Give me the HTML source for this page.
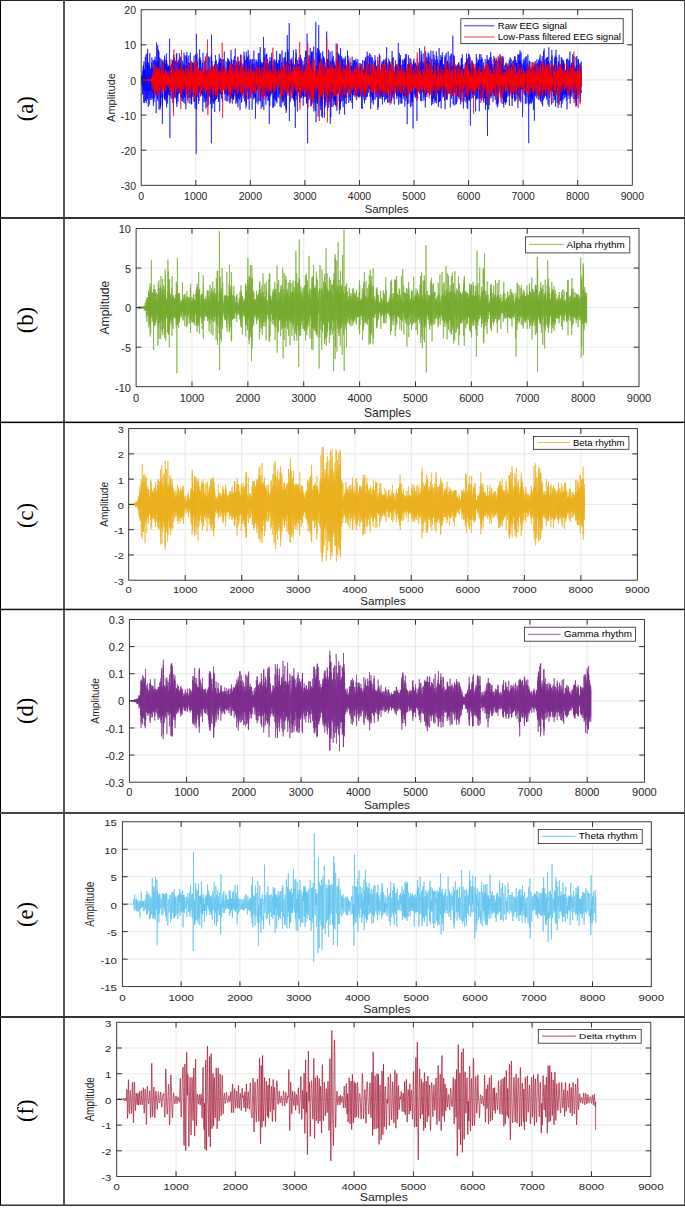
<!DOCTYPE html>
<html><head><meta charset="utf-8"><title>EEG rhythms</title><style>
html,body{margin:0;padding:0;background:#fff;}
body{width:685px;height:1211px;overflow:hidden;font-family:"Liberation Sans",sans-serif;}
svg{display:block;}
</style></head><body>
<svg width="685" height="1211" viewBox="0 0 685 1211" font-family='"Liberation Sans", sans-serif'>
<rect width="685" height="1211" fill="#fff"/>
<path d="M195.77 9.7V185.3M250.33 9.7V185.3M304.9 9.7V185.3M359.47 9.7V185.3M414.03 9.7V185.3M468.6 9.7V185.3M523.17 9.7V185.3M577.73 9.7V185.3M141.2 150.18H632.3M141.2 115.06H632.3M141.2 79.94H632.3M141.2 44.82H632.3" stroke="#e3e3e3" stroke-width="0.8" fill="none"/>
<clipPath id="clipa"><rect x="141.2" y="9.7" width="491.1" height="175.6"/></clipPath>
<g clip-path="url(#clipa)"><path transform="scale(.1)" d="M1413 791l1 14 2-26 1 74 0-105 3 70 1-64 0 57 3-42 1 178 2-9 1-142 0-89 1 175 3-214 1 241 2-259 0 323 2 53 1-300 1-112 2 129 2-29 1 316 1-339 1 170 1 59 1-204 3 108 1-195 1-62 0 440 4-37 1-346 0 386 3-412 0-56 1 489 2-291 0 163 3-2 0-156 3-109 1 356 2-459 1 331 1 128 1-503 1 227 1 198 2-264 2 208 1 211 1-380 2-67 2 193 1 53 1 85 2-189 1 283 1-396 2 249 2-369 1 381 1-191 1 50 1 4 1 224 2-134 1-179 3 183 1-124 1 233 1-301 1 224 2-142 2-134 1 330 1 44 0-424 3 407 1-310 1 8 2 136 2-115 1 232 1-333 1 264 3 194 0-283 1 111 1 95 2-378 2 230 0 188 1-278 2-15 1 248 3-379 0 255 3-181 0 177 1-281 1 310 3-262 1 336 1-6 1-294 1 73 3 409 0-413 2 106 2-402 1 505 1-41 0-271 3 147 1 223 1-349 1 349 3-535 1 503 0-198 2 254 2-405 1 281 1-392 1 416 3-17 1-379 0 130 1 450 2-274 1-245 3 66 1 202 1-199 1 253 2 197 0-421 2-3 2 400 2-486 1 356 0 106 2-366 2 298 0-236 2 71 2-109 2 168 0-278 1 82 2 216 2-171 1 516 1-629 0 452 3-200 1-248 2 118 1 169 2-194 1 160 1-241 2 188 2-131 1 295 1-7 0-192 3 218 1-441 1 422 0-390 2 386 1-331 3 42 1 317 2-365 1 256 1-47 2-245 1 128 1 290 1-88 1-395 2 539 1-468 2 378 1-348 2 347 1-313 1 7 2 360 2-94 0-273 2 204 1-220 2 298 0-294 2 268 2-171 1 137 1-190 1-30 1 164 3 116 0-324 2-240 0 336 3 655 2-717 1 76 1 179 1-8 2-242 1 296 1-182 2-117 2 162 1 20 1-207 1 237 1-152 2 6 0 259 2-27 2-140 2-222 0 218 3-114 1 236 2 91 1-417 1 64 0 332 3 73 1-539 1 330 0-178 2-91 3 366 1-396 0 342 2-97 2-202 1 25 1 343 2-205 1 174 1-349 1 319 2 45 1-237 1 125 2-117 1 140 2-335 2 78 0 412 2-505 2 296 0 243 2-396 2 309 1-358 3 67 0 253 1-246 1 211 1 109 2-304 1-117 1 341 2-29 1-113 2-183 2 193 1 39 1-313 2 32 1 369 1-219 0 196 2-16 2-238 1 214 1-305 2 404 2-290 2 249 1-301 1 242 1-289 1 428 1-220 2 185 0-282 3 15 2 209 0-58 1-178 3 334 1-406 1 30 2 235 0 112 3-350 0 302 2-224 1 179 1 124 3 12 1-501 1 425 0-303 2 327 1-315 2-8 1 314 2-413 1 262 1 223 1-274 3-53 1 204 2-261 1 438 0-234 1-303 2 180 1 128 2 72 2-256 2-161 0 248 1-193 1 219 4 153 0-284 2 156 0 184 3-335 0 308 2-351 1 164 2-129 0 221 3-324 0 324 1-117 3-86 0 301 2-209 1 148 1-287 2-1 1 407 2-77 1-432 2 4 1 326 1 106 1-225 2 190 1-290 1 349 1-236 2 294 2-326 1 320 1-215 2-146 1 236 2 55 0-281 2-61 2 81 1 243 1-277 2-49 2 196 1-3 1-184 1 10 2 336 2 39 1-464 0 262 1-155 2 300 2-227 1 279 1-308 1 42 2 339 2-333 1 189 3-398 0 287 1 90 2-194 1 21 1 788 2-1198 1 665 1-368 0 459 4-560 1 429 1-336 1 238 1 78 1-331 2 329 1-216 1 246 1-197 3-50 1 161 2 154 1-301 1-54 0 135 3 189 0-424 3 167 1-106 1-151 1 429 3-300 1 264 1-314 2 196 1 2 1 192 2-111 0-253 2 84 1 241 2-244 1 240 2-144 1 165 1-229 1 200 3 46 1-331 1 120 1 179 1-255 2 446 1-363 1-228 1 110 1 329 2-101 1-139 3 5 1 290 1-23 1-264 2-121 1 322 1 45 2-207 1-64 2 314 2-115 1-309 0 267 1-290 3 20 1 355 1 135 1-381 3 45 1 256 0-298 1 266 2-33 2-411 1 322 2 218 1-309 0 219 3-241 1 149 1-197 0 166 2 99 1-232 3 328 1-488 1 26 0 282 4-165 1 254 0-114 3-145 1 262 1-332 1-59 1 232 2-93 2 192 1-87 1 224 2-190 1-136 1-19 2 214 0 70 2-423 2 875 1-1086 3 321 0 305 1-363 2 302 0 173 1-426 3 20 1 158 1 175 1-346 2 6 2 366 1-102 1-222 2 295 1-303 1 110 2 50 0 167 1-328 3 288 0-338 3 466 1-478 1 17 2 352 0-127 1-272 3 386 0-448 2 49 1 350 2 0 1-269 1 38 1-114 2 386 1-340 2 338 1-186 1 75 3-238 1 85 0 205 2-152 1 149 2-254 1 274 2 30 1-302 2 345 1-174 1-222 1 221 2 152 2-458 1 62 1 328 2-334 1 520 1-203 0-209 3 214 1-286 2 235 0-286 3 362 1-188 1-118 1 296 2 15 1-291 2 329 1-320 1-73 1 349 2-226 1 63 2-179 1 416 1-56 2-288 2 112 1 85 2-163 1 91 1-202 0 212 3 96 1-103 1 55 0-202 3 225 1-361 1 161 2 266 1-244 1 154 3-41 1 194 1-75 1-159 2 155 1-189 1 124 2-248 2 137 1 195 0-228 2 84 2-34 0 247 2-299 1 150 2-8 1-233 2 104 1 234 1-382 1 424 2 9 1-380 2 317 2-359 1 259 1-129 1-91 1 310 2-335 0 246 2-182 1 106 3-159 0 418 2-146 1-214 2 149 2-152 1 53 1 270 1-258 2 191 1-428 1 478 3-109 1-274 1 364 0-247 2 63 2 212 1-300 2 351 1-399 1 344 3-165 0 69 1-6 2-278 2 79 1 252 0 65 2-348 1 338 2-390 1 368 1-317 3-86 1 259 0-172 2 273 1-4 1-221 2 152 2-363 0 465 1-181 3-114 1 381 1-112 1-183 1-83 1 306 3-260 1 280 1-366 2 393 2-252 1 271 0-40 1-343 3 308 1-376 2-14 1 505 1-342 1 256 1-266 2 167 2 93 1-366 1 280 1-282 3 181 1 134 0-270 2 339 2-139 1-183 1 427 2-272 2 121 1-405 2 426 0-242 1 33 0-144 4 196 0 144 2-234 1 302 1-390 1 383 3-54 1-211 0 205 2-286 2 10 1 244 1-230 2 188 1-247 2 170 1-136 2 200 2-128 0 201 1-61 2-367 1 294 1-172 3-81 0 456 1-398 2 220 1-175 2 189 2-216 1 307 0 54 1-396 2 47 2 438 1-363 1 312 2-516 2 538 1-390 0 322 2-171 2-152 1-99 1 356 1-343 2 252 1 39 2-244 1 34 1 332 2-491 1 279 1 64 1-141 3 289 0-439 2 101 2 242 0 202 2-436 2 73 0 90 2 83 0-309 3 275 1-261 2 66 0 281 3 7 1-375 1 392 1-340 2-2 2 194 2-129 0 185 2-4 1-231 2-59 0 501 1-11 2-375 2-123 1 343 1-191 0 115 3-213 1 290 1-153 3 87 0 125 1-287 2-199 1 460 2-332 1 336 2-282 0 193 3-119 1 170 1 52 0-391 4 377 0-240 1 456 1-510 2 235 1-261 3-33 0 410 2-36 1-257 1 168 2-306 2 35 0 251 3-264 1 158 2 79 0-169 2 92 1 84 1 182 2-294 0 262 1-481 3 303 1-202 1 265 1-273 2-93 2 301 1 32 2-121 1-58 1 66 2-94 0 358 2-544 0 532 2-406 2 367 1-263 1 139 3-221 1 469 0-444 1 225 3 60 1-240 1-56 1 250 3-259 0 294 2 149 2-319 2 197 0-235 1-56 0 228 3 91 1-353 1 237 1-486 2 388 1 340 2-196 2-327 0 79 2 304 1-210 2 125 1-395 2 295 1-226 1 292 2-120 1 228 2-26 1-293 1 34 0 384 3-397 1 324 2-18 0-414 2 318 1-323 2 404 1-309 2 327 1-249 1 245 1-366 2 152 2 269 2-48 0-294 1 332 1-364 3 25 1 331 1 7 1-259 3 498 1-412 1 94 1-307 1 75 1 374 2-493 2 367 1-7 2-177 1-77 0 290 2-356 2 293 1-23 2-153 0 216 2-364 2 301 0-352 3 172 1 205 1-257 1 271 1-217 2 293 2 84 1-369 2 224 1-326 1 340 2-171 0 296 2-391 1 163 2-189 1 44 1 294 1-163 1-238 3 224 1 246 1-355 2 271 2-112 0-250 2 43 0 346 2-106 2-137 1 12 1-175 2 337 2-243 0 321 1-503 3 359 0 163 3-193 1-209 2 226 1-217 2 91 0 119 2-215 1 336 2-115 0-158 1 26 3 253 1-52 0-326 3 294 0-200 2-83 1 217 2-289 1 403 1-231 2 356 1-349 1 93 1-270 2 324 2 47 1-170 1-36 2 370 2-420 1 196 0-172 1 174 2-230 1 256 2-375 1 527 2-237 2 220 1-352 1 242 2-203 1 293 1-415 2 362 0-264 2 97 1 242 1-282 2 168 0-226 3 107 1 275 2-150 1-338 2 297 1-248 2-30 0 382 3-449 0 273 2-147 1 228 1 204 2-390 2 438 1-469 0 442 2-485 1 198 1-146 2 291 2-387 2-222 1 520 1-293 1 332 2-419 1 450 2-92 1-331 2 340 1-238 1 264 1-254 2 224 1-188 1 257 1-692 2 980 1-525 1 241 1-280 2 255 2-204 2 319 0-425 2 282 0-162 3 124 1-186 1 150 2-196 1 294 2-295 1 40 1 293 3-89 0-269 1 293 1-223 2 31 2 218 1 85 1-351 1 114 1 155 3 85 1-483 1 278 2 215 0-289 1 301 2-326 2 255 2-220 1 352 0-422 3 346 0 22 2-202 2 7 1 463 2-702 0 373 1-63 2-269 2-129 1 469 1-430 1 263 2 52 1-161 2 314 1-361 3 24 0 135 2 318 1-514 0 60 1 190 3 52 1-146 1-62 1 226 2-2 0-279 4 23 0 262 2-350 0 244 2 143 2-372 2 123 0 122 1 193 1-442 2 191 2 213 2-66 0-375 1 54 1 190 4 184 0-374 1 241 2-118 1 254 1-394 3 114 0 227 2-280 1 301 1-243 0 258 3-290 1 177 1-110 2-131 3 84 0 364 1-354 1 265 1-261 1 275 3-336 1 196 1-6 2-175 1 238 2-238 1-88 1 357 1 42 1-257 2-77 1 305 1 23 3-455 0 117 2 328 2-104 1-346 2 254 1 206 0 70 1-204 3-12 1 208 1-691 1 661 2-309 2 744 1-497 1-242 2 318 1-380 2 195 1 122 1-175 2 184 1-43 1-321 1-19 2 422 2-265 1 241 2-269 1 135 1-282 1 388 1-72 1-393 2 300 2 182 1-349 1 265 2 187 1-377 1 371 2-482 1-59 1 392 1-253 1-130 2 515 2-354 1 180 1-352 2 139 1 215 2 145 0-258 3-58 0 201 2-224 1 271 1 4 1-485 3 649 0-294 2 211 1-217 3-31 1 205 0-279 2 234 1-117 1-95 2 52 2 327 0-254 1-265 2-371 2 1001 2-208 1-270 1 164 2-258 2 370 1-496 1 120 1 397 2-69 0-490 2 263 1 288 1-369 1 192 3-144 1 454 1-205 1-472 3 402 0-638 1 455 1-157 3 398 1-445 1 90 0 327 3 12 0-388 2 226 1 290 2-86 1-295 3 125 1 296 0-571 1 330 4-274 0 204 1-79 1 453 2-335 1-80 3-97 0 391 2-54 1-384 2 573 0-430 2-234 2 391 1-220 1 232 2 28 1-380 2 34 1 203 2-227 0 277 3 54 0-246 2 517 1-588 2 151 1 332 0 9 2-388 1 298 1-311 2 132 2 180 2 67 1-433 0 186 2 207 1-354 2 213 1-24 2-538 1 199 1 426 1-347 1 377 2 9 2-388 1 517 2-462 1 380 0-394 2-42 2 487 1-150 1-244 1-187 3 489 1-96 1-240 1 106 1 264 2-180 1 135 2-70 1-357 2-31 1 365 1 357 1-476 1 239 2-393 1 563 1-410 2 184 1-330 2 38 2 330 1 88 1-406 2 280 1-436 1 477 2-404 1 361 2-355 2 85 0 203 2 191 0-443 2-63 1 388 2 34 2-247 1 271 1-396 2 436 1-418 1 303 1-259 1 337 3-292 2-46 0 351 2-373 1 349 1-278 0 330 4-207 0 220 1-56 2-573 1 487 1-223 3 110 0 200 2 98 1-508 1 334 2-410 1 41 2 374 1-201 2-142 0 51 2 173 2-286 1 384 1-110 0 60 3-323 1 368 3-251 0 347 1-454 1 588 1-320 2 265 2-201 1-130 1 281 1-190 2 252 1-618 1 83 3 408 1-15 1-338 2-56 1 434 2 18 1-410 1-38 1 298 2 60 1-327 1 334 2-302 1-34 1 339 1 74 2-214 1 277 2-359 2 193 1-323 1 2 1 361 2-304 0 356 2-277 0 231 4 195 1-527 1-33 1 450 2-384 1 179 1-268 1 414 3-321 1 137 1-12 0-83 3-16 1 243 1 110 1-354 2-8 1 253 2-207 0 141 3 66 1-217 1-204 1 382 3-74 1-96 0-160 1 292 2-197 1 172 2-219 1 398 2 26 0-281 4 222 0-160 2-50 1 175 0-15 2-238 1 95 1 226 3-64 1-171 1 238 1-380 1-8 3 319 0-278 2 83 2-87 1 268 1-262 1 162 1-39 2 245 2-464 1 305 1 216 2-322 1 186 1-224 3-94 0 319 1-291 2 253 1 38 2-346 2 257 1-263 0 35 2 205 1 71 1-301 2-10 0 146 3 222 1-344 2 67 1 262 2-274 1 129 2 63 0-126 1-158 1 291 2-264 0 374 4 15 1-378 0 1 3 335 0-311 2 188 1-84 2 88 2 89 1-340 0 57 2 312 3-220 0 145 1-114 0 202 4-288 1 193 2-247 0 322 2-249 1 270 1-80 1-108 2 169 2-277 1-6 0 282 3-42 1-277 1 242 0-153 2-1 1 215 3-20 0-206 2-40 1 202 1 214 1-444 3 99 0 302 4 42 0-265 1 59 2-117 0-164 3 304 1 68 1-281 1 187 2-167 2 227 1-239 0 94 3 209 1-75 1-319 2 425 1-373 1 291 1-236 2-105 1 301 2 5 1-344 1 398 0-374 2 404 1-302 3 228 1-197 1 100 2 145 1-58 0-267 4-86 1 238 1-284 0 389 3-207 0 268 2-279 1 192 1-6 2-294 2-24 1 340 1 32 1-288 1 209 2-189 1 190 1-179 2 221 1-219 3-142 0 365 1-321 2 392 1-273 1 127 2-124 1 258 2 134 2-543 0 371 1-77 2 129 1-395 2 374 1-214 3-77 1 296 0 73 2-354 1-101 2 428 1-235 1 218 1-164 2-195 2-19 1 225 1 216 1-269 2-84 1 307 2-17 1-173 2-123 0 180 2-244 1 97 1 132 3-204 0-94 2 442 1-8 0-326 3-59 2 208 2 133 1-269 0 212 2-221 1 42 1 266 3-13 0-303 2 200 1-133 2-49 1 250 1-10 2-186 0 5 1 364 4-381 0 310 2 44 1-371 1 226 2-205 0-75 3 211 1 15 1-334 1 225 2 211 1 5 2-281 0-141 1 432 2-295 2 240 2 33 1-236 1 216 1-246 2 270 0-176 3-73 1-76 1 291 2-319 1 0 2 267 1 107 0-185 2 236 2-404 1 117 1 212 2-361 1 362 2-92 1-260 2 309 0-329 2 7 1 165 2-2 1 169 2-272 1 355 1-72 2-291 0 165 3-135 2 183 0-275 1 254 2 150 1-283 2 207 1 47 1-388 1 329 1-285 2 359 1-512 2 515 2-359 0 213 1-137 3 40 1 277 2-30 0-290 2-49 2 378 2-319 0 166 3-2 0-245 1-43 1 219 1-60 3 133 1-129 1 214 1-355 1 414 2-234 2 132 1 3 1-303 1 179 1 71 2-229 0 209 3-142 2 146 0 179 1-328 2 207 2-219 1 316 2-345 1 141 1-296 2 454 1-383 1 60 1 308 2-223 2 163 1-184 1 280 1-413 1 357 2-200 1 202 1 9 2-233 2 49 1 289 1-307 2 81 1 35 1-135 2 52 0 165 3-265 1 168 2-235 1 274 1-223 1 249 1-230 1 230 2-262 2 320 1-186 2 211 2-311 1 119 1 131 1-275 2 304 1-291 2 178 1-173 1 23 2 272 1-533 0 517 3 101 1-423 2 248 1-195 0 184 2-275 1 362 2-421 1 83 1 362 1-338 3 292 0 106 1-439 2 375 1-418 2 95 1 270 1-253 1 268 2 103 2-387 1 163 1 174 3-312 0 365 2-114 1-177 2 162 1-259 1-53 1 264 1 63 1-126 3 159 1-352 1 337 2-261 1 307 2-346 1 300 0-228 3 247 1-372 1 304 1-209 2 384 2-476 1 352 1-364 1 151 1 175 3-366 1 470 2-42 0-367 3-58 0 435 1-28 2-142 1 172 1-278 1 31 1 126 2 383 1-464 2-116 0 376 3-328 1 246 1-5 2-230 1 203 1-373 2 153 2 332 0-244 3-153 0 200 1-202 2 252 2-227 1 251 2-223 0-109 3 360 0-245 1 135 2 241 1-316 2 35 1-201 1 213 2 156 1-291 2 126 1 225 1-240 2 283 1-410 1-12 2 362 2-30 1-309 1 355 1-310 2 576 2-473 1 35 1-237 1 215 1-205 2 189 0-113 2-106 1 352 3-305 0 205 2-81 2 50 1-69 0 228 3-323 1 299 2-319 1 177 2-69 1 134 0 115 3-227 0 208 2-267 1-45 2 251 2-242 0 549 1-212 3-412 0 181 2 192 2 29 1-337 1 228 1-214 2 238 1-122 2-112 1 178 1 70 1-293 1 5 3 235 1-15 0-151 2-217 2 455 1-287 1 277 1-42 2-195 2-60 1 377 1-90 0-250 3-55 2 315 0-420 2 327 2 179 1-464 1 255 0 95 4-24 0-211 2 194 1-144 1 180 2-190 1-86 1 309 2-392 0 474 3-114 0-261 3 7 1 197 2 116 0-231 1 252 1-324 3 297 1-291 1 208 1-257 3 394 1-197 0-121 1 392 4-562 0 241 2 187 0-234 2 62 0-160 3 340 1-167 2-214 1 402 1-27 2-255 1 240 1-347 1 285 2-129 1 80 1-207 3 200 0-285 1 200 1 92 2 111 2-328 1-64 2 208 1 161 1-282 2 166 1 171 1-302 1 292 2-383 0 381 2-6 1-185 3 105 1-203 2 120 1-272 0 135 2 210 2 5 1-227 1 68 1 355 2-463 1 402 2-290 1 307 2 13 1-359 1 205 2-193 1 367 1-534 1 25 1 398 2-81 2-211 1 348 2-193 1-245 1 434 1-397 2 336 1-163 1 200 2 69 1-401 3 249 1-269 1-5 1 409 1 4 2-301 1 289 2-245 2-243 1 250 2 67 0-189 1 390 1-473 2 193 2 163 0-264 2 155 1 124 1-338 2 45 2 180 0-189 2 317 2-255 0 380 2-164 2-221 1 41 2 293 0-539 2 538 2-322 1 190 1-233 1 351 2-44 1-354 3 319 0-326 2 409 1-358 2-101 1 464 2 70 1-395 1 218 1-337 1 350 2-214 2-135 1 191 0 81 1-306 3-12 1 356 1-204 1 299 3-330 1 278 0-48 1-233 2 325 2-209 1 163 2-272 2 288 1-261 1 23 1 309 2-46 1-377 1-17 2 524 0-541 3 385 0-257 2 258 1-245 2 168 2 41 1-374 0 454 2-345 1 356 1-211 2 85 0 116 4-373 0 392 2-394 1 347 3-91 0-227 2 131 1 107 1-362 2 335 1 88 0-206 2 86 1-108 3 106 0-178 1 1 2 278 2-176 1 165 1 30 2-371 0 125 3 182 0 204 1-379 2-24 2 150 1-275 1 356 2-367 2 327 0-178 1 303 2-217 1 137 2 23 2-237 1-39 1 251 2-206 1 262 1-61 0-543 3 686 2-374 1 209 1-330 1 6 2 365 2 136 0-421 1-29 3 231 0-277 2 369 1-125 1-142 2 1 1 255 2-1 1-147 2-38 1 317 2-392 0 132 3-105 1 344 1 12 1-174 2-208 1 249 2 113 1-302 2 249 1-213 1 202 1-299 1-11 0 145 3 132 2-206 2-86 1 285 1-252 1 308 2-349 1 371 1-9 2-313 2 242 0-212 1 254 2-300 1 271 1-247 1 241 3-257 1 38 1 342 1-298 0 251 3-105 2-307 0 330 2-177 2-157 0 243 3 193 0-351 3 203 1-209 0-117 2 355 2-203 1-49 2 281 0-119 2 140 1-242 1 380 2-393 1 159 2-166 2 43 0 90 1 194 1-309 2 198 2-154 1-68 1 287 3-30 1-313 0 190 1 156 3-27 1-212 2 295 0-391 3 117 1 153 1-368 1 296 1 172 2-407 1 101 1 380 2-74 1-378 2-10 1 475 1-505 2 423 2-95 0-273 2 53 1 168 1-325 1 440 2 13 1-175 3-145 0 327 3-450 0 460 1-150 2-222 2 239 0-299 3 681 1-561 0-16 2 237 1-189 2 200 2 61 0-320 3 244 0-232 1-42 2 134 1-168 2 340 1-278 1 261 2-46 1-267 1 366 1-296 2 240 1-280 2 198 1 144 1-315 2 204 1-240 1 300 2 13 0-139 2-126 1 197 2-157 1 232 3-262 0 168 2 10 1-173 3 415 0-345 1 4 2 109 2 30 0-274 1 217 1-313 3 444 1-299 1 309 1-413 2 397 0-276 2-79 2 327 1-32 1-209 3-71 1 349 0-249 3-136 1 78 1 229 3-62 0-254 1 331 1-289 2 478 1-504 2-69 1 391 1-217 1 267 3-286 0 290 2-289 2 224 1-63 1-258 1 334 0-392 4 225 0 207 3-228 0 260 1-91 2-339 2 403 0-388 2 286 2-223 0 242 2-170 1-46 2 111 1-53 1 246 1 21 1-377 2-3 2 400 2-313 1 172 2-101 1 201 0-300 1 252 2-207 1 239 2 11 2-361 0-26 1 371 2 135 2-405 1 362 2-391 1 230 2-187 1 77 1 200 2-334 1 395 2-133 0-361 2 372 1-305 2 743 0-770 2 69 2 247 2-133 1-127 2 192 0-239 1 115 2 382 1-194 2-310 2 460 1-364 0-25 2 220 1-98 2-213 1 99 2 313 1-34 2-250 1 189 1-371 2 246 0 196 3-394 0 333 2-287 1 361 2-234 1 185 1-93 0-95 3-100 1 309 1-200 1-53 3 131 1-146 1 82 1 259 2-365 1 276 1-253 2 248 1 0 2-366 1 116 2 287 2-315 1 313 1-19 1-359 1 88 1 217 2-181 1 291 1-62 3-259 1 186 0-254 3 307 1-318 1 55 0 393 2-10 1-321 3-123 1 354 2-16 0-318 2 463 2-362 2-28 0 185 1 190 1-325 3-20 0 321 3-460 1 326 0-30 1-262 2 325 0-216 3 195 2-279 2-16 0 232 2-268 1 259 1-299 1 324 2 108 2-357 1 337 1-306 1 236 2-322 1 462 2-374 1 55 1 237 2-337 1 225 2-14 1 70 1 27 0-303 4-40 0 420 2-138 1-291 1 330 1-229 1-81 2 458 2-346 1 382 3-73 0-303 2 323 0-307 2-63 1 179 2 186 0-301 4-19 0 263 1 26 1-295 2 354 1-410 3 290 0-224 2 327 0-384 2 372 2-341 1 52 1 255 2-319 1 149 2-76 1 124 1-206 1 208 2-148 1 253 1-335 2 141 2 148 1-243 0 11 2 157 2 93 1-274 1 294 1-179 2-182 1 461 1-109 1-160 4 154 0-220 1 155 1-308 3 174 1 178 1-24 0-244 2 167 1-138 2-95 1 244 1 29 3-227 1 112 1 237 1-313 1 389 3-220 1-178 1 323 1-374 2 285 1-221 1-12 1 80 1 202 2-343 1 66 1 246 2-8 2-170 1-38 2 281 1-415 2 442 1-4 1-318 2 332 1-451 1 113 1 159 2 94 1-267 2 216 0-281 2 398 2-368 0 269 2-124 1-145 1 211 3-206 1 303 1-91 2 97 1-256 1 168 2-312 1 535 1-306 1 201 3-115 1-310 1 401 1-332 2 337 1-223 1-10 2 266 1-53 2-391 1 153 0 164 2 57 2-412 1 502 1-401 1 55 3 238 0-137 2 263 2-218 0-283 2 216 0 135 2-248 2 265 1-232 1 199 3-160 1 196 1-141 1 414 2-116 1-259 1-148 2 202 1-249 1 300 2-11 1-231 2-23 1 291 1-16 1-193 2-132 1 308 1-201 2 262 2-343 1 338 1-154 1 242 3-26 1-441 2 283 0-186 1 56 1 195 2 126 1-312 2 162 2-327 1 58 1 349 1-69 0-243 3-25 2 265 1-220 1 172 2-308 1 485 2-18 0-194 2-150 1 250 2 515 1-669 1 107 2-204 2-59 1 435 0-360 1 142 2-170 2 299 1-337 1 284 3 120 0-316 2 33 2 299 1-111 0-153 3 197 1-289 1 245 1-169 1 278 1-347 3 334 1-276 1 54 1 190 1-367 3 379 1-31 1-315 2 225 1-211 2 63 0 366 2-123 2-255 1 218 1-305 1 11 2 240 1 323 1-552 1 299 1-306 3 171 1-99 1-110 1 319 2-256 1 220 1 69 2-228 2-93 1 259 1 83 0-189 4 106 1-307 2 34 0 284 2 11 0-206 3 110 0-199 2 334 1-183 3-32 0 196 2-108 0-163 3-71 0 336 3-289 0 354 1-284 0 268 3 4 1-410 2 360 1-292 1 290 2-335 2-57 1 382 1-321 1 409 1-159 2-212 1 369 2-314 1 263 1-348 2 337 1-311 1 62 1 144 2 195 2-481 1 39 1 228 2-84 0 321 3-238 1-174 1 103 2 246 1-190 2 120 0-421 1 445 2 18 1-299 2-190 1 497 3-35 1-345 1 359 0-287 2 267 2-202 1 209 1-297 1 82 1 153 3-300 1 370 2-309 0 319 3-18 0-362 2 413 1-328 3 307 0-407 1 356 2-265 2 189 0-281 2 267 1-218 1 428 2-413 2 243 1-199 1-65 1 169 1-307 2 460 1 135 1-438 2 32 2 316 0-156 1 127 3-29 1-144 1-74 1 66 3 139 1-230 0 200 2-275 2 139 1 166 1-237 0 345 4 30 1-547 2 339 0-77 1 130 0-335 3 136 1 227 1-252 1 242 3-196 0 317 2-56 0-258 3 241 1-128 2-125 1 132 2-176 1 261 2-342 1 384 0-256 2 295 2-120 1-256 1 366 1-437 2 138 1 372 1-87 1-407 2 367 1-440 2 176 1 242 3-127 0 117 1-333 2 290 2 169 1-374 1 22 1 270 1-238 2 193 1-151 2 161 1 164 2-450 1-19 1 232 2-213 2 406 0-194 2-294 2 65 1 345 1-34 1-227 3-54 0 319 1 45 2-266 2 271 1-258 0 202 2-210 1 256 2-297 3-133 0 506 1-344 1 254 2-344 2 351 1-411 1 455 1-436 1 365 2 1 2-229 0 186 2-280 2 359 1-234 2 161 1-331 1 199 1-73 2-107 1 330 1-203 2 240 1-341 2 280 1-188 2 214 1-251 1 227 1-161 1 206 2-269 1 240 2-232 1 139 2 35 0-78 2-117 1 317 1-417 2 358 2-353 1 498 2-90 1-152 2-194 1 198 0 53 1-321 3 32 0 342 2-6 1-255 3-14 1 247 1-104 1-223 2 383 1-343 2 191 0-241 2 351 1-260 1 149 1-321 3 522 1-260 1 192 2-307 1 130 0 95 3-178 1 236 1-301 0 213 3 53 1-282 2 338 1-330 1-10 2 266 1-3 2-202 1-145 1 361 2 20 0-219 3 286 1-344 1 173 2-201 0 317 1-244 2-129 1 227 4 166 0-301 1 90 1 217 1 26 3-319 0 30 2 206 1 109 1-309 3-20 1 194 1 190 1-498 2 69 1 227 1-109 1 298 3-494 0 380 2 44 1-298 1-34 2 261 1-159 2 113 1 74 1-347 1 41 2 209 2 48 1-302 2 298 1-176 0 275 1-337 3 36 1 215 1-198 1 196 3-243 0 254 3 16 0-197 1-97 1 387 2-25 2-326 2 40 1 94 1 61 1-249 1 53 1 260 2-21" stroke="#0000ff" stroke-width="6.0" fill="none" stroke-linejoin="round"/></g>
<g clip-path="url(#clipa)"><path transform="scale(.1)" d="M1412 799l2-1 1 3 2-2 0 0 2 2 2-5 1 2 1 0 1 3 3-1 1 2 1-1 1 6 2-5 1-8 2 7 1-8 1 6 1 12 2-11 1-8 2 0 1-5 1 6 2 19 1-16 2 18 0-7 2-15 1 1 1 12 3-13 1 8 0 7 2-10 1 4 2-3 2-1 1 10 1 1 1-8 1 1 1-5 3-2 1 9 1-13 2 13 1-10 1 16 1-15 2 10 1 2 1-11 2 9 1-10 2 1 2 15 0-1 2-11 2-5 1 7 1 0 1-1 2 10 1-14 2 9 1-9 1-4 2 6 2 11 1-11 1 19 1-37 1 29 2-26 2-5 1 27 1-22 2 65 0 41 1-103 2-17 2 83 2-29 1-66 0-44 2 123 2-117 1 186 1-25 1-145 2 65 1-62 1 74 2 80 2-69 1 120 2-299 1 305 0-45 3-179 0-17 2 158 1 3 1-193 2 242 1-232 3 206 1-64 0-105 2 188 1-251 2 153 1 58 1-164 2 115 1 117 2-223 1 37 1 202 2-275 1 166 2-115 0 12 2 157 1-1 2-209 1 160 1-137 1 143 3-100 0-33 1 67 2 169 2-172 1 117 1-250 1 118 1 62 3-72 1 61 2-94 1 89 1-49 2 131 0-42 1-98 2 0 2-45 1-25 1 236 2 7 2-215 0 36 1 98 2 89 1-237 2 136 1-105 1 85 2-217 1 245 1 57 2-123 1 100 2-150 1 78 1-44 2 92 1 27 2-145 2 74 1-101 1 151 2-157 0 41 1 87 2 74 1-58 2 63 1-206 2 137 1-133 1 38 2 73 1 3 2-86 1 114 2-79 1-52 1 87 1 44 2-91 2 100 1-118 0-9 2 129 2-107 1 81 1-75 2 42 1 12 1-100 2 160 1-95 2-44 1 156 1-110 0-32 4 83 1-52 0 11 2 48 2 60 1-116 2 196 1-304 1-85 2 162 0-57 2 193 1-213 1 228 2-232 1 204 2-86 1 59 2 11 1-104 1-43 1 192 1-156 3 123 0 31 2-128 2 381 1-390 2 109 1-246 0-137 2 392 1-155 1 86 2 17 1-126 3 17 1 85 1-73 1 188 2 37 1-174 1 189 2-284 0 56 1 81 2 22 2-261 1 177 2 79 1 27 2-154 2 179 1-195 0-34 1 139 2 35 2 74 2-225 1 164 0 4 1-86 2 104 2-180 1 144 1-38 2-3 1-91 2 5 1 189 1 5 1-176 3-38 1 214 1-144 1 134 1-171 1 141 3-189 1 277 1 133 1-350 2 202 2-160 0 43 2-325 1 269 2 111 1-103 2 140 0-75 2-142 2 189 1-169 1 132 1-90 3 12 1 52 1-135 1 201 1-29 2-104 1 7 1 121 2-32 2-149 0 41 2 93 1-47 0-35 3 76 1-43 2-67 1 119 1 25 1-219 2 74 1 222 2-204 2 85 1 78 1-161 1 8 1 110 2-66 1-120 2 296 2-258 0-17 1 98 2-54 2 103 2-19 1 207 0-74 1-264 3 184 1-205 1-21 1 219 1-123 2 70 2 84 1-194 1 18 1 87 2 33 1-99 2 153 2-44 1-66 1 75 2 108 1-290 1-67 2 231 0 15 2-199 1 200 2-254 1 90 1-50 1 130 2 157 1-234 2 203 1 3 2-107 1-1 1 66 1-96 1 85 3-133 1 81 1-10 1-72 3 143 1-69 1 192 1-362 1 75 2 228 1-91 1-226 3 307 1-211 1 210 1-169 1 233 2-290 2 17 1 204 1-123 1 65 1-131 2 98 1-25 2-195 1 314 2-178 1 205 1-277 1 124 2 159 2-224 1 239 0-33 2-191 2 91 1-102 1-19 1 153 2-136 1 129 2-111 2 102 0 9 1-93 2 105 1-162 2 135 1-145 2 26 2 126 1 117 1-120 1-39 1-118 2 224 1-165 2 13 1 140 1-6 1-88 2-105 2 104 1-106 2 98 1 112 1-154 2-74 1 89 2 50 1 24 1-102 1 138 2-34 1-127 1 23 1 81 3 63 1-97 1-45 1-34 2 99 1-67 1 169 2-123 0 0 2 145 1-131 1-238 2 334 2-146 1 150 2-130 1-10 2 145 0-48 1-101 2 78 1 7 2-24 1-138 2 205 1-328 1-162 2 431 2 325 1-344 0-62 2 95 2-121 1 116 1 56 2-175 1-9 1 214 2 48 2-259 0-18 2 129 1 21 1 55 2-174 1 136 1-114 2 149 1-46 1-188 3 62 1 137 1-137 2 152 1-145 1 133 2-29 1-116 1 140 1-208 2 128 2 149 0 24 1-171 2 78 1-100 2 76 2-144 0 49 2 237 1 20 2-336 1 222 1-139 1 167 2-166 1 119 2-155 2 99 1-116 1 89 0 74 3-76 2 177 1-306 1 288 1-59 2-122 1 54 1 142 2-244 1 130 1-179 2 177 2 74 1-200 0-28 2 203 1-138 1 192 2-248 2 88 1 188 2-170 1 3 2-34 2-15 0 56 1 79 1-103 3-82 1 105 0-11 2-78 1-1 2 107 1 48 1-53 3 78 1-96 0-46 1 178 2-72 2-137 1 25 1 60 1-15 2-132 2 268 1-202 2 32 1 81 2 11 1-263 0-161 2 489 1-173 1 437 2-444 1 123 1-142 2 170 1-72 2-100 2 175 1-135 2-55 1 142 1 65 2-196 0 4 2 166 1 16 2-120 1 19 1-114 1 125 3 82 0-34 1-109 2 142 1-131 2 153 1-207 2 111 1-138 1 6 1 99 2 60 1-54 1 80 2-123 1 15 2 55 2 24 1-28 1 70 2-149 1 147 2-178 1 230 1-117 1 24 1-135 2 10 1 95 2 157 1-286 1-27 1 263 3-167 1 87 0 21 3-79 1 251 1-398 1 117 0 206 3-66 1-121 1 40 1-92 3 156 1-224 1 60 2 152 2-178 1 265 0-94 1-125 2-11 2 137 1-110 2 115 1-114 2 153 1-10 1-69 2 32 1-111 1 72 1-166 2 138 2 23 0-36 2 123 1-177 1 89 3 6 1-110 0-14 1 221 2-97 2 77 1 2 1-139 2-144 2 134 1 66 1-122 1 216 2-76 1-113 2 240 1-74 2-97 1 15 1-75 1 156 1-304 3 232 1 103 0 21 2-97 1 13 2-145 1 187 2-115 1 49 2-73 0 25 2 84 2-125 1 82 2 26 1-128 0-57 2 272 2-174 1 90 1 4 2-154 1 67 2 120 1 73 1-78 2-320 1 324 1 67 1-206 1 88 2-159 1 90 1 111 2-151 2 61 1 39 0 50 2-31 2-166 2 314 1-214 2 127 1-178 1-20 1 162 2 9 1-122 1-31 2 92 2 70 1-151 0 22 1 62 3-93 1 44 1-87 2 283 1-322 2 278 1-15 2-68 1 169 1-229 1 157 2-163 1 35 1-71 1-10 2 102 1-102 2 147 1-72 1-78 2 152 1-56 2-120 1 188 2-173 1 182 1 12 1-81 3 16 1-76 0-23 1 101 2-75 2 84 2-162 1 195 1-100 1 197 2-351 1 317 1-35 1-153 3-46 1 127 2-36 0-83 1-20 1 244 2-217 1 139 3-60 1-19 1 44 1-85 2 109 1-143 1 13 1 188 1-26 1-164 2 166 2-167 1 223 1-203 2 67 0-40 3 30 1-88 1-5 1 133 2 91 1-138 3 21 1 127 0-22 1-139 2 58 2-155 1 125 1-73 2 20 2 88 1-168 1 187 1-99 1 110 2-113 2 126 1-138 1 149 1-44 1-180 2 5 1 141 1-77 2 141 2 108 1-170 2 73 1-111 2 55 1-154 0-10 1 128 3 14 1-59 1-25 2 212 1-179 2 110 0-18 2-135 2 161 1-165 1 47 1 84 1-83 3 64 1 29 1-84 1 119 2-173 1-46 2 305 0-123 3-115 0-22 1 133 3-98 1 206 1 30 2-190 1 37 1-166 1 18 1 180 2-171 1 177 3-21 1-154 2-84 0 104 2 99 1 66 1-179 1 293 1-219 1 105 2-96 1 37 2 26 2 59 1-74 2-243 0 37 1 147 4-49 0 86 1 92 1-129 1 86 2-120 1 93 1 23 2-243 2 210 2 119 1-140 1 32 1-141 3-4 0 132 1 75 1-91 2-2 1-68 2 142 1-145 2 7 1 100 1-101 1 175 2-228 1 228 1-195 2 138 2-21 1-41 1 119 2-121 2-58 1 166 0-39 1-155 2 59 2 68 1-95 1 86 2 6 2-47 0 31 2-339 1 312 1 94 3-145 1 171 0 24 2-199 1-75 1 145 2-59 1 143 3-130 1 127 0 30 2-213 1-14 1 96 2 125 1-101 1 72 3-63 1-133 1 129 1-29 1 70 2 9 2-149 2-2 0 37 2 78 1-37 2 26 1 52 0-3 3-91 1 19 1-73 1-6 2 145 1-25 1 47 1-7 3-182 1 100 1-88 2 25 1 121 1-107 2 126 1-136 1 52 1-45 2 43 1 81 1 68 1-95 3-59 0-50 1 79 3-91 1 188 1 83 1-285 2 55 2 241 0-78 2-267 1 283 2-130 2-83 1 115 2 2 0-126 1-100 2 264 2-165 1 194 0 47 2-213 1 117 1-86 2-95 2 169 2-19 1-65 1-99 2 193 1 59 1-185 1 23 2 75 1 8 1-88 2 159 1-98 1 6 2-148 1 101 1 77 3 106 1-255 0-64 2 201 1 116 1-144 2 52 1-112 2 4 2 117 0 45 2-111 1-25 1-167 2 98 1 184 2-18 1-155 2 244 1-261 1 153 1-37 2-71 1 122 1-59 2-13 1 15 2 27 1 1 1-62 1 36 2-185 1 199 1-96 2 20 2 237 1-46 2-216 2-9 0 53 3 11 0 31 1 45 2-110 1 54 1-86 2 209 1-139 1 165 1-185 2 74 1-171 1 154 2 56 1-50 2-78 1 91 2-74 1 71 1-144 1 103 1-113 2 89 2 108 1-32 2-112 1 143 2-208 1 229 1-199 1 53 2 137 1 1 1-277 2 294 1-75 2-76 1 80 2-47 1 69 1-34 2-152 0-9 1 314 3-139 1-133 1 15 2 121 1-139 1 190 1-70 2-86 1 16 2 89 1-169 1 185 2 90 2-527 0 156 2 390 1 131 2-374 1-13 2 209 0-77 2-127 2 145 1-118 1 197 1-105 2-26 0-73 3 93 1-144 1-27 2 218 1-75 1-108 2 29 2 141 1-50 1 104 1-65 0-92 3-21 2 81 0 40 2-78 2-66 1 207 1-55 0-167 3-5 2 143 1-90 1 126 2-130 1 168 2-298 1 237 2-157 1 189 0 63 1-174 2 60 2 84 1-229 1 176 2-177 2 139 0-13 2-48 1 110 1-129 2 69 1 63 1 4 2-448 2 642 1-377 1 18 2 178 1-141 1 128 2-330 1 224 1-168 2 368 1 2 2-193 0 5 2-138 2 224 1-153 1 69 0 72 4-221 1 271 0 55 1-248 2 86 1-114 3 301 1-319 0 41 2 180 2-164 1 29 1 23 2 45 1-82 1 92 2 148 2-141 1-234 1 417 1-342 1 199 2-45 2-266 0 62 1 449 2-272 2-111 1 160 2-267 0 111 1 133 2 26 1-86 2-43 2 184 1-156 1 163 2-246 0 27 2 5 2 136 2 37 1-134 1 10 1 100 2-74 2 52 0-20 2-69 1-14 1 163 2-215 2 108 0 36 2-126 2 151 1-130 1 153 2-106 1 37 1-38 2 219 1-291 1-71 2 418 1 164 1-573 2 163 2-178 1 332 1-260 1 245 1-215 2 183 1-99 1 67 2-149 2 238 1-356 1 108 2 194 0 30 2-183 2-150 1 204 1-73 1 204 2-198 1 94 2-109 1 180 1-142 2 226 1-335 1 135 2-14 2-26 0 24 2 123 1 20 2-275 1 14 2 48 1 141 2-153 0 61 1 125 2-46 2-47 1-31 1 214 2-126 2-70 0-4 2-73 1 131 1-104 2 235 2-572 0 172 2 354 1-84 1-145 2 53 1 486 1-550 2 193 1-119 2 211 1 14 2-283 1 127 1-127 2 209 2-48 1-149 1 176 1-74 2-60 1 14 1-152 2 107 1 221 1 117 1-313 2 45 1 129 2-39 2-195 0 96 2 137 1 12 1-171 2-60 1 164 1-104 1 93 3 10 1-218 1 122 1-106 2 100 0 77 3 106 1-193 2-59 1 243 2-248 1 288 1-232 2 201 0-35 2-170 1 99 2 131 1-55 2-156 1-65 1 48 1-9 1 191 2-107 1 139 2-166 1-112 1 95 1 196 3-151 1-223 1 243 1-73 3 114 1-91 0-72 2 360 1-350 2 186 1-85 1-380 1 435 1-76 2 44 1-118 2-12 2 164 1-184 1 184 1-204 2 272 2-29 1-288 1 46 1 282 1-249 3 87 1 55 1-118 2-70 1 126 2 123 1-115 1-173 1 376 1-137 2-97 1 79 2-120 1 166 1-88 1 39 3-94 1 90 1-111 1 83 1-117 3 11 1 146 1-82 1 180 1-81 2-100 1-18 2 116 0-62 2-145 1 114 2 125 1-120 1 174 2-135 2-21 0-31 1-64 2 5 1 242 2-267 1 207 2-62 2-86 0 45 2 49 2-34 1 81 1-184 2 191 1-239 2 335 1-270 1 136 1-103 2 78 2 33 1-54 1-137 2 169 0 16 1-56 2-40 1 111 2-56 2 37 0 11 2-171 1 17 1 189 2-176 1 218 2-299 2 320 0 3 1-375 2 360 2-159 1 51 1-110 2 148 1-125 2 190 1-147 1 101 1-121 3-63 1 100 1-33 1 42 2 69 1-170 2 185 1-163 0 5 2 40 1-46 2 137 1-19 2-83 2-15 1 92 1-34 2 79 0-33 2-136 1-39 1 164 2-76 1-110 2 257 1-121 2-33 1 67 1-4 1-56 2-83 2 275 0-61 1-188 3-25 1 93 1 95 1-227 1 337 2-97 1-12 2-169 1 125 1-94 2 144 1-73 2-130 1 187 1-49 2-38 2-38 1 122 0 63 2-210 2 20 1 118 2-10 1-137 1-57 2 227 1-210 2 212 0-35 2-70 1-32 1 224 2-94 1-151 1 34 2 80 1 17 2-124 1 72 2 132 0-45 2-252 1 137 2-102 1-2 1 242 2-110 0 53 3-135 2 90 1 20 1-61 3-16 0 70 1 97 1-152 3 49 1-76 0-73 2 257 1 53 2-273 2-13 1 178 1-120 1 199 2-90 1-85 1 68 1-105 1 200 2-211 2-13 1 195 1-271 1 261 2-291 2 191 0 11 2-60 1 69 2 72 1-38 1-120 3 88 1 44 0 31 2-83 2-66 1 114 2-122 1 113 0-51 1-75 3-84 1 221 1-85 2 67 1 8 1-58 1 38 1-70 2 77 2-164 1 93 1 112 3 24 1-110 0-35 2 128 2-148 1 185 1-173 1 134 3-20 1-190 0-40 1 110 2 85 2-73 1 174 2-275 0-17 1 194 2-53 1 103 3-18 1-65 2 126 1-178 0-82 2 217 2-6 1-214 1 40 1 193 2-86 1-23 1-12 2-90 1-11 1 160 2 115 1-167 1 161 1-239 2 170 1-158 2 125 1-101 2 83 1 81 2-25 1 50 1-59 1-60 2-62 2-125 0-54 2 276 1-239 1 304 2 2 2-191 1 119 1-139 1 125 3-78 0-92 2 240 1-105 1 80 3-73 1 172 0 7 2-274 1 187 2-178 2-7 1 190 0 13 2-107 2-124 1 220 2-87 1-82 1-2 2 118 0-31 3-75 1 186 1-279 1 257 2-213 1 106 2 105 1-259 1 300 1-11 1-283 2 241 1-137 1 67 2 100 1-62 2 87 2-8 1-115 1-51 1-167 2 51 2 135 1-23 1 145 1-250 2 184 2 74 1-157 0 11 1 51 3-102 1 135 1-154 2 262 1-103 1-71 2 63 1-55 2 1 1 37 2 100 1-265 0-17 2 184 2 53 1-178 2 14 1 193 1-210 1 119 1-125 1 170 2-151 1 125 2-36 2-102 1 14 2 215 1-288 1 397 2-282 1 154 1-206 1 180 3-52 1-168 0-35 2 173 1-106 2 146 1-91 1 147 2-308 2 370 0-47 2-166 1-105 1 166 2-92 1 156 2-153 1 130 2-79 1 61 1 8 1-138 1 61 3 54 1-9 1 101 1 8 1-158 2-104 1 178 1-96 3 64 1 117 1-110 1-37 1-36 2-19 1 86 1-93 2 189 1-132 1 56 2-49 2 38 0-13 2 72 2-26 1-211 1 60 1 251 2-154 0 60 2-29 2-110 2 123 1-216 1 76 1 166 3-149 1 104 2 44 0-66 1-79 2 181 1-120 2-75 2 42 1 44 2 20 0 73 1 47 2-192 2 104 1-153 1 156 2-146 1 178 1-174 1-44 1 212 3 55 1-159 0-74 2 148 1 9 2-107 1 1 1 65 2-39 1 36 1-60 2 132 1-50 2-122 1 204 2-243 1 263 1-214 2 132 1-43 1-81 1 69 2-42 1 104 1-139 1 45 3 65 1-47 1-19 2 195 0-29 2-149 1 91 2-95 1-34 2 61 2 24 1-82 0-59 2 173 3-74 0-86 1-59 1 224 2-222 1 341 1-247 2 142 1 11 2-124 1 181 1-202 3-74 1 119 0 62 2-86 1-64 2 229 1-16 2-299 0 12 3 168 1 138 1-111 1-87 2 82 2-8 1-61 1 105 2-192 1 173 1-206 1 290 2-172 1 39 2 37 1 46 1-142 2 113 1-66 1 73 1-53 2 114 2-103 1 9 1-92 1-21 2 169 1-182 1 101 1-43 2 75 2-85 1 87 1 65 2-82 1-8 2 38 0-25 2-155 2 222 1-112 1 17 0 32 4 66 1-69 0-32 2-51 1 3 2 90 1-49 2 172 0 61 2-484 1 246 2 108 1 40 1-268 2 132 1 83 2-26 1-145 2 207 1-128 1 78 1-52 3 64 1-116 0-28 2 139 1 83 1-156 3-209 1 314 1-105 1 83 2-157 1 171 1-148 1 78 3-64 1 46 0 14 1-60 2 47 2 123 1-153 1 66 2-84 1 82 2-52 1 132 1-110 2 91 1-199 1 47 1-4 1 157 3-183 1 56 2-18 1 39 1 65 1-148 2 84 1 153 1 9 2-485 1 441 2-140 1 115 1-134 2-4 1 121 1-100 2 172 1-209 1 151 2 22 1-309 2 155 1 137 2-172 1 141 2-63 1 72 1-228 1 245 1 21 1-208 3 246 1-173 0-7 3 102 1-153 1 201 1 9 2-142 2 146 1-209 1 278 2-353 1 146 1-64 1 91 2 53 2 16 1-75 1 123 1-231 1 20 2 72 1 15 2 74 1 37 1-257 2 226 1-213 1-72 2 272 1-186 1 283 1-155 3-138 0 7 1 144 3-22 1 108 1 7 1-170 2 71 1 75 2-118 1-39 1 87 1-89 3 58 1 118 0-41 1-117 3-107 1 146 1-30 1 101 2-21 2-81 1-53 1 80 1-23 2 86 2 116 1-173 0-32 1 97 2-21 2-86 1 53 2-42 1 6 1 124 2-125 1 146 1-62 1-183 2-7 2 217 0-58 3-70 0-9 2 162 2-234 1 128 2-1 1 61 1-68 2 76 1 6 1-42 2 79 1-153 1-50 1 116 2-7 1-39 1-41 2 143 2-58 1-152 0 37 2 155 2-6 1-64 2-32 1 106 2 82 1-158 1 47 2-141 0 95 1 91 2 26 1-134 2 9 2-71 0 17 1 100 3 46 1-68 1 37 1-73 3 22 1-42 0-10 2 130 1-3 2-37 1-190 2 354 0-62 1-145 2 42 2 68 1-149 1 106 2-158 1 152 1-121 2 182 1-153 2-137 1 256 1-175 3 177 1-84 0-95 2 178 2 90 1-97 2-151 1 217 1-141 1 125 2-194 1 55 1-20 1 41 2-8 2 129 1-216 1 165 2 72 1-322 1 85 1 179 1-77 2-61 1 73 2-39 1 5 2 85 1-143 2 141 1 68 2-177 0-69 2 211 1-186 2 114 1-80 2 217 0-80 2-159 1 5 1 121 3-8 1-155 0 4 2 131 2 11 1-62 1 183 2-155 1 29 2-193 0-35 3 230 1 105 1-125 1 20 1-44 2 116 2-218 1 128 1-105 2-62 1 181 1-142 1 194 3 99 1-229 0 17 1 121 3-75 1 143 1-44 1-125 3 11 1-85 0-20 1 110 2 60 2-107 1 122 2-191 0 1 3 162 1-36 1-34 1-5 1 52 3 121 1-244 0-34 1 145 3 168 1-331 1 122 0 89 3-133 2 248 0-109 1-100 2-38 2 103 1-49 2 118 0-44 1-122 3 43 1 43 1 3 1-126 2 81 1-58 2 184 1-208 1 16 2 189 1-129 1 257 2-278 1 36 1-14 1 66 2-24 2 25 1-20 1 59 2-15 2-95 1-76 1 152 1-40 1-160 2 98 2 100 0-31 1-56 3-40 1 141 1-91 1 189 3-126 1-145 1 136 1-173 1 24 1 211 2 57 2-116 1 130 1-319 2 307 1-360 1 34 1 365 2-220 1 48 2-97 1 120 2-81 1 125 1-185 2 136 0-14 2-95 1 45 2 135 1-170 2 157 1-116 1 150 2-96 1-65 2 82 1-62 1 11 1 115 2-153 1 168 2-80 1-221 1 44 2 184 1-21 1-216 1 138 3 171 0-3 1-111 3 55 1-79 1-20 2 126 1-141 1 69 2 324 1-378 1-113 1 119 2 19 1-73 2 185 1-198 1-22 2 234 1-223 1 178 2 1 1-160 2 213 1-137 1 60 1-196 2 301 1-121 2-117 2 167 0-51 1-66 2 113 2-60 1 30 1-141 1 180 2-152 2 15 1 89 1-87 2 139 1-122 1 45 1-43 2 152 2-26 1-136 1-93 2 229 1-125 1 82 2-179 1 175 1-109 1 88 2 14 1-94 2 84 2-114 0 27 2 163 1 127 2-194 1-35 2-41 1-41 1 32 2 84 1-104 1 97 2-54 0-47 2 145 2-4 1-184 1-18 1 314 3-216 1 46 1-80 1 112 1-99 1 98 2 46 2-226 1 228 2-110 0-28 2 159 1-87 1-47 2 77 1-73 1 90 2-65 1-47 1-83 2 186 2-133 1 97 1-204 1 362 2-203 2-38 1 106 1-179 1 176 2-110 1 155 2-260 1 326 2-273 1 230 1-53 1 172 1-196 2-181 1 266 2-114 1 38 1-135 2 83 1-52 1 22 1 115 2-36 2-150 1 105 1-113 2 257 2-229 0 81 1 87 3-133 1 187 2-192 1 193 2-189 1 185 0-19 2-105 3-32 0-36 1-1 1 215 2-218 2 115 1-122 1 135 2-53 1-141 1-80 1 288 1-124 1-42 2 60 2 139 1-27 2-107 0-30 3 96 1 37 1-111 1 7 1 57 2-151 2 283 0-77 1-105 3 155 1-198 2 48 1-213 1 60 1 224 1-11 2-142 1 86 1 26 2 32 2-153 1 279 2-174 0 8 2-56 3 95 0-162 1-128 1 436 2 1 2-308 1 146 1-187 1 69 1 122 3-93 1 147 0-20 1-136 3 25 1 120 2-4 1-113 1 154 1-363 2 417 1-203 1-22 2 50 1-16 2 56 0 10 2-114 2 105 1-184 1-82 1 470 2-137 1-146 1 73 2 44 1-5 2-107 1 66 1-96 3-1 1 196 0-6 1-137 4 67 0-80 1-47 1 86 2-15 1-50 2 40 1-37 1 126 2-160 1 32 2 103 0 53 2-210 2 89 1 66 1-85 1 161 2-301 2 280 1-122 1 125 2-139 1 70 1-39 2 59 0 23 2-174 1 115 2-91 1 128 2-145 1 35 1 74 2 1 2-182 0 22 2 269 1-14 1-49 2-67 2-90 1 136 1-161 1 58 1 93 2 35 1-117 3 15 1 112 0-24 2-146 1 193 2-94 1 153 2-298 0-2 1 121 3 58 1-188 1 264 2-228 1 80 1 134 2-145 1 99 2-5 1-141 1-13 1 102 2 136 1-316 2 222 1-89 1 6 2 119 1-117 1 111 1-58 2 35 1-14 2-171 1 251 2-171 1 81 2-139 0-29 2 218 2-129 1 131 1 67 2-124 0 39 2-111 1 114 1-126 2 54 2-63 1 4 1 141 1-39 2-67 1 35 2-67 1-23 1 213 2-129 0-107 3-51 1 225 2-159 1 305 1-158 2-57 1-107 2 171 0 18 2-99 1 55 2-105 1 148 2-93 1 26 1-75 2 60 1-53 1 92 2-47 1-121 2 208 0-26 2-68 2 65 1-88 1 20 2 101 2-108 1 119 0 46 2-229 2 167 1-119 1 114 1-90 2-82 2 119 1-47 1 133 1-192 1 232 2-208 1 74 2-65 1 115 1 53 2-110 2-22 1 27 0 4 2 17 2 15 1-78 2-36 1 78 1-40 0-49 2 9 3 155 0 37 2-173 1 26 2 135 2 14 1-153 0-103 1 230 2-187 1 205 3-65 1-200 1 48 1 211 1 42 2-244 1 134 2-185 1 116 1 27 2 46 1-110 2 208 1-104 1-118 2 122 2 40 1-143 0-5 3 82 2 59 0-86 1-69 1 151 2 4 2-80 1 29 1-75 2-124 1 253 1-212 1 150 2 49 1-93 2 162 1-177 1 17 2 158 1-254 1 126 1 9 3 86 0 20 2-295 1 269 2-118 1-45 2 123 1-114 1 68 2 4 1-176 1 102 1 149 1-45 2-105 2 176 1-98 2-20 1 122 1 28 1-199 2-21 2 199 0-7 2-152 2-92 1 113 2 26 1-19 1-83 1 50 2 237 1-323 1 153 1-93 1 90 3 23 0 9 2-57 1 61 2-201 1 314 2-64 1-166 2 130 0-45 2-107 1 221 2-277 1 112 1-143 2 197 1-112 1 74 2 101 1-144 2 99 0-22 1-31 2 3 2-26 2 192 1-181 1-188 2 309 1 12 2-137 1-138 1 295 1 8 1-205 3 85 1 69 0-34 2-204 1 4 2 154 1 50 1-183 1 221 2-135 2-16 1 141 1-15 2-158 1 107 0 77 2 3 1-247 2 299 1-259 3-45 1 220 1-13 1-195 2 203 1-30 2 45 1-145 1 141 1-200 3-31 1 214 1-174 1 205 1 40 1-172 2 123 2-144 1 185 2-255 0-34 1 207 2 33 1-148 2 108 1-69 2-15 1 205 1-206 2 87 2-21 1 83 0-52 2-173 2 91 1 119 1-83 2-146 2 116 1 261 0-24 2-273 2-20 1 110 2-51 1 54 2-41 1 52 1-42 2 116 0-22 2-59 1 24 2-207 1 120 1-98 2 148 1-90 2 112 1 90 1-99 1-114 1 15 2 113 2 29 1-160 1 250 2-329 1 117 1 148 1-76 2-53 2 88 1-96 1-22 1 110 2-145 1 67 1 12 2 39 3-74 0 122 1 95 1-260 1 68 2-50 2 123 1-39 3 94 0-69 1-176 2 214 0-24 1-119 3 19 1 161 1-190 1 330 2-396 1 293 2-133 1-33 2 11 1 81 1-230 1 176 3 29 1-174 0-30 2 223 1 57 2-240 2 164 1-125 0 33 1 148 2 23 2-130 2-97 1 132 1-42 2 49 1-68 1 54 1 21 1-74 2 28 1 23 2-131 2 147 0 47 2-148 2-19 1 75 1-64 1 183 2-275 2 176 0 9 1 68 2-5 2-165 1 77 1-55 2 80 1-72 2 112 1-77 2 83 1-134 0 10 2 127 1-125 2 177 1-205 2 139 1-46 1-172 2 210 1-78 2 27 1 38 1-112 1 131 3-30 1-83 2 30 0 155 1 24 1-275 2 90 2 165 1-135 1 58 2-98 1 109 1-10 2-168 2 178 1-151 0-56 2 236 2-37 1-172 1 25 1 217 2-179 1 130 1-46 1-150 2 89 1 120 3-6 1-85 0 22 2-212 1 275 2-90 1-90 2 61 1-16 1 122 2 6 2-346 0-14 2 517 1-175 2-74 1-46 2 78 1-113 2 248 0-34 2-106 1 16 2-73 1-46 2 134 1-139 1 114 1-48 2 85 1-34 1 79 2-154 2 70 0-9 2-91 1 102 2-109 2 239 1-198 0-46 1 196 2-161 1 338 2-212 1-141 2 166 1-172 1 100 2-135 1-19 2 283 1-190 1 113 2-60 2-174 1 406 1-202 1 31 2-102 1-41 1 95 2 19 2-117 1 109 1-96 1 48 2 81 1-38" stroke="#ff0000" stroke-width="6.0" fill="none" stroke-linejoin="round"/></g>
<path d="M195.77 185.3v-5.2M195.77 9.7v5.2M250.33 185.3v-5.2M250.33 9.7v5.2M304.9 185.3v-5.2M304.9 9.7v5.2M359.47 185.3v-5.2M359.47 9.7v5.2M414.03 185.3v-5.2M414.03 9.7v5.2M468.6 185.3v-5.2M468.6 9.7v5.2M523.17 185.3v-5.2M523.17 9.7v5.2M577.73 185.3v-5.2M577.73 9.7v5.2M141.2 150.18h5.2M632.3 150.18h-5.2M141.2 115.06h5.2M632.3 115.06h-5.2M141.2 79.94h5.2M632.3 79.94h-5.2M141.2 44.82h5.2M632.3 44.82h-5.2" stroke="#262626" stroke-width="0.95" fill="none"/>
<rect x="141.2" y="9.7" width="491.1" height="175.6" fill="none" stroke="#262626" stroke-width="0.9"/>
<g fill="#262626"><text transform="translate(141.2 200) scale(1.03 1)" font-size="10.2" text-anchor="middle">0</text><text transform="translate(195.77 200) scale(1.03 1)" font-size="10.2" text-anchor="middle">1000</text><text transform="translate(250.33 200) scale(1.03 1)" font-size="10.2" text-anchor="middle">2000</text><text transform="translate(304.9 200) scale(1.03 1)" font-size="10.2" text-anchor="middle">3000</text><text transform="translate(359.47 200) scale(1.03 1)" font-size="10.2" text-anchor="middle">4000</text><text transform="translate(414.03 200) scale(1.03 1)" font-size="10.2" text-anchor="middle">5000</text><text transform="translate(468.6 200) scale(1.03 1)" font-size="10.2" text-anchor="middle">6000</text><text transform="translate(523.17 200) scale(1.03 1)" font-size="10.2" text-anchor="middle">7000</text><text transform="translate(577.73 200) scale(1.03 1)" font-size="10.2" text-anchor="middle">8000</text><text transform="translate(632.3 200) scale(1.03 1)" font-size="10.2" text-anchor="middle">9000</text><text transform="translate(136 189.87) scale(1.03 1)" font-size="10.2" text-anchor="end">-30</text><text transform="translate(136 154.75) scale(1.03 1)" font-size="10.2" text-anchor="end">-20</text><text transform="translate(136 119.63) scale(1.03 1)" font-size="10.2" text-anchor="end">-10</text><text transform="translate(136 84.51) scale(1.03 1)" font-size="10.2" text-anchor="end">0</text><text transform="translate(136 49.39) scale(1.03 1)" font-size="10.2" text-anchor="end">10</text><text transform="translate(136 14.27) scale(1.03 1)" font-size="10.2" text-anchor="end">20</text></g>
<text transform="translate(386.75 213.2) scale(1.03 1)" font-size="11" text-anchor="middle" fill="#262626">Samples</text>
<text transform="translate(114.6 97.5) scale(1.03 1) rotate(-90)" font-size="11" text-anchor="middle" fill="#262626">Amplitude</text>
<rect x="460.8" y="18.7" width="162.4" height="24.9" fill="#fff" stroke="#262626" stroke-width="0.8"/>
<path d="M464 25.8H494.4" stroke="#0000ff" stroke-width="0.8"/>
<text transform="translate(497.8 29.26) scale(0.99 1)" font-size="9.6" fill="#000">Raw EEG signal</text>
<path d="M464 37H494.4" stroke="#ff0000" stroke-width="0.8"/>
<text transform="translate(497.8 40.46) scale(0.99 1)" font-size="9.6" fill="#000">Low-Pass filtered EEG signal</text>
<text transform="translate(32.6 108.75) rotate(-90)" font-size="22.5" text-anchor="middle" fill="#000" font-family='"Liberation Serif", serif'>(a)</text>
<path d="M191.98 228.5V386.7M247.86 228.5V386.7M303.73 228.5V386.7M359.61 228.5V386.7M415.49 228.5V386.7M471.37 228.5V386.7M527.24 228.5V386.7M583.12 228.5V386.7M136.1 347.15H639M136.1 307.6H639M136.1 268.05H639" stroke="#e3e3e3" stroke-width="0.8" fill="none"/>
<clipPath id="clipb"><rect x="136.1" y="228.5" width="502.9" height="158.2"/></clipPath>
<g clip-path="url(#clipb)"><path transform="scale(.1)" d="M1361 3076l2 0 0 0 1 0 3 0 0 0 1 2 1-2 1-3 2 2 0 0 2 4 0-1 2-8 1 5 1 9 1-13 2 5 0 2 2-3 0 0 2 3 1 0 1-6 1 2 1 10 2-24 1 21 0 11 2-32 1 1 1 25 1-15 1 5 2 5 1-8 1-2 1 2 0 3 2 4 1-4 1-5 1 6 1 11 1-10 1-20 1 9 2 18 1-4 1-11 1 2 1 6 1 0 1 8 1-12 1-6 2 16 1-8 1-11 1 14 1 5 2-14 0 1 1 14 2-20 1 20 1 5 1-28 1 6 1 21 1-12 1-16 2 27 1-11 1-13 1 16 1 11 2-26 0-8 2 48 0 4 2-83 1 9 1 75 1-10 2-41 0-2 2 42 0 12 2-80 1-31 1 135 1 38 1-101 1-41 1-39 1 94 1 133 2-122 1-127 1 51 1 120 1 7 2-135 0-39 2 157 0 22 2-102 1-16 1 64 1 36 2-172 0-59 1 369 2-322 1 149 1 69 1-231 1-4 1 308 2-290 1 137 1 100 1-272 1-81 1 529 1-492 1 371 1-70 2-270 0 160 1 272 2-420 1 190 1 75 1-116 2-464 1 534 0-20 1-135 2 174 1-42 1-36 1-45 1 52 1 135 1-189 1-104 1 188 2 77 1-122 1-82 1 99 1 55 1-94 1-111 2 565 1-495 1-113 1 349 1-75 1-319 2 413 1-292 0-48 2 318 1-36 1-263 1 272 1-244 1-73 2 357 0-78 1-170 1 58 2 91 2-231 0 153 1 151 2-206 0-23 2 166 0 13 2-243 1 37 1 228 1-24 2-109 1-65 1 57 1 67 1-37 1-145 1 151 1 45 1 319 2-447 1 252 0-181 1-245 2 436 1-264 1 55 1-211 1-47 2 585 0-169 1-340 2 351 1-213 1-84 1 215 1-5 2-182 0 20 1 216 1-59 2 84 2-359 0 173 1 353 2-459 0-171 1 539 2-412 1 207 1 111 1-210 1-40 1 229 1-53 1-160 1 244 2-286 1-6 1 400 1-70 1-465 1 217 1 348 1-444 1 250 1-76 2-76 1 100 1 178 1-429 2 119 0-33 2 219 0 38 2-226 1-23 1 95 1-95 1 432 2-492 1 181 1 145 1-356 1-164 1 617 1 8 1-571 1 183 1 472 1-314 1 81 2-168 1 73 1 101 1-190 1 2 1 181 1-154 2 115 0 5 2-145 1 193 1-238 1-31 2 405 0-109 1-234 2-382 1 493 1-16 1 266 1-626 2 407 1 229 1-457 0-93 2 498 1-105 1-307 1 257 1 330 1-166 2-514 0 144 1 339 2-152 1-188 1 154 1 83 1-94 1 107 2-240 1 158 1 128 1-139 1-33 1-68 1 41 1 141 2-192 1 119 0 104 2-326 1 91 1 393 1-596 2 300 0 185 2-279 0 69 1 117 2-94 1-113 1 80 1 257 1-84 2-247 0 51 2 163 0-47 2-121 1 37 1 125 2 14 1-103 1-96 1 73 0 53 2 65 1-40 1-144 1 16 2 179 0-12 2-222 0 25 2 208 1 1 1-157 1-44 2 224 0 69 2-458 0 119 1 309 2-168 1-156 1 117 1 696 2-886 1 403 0-20 2-443 0-209 2 672 1-125 1-173 1 65 2 183 0-29 2-227 0-14 2 316 1 31 1-286 1-57 2 207 0 71 2-201 0-63 2 220 1 57 1-285 1-6 2 248 1-189 1 93 1 50 1-87 1-29 1 93 1 22 1-99 1-20 2 127 0 15 2-120 0-13 2 68 1 77 1-132 1-32 2 106 1-66 1 38 0 35 2-32 1-15 1-247 1 293 2-117 1 205 1-145 0-113 2 217 1-49 1-112 1 143 2-104 0-56 2 206 1-220 1 157 1 18 1-140 1 18 1 131 1-57 1-158 2 319 1-205 0-117 2 219 1-53 1-82 1 56 2 32 0 31 2-114 0-29 2 118 1 22 1-91 1-71 2 124 1 172 1-207 1-155 1 129 1 114 1 104 1-153 1-144 1 77 1 128 1-72 1-72 2 46 1 100 1-85 1-112 1 82 1 43 1 10 1 34 1-84 2-83 1 263 1-140 2-116 1 116 0 28 2-74 0 16 2 39 1-83 1 177 1-12 1-303 1 177 1 267 1-308 1-183 2 392 1-134 1-124 2 114 1 120 1-144 1 89 1-121 1-15 1 108 1 5 1-97 2 23 1-70 0 46 1 194 1-139 2-80 1 132 1-63 2-67 1 166 0-34 1-188 2 275 1-151 1-135 1 200 1 85 0-188 2 213 2-255 0 6 2 160 1-12 1-147 1 34 2 109 0-39 1-107 2 99 1-66 1 11 1 92 1-12 1-181 1 50 2 266 0-136 1-217 2 353 1-203 1-170 1 366 2-379 1 249 1 200 1-436 0-46 2 406 1-75 1-226 1 282 2-223 0-93 2 313 0 35 2-334 2 222 0-245 1-182 1 352 1-37 1 193 1-122 1-215 2 445 1-246 1-198 1 217 1 42 2-126 0-59 2 199 0 11 2-132 1-5 1 46 1 25 1 50 1-108 1-104 1 166 2 90 1-147 1-112 1 71 2 217 0-52 2-188 0 6 2 165 1 128 1-190 1-164 2 138 1 101 1-123 1-45 1-136 1-118 1 633 1-15 1-522 1 83 1 174 1-83 1 166 1-120 2-84 1 222 1-127 2-86 1 97 0 27 2-39 0-5 2-63 1 53 1 75 1-142 2 168 0 4 2-211 0 28 2 169 1-33 1-91 1 11 2 119 0-8 2-159 0 11 2 119 1 46 1-182 1-81 1 245 2-34 1 88 0 5 2-309 0 54 2 252 1-94 1-135 1 163 2-129 0 4 2 167 0-78 2-198 1 192 1 214 1-111 2-235 0-2 2 193 1-156 1 160 1 76 1-393 1 103 1 237 1-99 1-41 2 51 1-40 2 65 0-53 1-148 1 351 1 67 2-455 0 162 1 155 2-246 1 160 1 58 1-156 1 2 2-76 0 29 2 235 0-8 2-294 1-89 1 383 1 156 2-375 0-69 2 232 0 24 2-184 1 179 1-186 1-38 1 288 1-8 1-236 1 112 2-215 1 128 1 202 1-122 1-59 1 49 1 61 1-55 2-122 0-27 2 197 1 38 1-164 1-60 2 384 0 70 2-619 0 196 2 273 1-306 1 241 1 15 2-182 1 123 1-257 0-170 2 646 1 92 1-596 1-149 1 534 1 27 2-230 0-11 2 74 1 25 1-57 1-53 1 61 2 92 1-115 1-141 1 423 0-62 2-962 1 569 1 821 1-271 1-647 2 484 1-277 0-225 2 624 1 3 1-448 1 79 1 151 2-212 1 108 1 134 1-246 1-77 1 536 1-5 1-221 2-281 1 185 0 137 2-553 1 147 1 394 1 69 1-85 1-58 1-324 1 204 1 122 1-74 1-24 2 47 1-46 1 7 1 59 1-48 1-58 1 85 2 69 1-89 1-121 1 99 1 139 1-104 1-112 1 47 2 84 1 61 1-161 1-59 1 246 1-16 2-219 0 119 1 122 2-243 1 185 1 71 1-203 2-50 1 65 1 248 1-383 0-173 2 506 1 91 1-357 1 44 1 138 1-46 2-114 0 61 2 156 1-124 1-58 1 115 2-69 0-29 2 95 0 13 2-179 1 275 1-321 1-78 1 485 1-106 2-564 0 200 1 450 2-435 1 291 1-167 1 135 1 31 2-203 0 9 2 246 0-95 2-210 1 368 1-384 1-35 2 560 0-243 1-448 2 676 1-404 1-130 1 297 1 24 2-158 1-75 1 82 0 78 1 87 2-98 1-90 1 44 1 116 1-82 1-139 1 133 1 105 2-84 1-87 1-156 1 280 1 39 1-106 2 114 1-154 1-71 1 70 1 63 1 89 1-121 1-93 1 121 1 33 1-55 2-42 1-3 1 97 1 7 2-98 0 3 2 98 1-69 1 102 1-46 1-162 1 121 1 142 2-280 1 139 0 62 2-88 1-27 1 40 1 17 1 65 2-118 1 59 0 18 2-49 0-2 1 10 2 8 1 21 2-41 1 21 1 69 1-147 0-19 2 177 1-134 1 87 1 29 2-138 0 24 1 174 1-276 2 266 1-60 1-136 1 91 1 133 2-309 1 302 0 55 1-409 2 423 1-184 1-154 1 127 1 71 1 55 1-114 1-116 2 140 1-34 1 279 1-321 1-65 2 180 0 23 2-165 0 18 2 124 1-64 0-51 2 24 2 61 0-15 2-63 0 39 1 93 2-183 1 116 1 47 1-122 2 109 1-97 0-35 2 157 0-40 2-114 1 191 1-184 1-157 2 401 0-420 2 531 0-87 2-421 1 208 1 189 1-343 2 274 0-62 1-123 2 196 1-181 1-93 1 273 1 18 2-322 1 412 1-511 0 33 1 437 2-684 1 458 1 2 1 119 1-53 1-111 2 201 1-277 0-79 2 563 1-125 1-502 1 275 1 393 2-678 1 344 1-9 1 70 1-52 1-169 2 424 1-273 1-448 1 565 0 101 2-353 1-23 1 199 1 57 2-84 1-261 1 177 1 585 1-678 1-151 1 617 1-749 1 657 1 175 2-703 0 63 2 430 0-139 2-211 1 251 1-123 1-45 2 131 1-82 1 166 0-77 2-238 1 191 1 156 1-321 2 170 0 34 1-81 1 62 2-111 1-8 1 175 1-61 1-123 2 157 1-117 0-10 1 100 2-49 1-57 1 149 1-172 2 152 1-96 0-50 2 183 0 16 2-288 1 62 1 268 1-115 1-117 2-36 1 139 1 93 1-215 1-40 1 221 2-131 1 118 0 21 2-210 0 17 2 182 1 10 1-177 1-60 2 209 0 41 2-155 0-60 1-76 2 227 1 269 1-564 1 186 2 311 1-348 0-168 1 411 1-224 2 139 1 1 1-161 2 211 1-229 0-65 2 381 0-39 2-303 1 72 1 136 1-5 2-66 1-78 1 155 0 142 1-433 2 492 1-411 1-16 2 308 0-60 1-196 2 198 1-438 1 124 1 406 1-128 1-211 2 300 1-198 0-27 2 132 0 1 2-153 1 39 1 105 1-30 1-75 2 201 1-230 0-152 2 430 1-93 1-209 1 97 1 92 2-166 1 78 1 130 1-240 1-46 1 493 1-136 1-450 1 230 1 173 1-77 2-113 1-16 1 119 1 21 1-144 1-5 2 135 0-2 2-60 0-18 2-18 1 38 1 33 2 79 1-153 0-114 2 204 0 59 2-259 1-137 1 535 1 90 2-457 1-226 1 308 1 366 1-340 1-329 1 463 1 163 2-379 0 15 2 142 0-63 1-126 2 263 1-122 1-130 1 110 2 72 1-70 1-74 1 60 1 75 1-32 1-42 1-66 1 2 2 187 0 56 2-304 0-7 2 267 1-9 1-285 1 67 2 227 0-53 2-108 0-25 2 134 1 44 1-301 1 121 1 234 1-319 2 270 0-7 2-243 1 77 1 238 1-206 1-234 1 151 2 429 0-155 1-353 1 153 2 159 1-152 1-164 1 201 1 184 1-107 1-245 1 115 2 144 1-167 1 75 2-1 1 45 0-27 1-445 2 865 1-515 1-2 1 302 1-82 2-393 0 139 1 248 1-131 1-106 2 109 0 65 2 162 1-364 1-159 2 409 0 9 2-241 0 15 2 209 1-53 1-223 1 147 1 124 2-190 1 100 0 22 2-114 1 33 1 137 1-281 2 460 0-75 1-426 1 208 1 120 2-205 1 115 1 103 1-310 2 402 1-427 0-17 2 396 1-54 1-195 1 15 1 122 2 146 1-417 0-188 2 482 0-40 2 465 1-551 1 126 1-220 2 155 1 139 1-207 1-136 1 358 1 154 1-670 1 131 1 419 2-307 1 178 0 33 1-128 2 110 1-214 1 89 1 221 2-371 1 241 0 140 2-515 1 107 1 605 1-672 1 281 1 123 2-194 0-40 1 186 1-215 2 271 1-52 1-173 2 220 1-284 0-25 1 395 1-211 2-167 1 229 0 127 2-209 2-189 0-43 2 501 0 29 2-388 1-22 1 209 1 47 1-221 1-5 2 182 0-75 1-98 2 226 1-332 1-80 1 655 1-283 1-342 2 373 1-180 0-77 2 289 1-81 1-236 1 301 2-243 0-50 2 253 0 2 2-228 1-26 1 373 1 60 2-526 0 73 1 311 2-271 1 156 1 129 1-272 1-51 1 369 1 10 2-483 1 449 1-240 1-86 1 317 1-30 1-281 1-3 2 196 1 280 1-369 0-167 2 219 1-79 1 145 1 19 2-225 0-27 2 415 0-67 2-459 1 152 1 345 1-132 2-666 0 268 1 342 2 151 1-313 1-112 1 510 1-267 1-361 2 678 1-268 1-311 1 314 1 111 1-310 1 75 1 160 2-174 1 93 1 71 1-230 0-110 2 473 1-21 1-411 1 72 1 728 1-536 2-352 2 515 0-556 1-344 1 788 1 175 2-383 0-181 2 374 1-75 1 106 1-35 1-237 2 365 0-353 1 25 1 391 1-329 1-160 2 385 1-183 1-119 1 156 2 61 1 47 0-2 2-296 0 26 2 262 1-89 1-104 1 114 2-134 0-22 2 319 0-64 2-340 1 100 1 222 1-10 2-82 1-179 1 103 1 253 1-221 1-198 1 240 1-85 1 231 1 50 2-455 0 21 2 419 1-97 1-286 1 144 1 221 1-204 1-316 1 351 1 300 2-551 1 225 1 154 1-326 1 59 1 341 1-317 1-257 1 276 2 342 1-49 1-502 1 81 2 361 0-30 2-324 0-76 2 290 1 181 1-195 1-167 1 112 1 81 1 91 1-94 1-160 2 86 1 221 1-126 1-575 1 601 2-169 0 69 2 153 0-53 2-239 1-16 1 464 1 17 2-499 0 91 2 157 1-91 1 103 1-51 1-108 1 177 2-101 0-82 2 227 0-90 1-233 2 221 1 387 1-720 1 572 1 44 1-358 1 249 2-453 1 154 1 296 1-218 1-293 2 735 1-405 1-340 1 378 1 125 1-428 1-177 1 628 1-401 2 412 0-33 2-325 0 79 2 214 2-348 0 212 1 215 1-428 2 407 1-228 1-202 1 367 1 92 1-429 1-2 1 330 1-15 2-256 0 26 2 369 0-194 2-426 1 631 1-286 2-288 1 454 0 81 2-335 0-9 2 203 1 44 1-412 1 14 1 558 1-207 1-181 1 86 1 51 2-49 1-81 1 57 2 94 0-18 2-143 0-74 2 777 1-266 1-506 1 61 1-93 1 95 2 400 0-134 2-591 0 125 2 504 1 15 1-212 2-90 1 75 1 143 1-138 1-177 1 94 1-29 1 201 1 16 2-236 0-63 2 620 0-70 2-735 1 218 1 382 1-391 2 420 0-78 2-333 0 70 2 223 1-51 1-201 1 54 1 241 1-125 1-311 1 296 1 123 1-176 2-84 1 116 1 126 1-185 1-178 2 590 1-567 0-134 2 621 1-132 1-405 1 180 1 387 1-248 1-312 1 165 2 288 1-13 1-574 1-213 2 975 0-140 2-445 0 42 1 55 2 112 1 287 1-333 1-304 2 584 1-201 1-227 1 201 1 210 1-269 1-127 1 217 2 95 1-252 0-54 2 283 0-40 2-158 1 57 1 177 2-80 1-161 1-195 1 521 0 117 2-661 1 66 1 467 1-163 1-224 2 249 1-77 1-194 1 266 1 195 1-432 1-121 1 455 1 43 2-368 0 9 2 348 0-92 2-346 1 234 1 129 2-270 1 105 1 299 1-291 1-213 1 282 1 78 1-187 1-40 2 186 0 48 1-140 1 124 2-370 1-21 1 909 1-268 2-281 1-429 1 306 1 266 1-266 1-78 1 188 1 71 1-431 2 314 1-563 0 232 1 818 1-546 2-463 1 888 1-495 1-76 2 253 0-7 2-126 0 26 2 87 1-52 1-164 1 281 1-591 2 911 1-483 0-190 2 337 1 105 1-367 1-16 2 316 0-3 2-277 0 102 2-344 1-275 1 819 1-371 1 287 1 173 2-433 0-21 2 485 0-228 1-332 2 491 1-350 1 97 1 159 2-239 1 180 0 75 2-361 1 1 1 603 1-752 2 582 0-162 1-199 2 302 1-213 1-80 1 291 1-153 1-213 2 415 1-263 0-25 2 173 1-317 1 409 1 297 1-585 2 73 1-488 0 274 1 397 1-300 2 231 1 93 1-21 1-74 2-239 0 91 1 348 1-215 2-502 1-336 1 811 1 602 2-699 0 35 1 131 2-233 1 172 1 133 1-284 1-106 2 367 0 17 2-241 0 31 1-100 2 140 1 223 1-434 1 249 2-70 1 239 0 194 2-641 0 58 2 314 1-61 1-126 1 28 2 114 0-33 2-209 0 95 2 218 1-130 1-100 1 109 1-146 1 114 1 99 1-116 1-54 2 103 1 99 1 9 2-197 1-143 1 277 0 96 2-242 1-40 1 141 1-20 1 140 1-63 1-230 1 108 1 148 2-188 1 67 1 61 1-105 1-63 2 299 0-116 1-214 2 259 1-160 1-51 1 136 1 13 2-69 0-25 1-33 1 80 1 128 2-116 1-209 1 139 1 229 1-131 1-170 1 104 1 129 2-173 1 197 1-144 1-182 2 343 1-142 1-129 1 186 0 61 2-272 1 93 1 155 1-114 0-34 2 63 1 61 1-114 2-78 1 70 1 131 1 14 2-244 0 24 1 256 2-260 1 140 1 151 1-275 1-70 1 261 1 11 2-127 1-38 1 31 1 64 1 66 1-171 1 82 2 88 1-150 0-47 2 198 0-34 2-158 1 118 0 75 2-39 2-115 0-1 2 157 2-242 0 191 1 186 1-446 1-58 2 541 0-43 2-444 0 23 2 347 1 20 1-221 1-27 1 134 1 27 2-153 0 19 1 101 2-103 1 72 1 57 1-159 1-3 1 139 1-79 2 112 0-52 2-132 2 223 0-112 1-205 2 384 0 131 2-458 0 104 2 145 1-242 1 148 1 37 2 140 0 26 2-474 0 96 2 346 1-133 1-249 1 231 0 58 2-96 1-358 1 388 1-136 2 246 1-157 1-83 1 124 1 75 1 57 1-89 2-186 0 66 2 195 1-104 1-303 1 268 1 152 2-220 1 47 1 84 1-80 1-87 1 160 1 70 2-260 0-66 2 358 0 11 2-261 1-10 1 141 1 49 1-47 1 71 2-199 0-26 2 198 1 21 1-288 1-50 1 557 1 41 2-412 1-284 1 351 1 206 1-326 1-144 1 332 1 0 2 253 0-236 1-489 2 737 1-378 1-221 1 367 1 25 2-367 0 95 1 393 1-262 1-324 2 109 1 454 1-22 1-327 1 15 2 169 0-3 2-172 1 4 1 168 1 10 1-305 1 10 2 570 0-263 1-496 2 702 1-330 1-191 1 271 1 36 2-97 0-13 1-20 1 30 2 37 1 45 1-131 1-60 2 203 0 14 2-154 0 17 2 81 1-31 1-97 1 143 1-47 2-62 1 37 0 40 1 38 2-124 1-133 1 394 1-133 2-246 1 173 1 168 1-282 0-88 2 402 1-38 1-304 1 84 1 121 1-54 1-58 1 60 2 111 1-219 1 108 1 75 2-212 0 32 1 200 2-160 1 99 1-17 1-82 1 111 1-103 1 11 1 79 2-91 1 57 1 35 1-84 1-16 1 128 1 2 2-239 0-5 2 342 0 41 2-243 1-44 1 109 1 53 2-154 0-32 2 148 0 21 2-52 1-101 1 92 1 57 2-105 0-4 2 83 0-2 2-109 1 15 1 135 1-10 1-173 2-71 1 172 1 155 1-175 1-129 1 224 1 43 1-234 1 29 1 247 2-291 1 195 0 13 2-144 1 121 1-71 1-33 2 104 0 5 1-95 2 80 1-346 1 131 1 268 1 59 2-299 0-29 2 255 0 18 2-143 1-10 1 104 1 3 1-110 1 3 2 74 1 39 1-84 0-27 2 89 1 14 1-104 1 5 2 92 0-7 2-84 0-9 2 62 1 63 1-44 1-49 1-56 1 24 2 103 0-3 2-81 1-11 1 111 1 21 2-174 0-9 2 199 0-234 2 347 1 57 1-532 1 11 1 371 1-23 2-142 1-80 1 71 2 288 0-165 1-349 1 272 2 139 1-136 1 86 1-123 0-52 2 149 1 25 1-95 1 27 2-159 0 24 2 297 0-88 2-183 1 37 1 198 1-41 2-242 0 55 2 197 0-68 1-126 2 75 1 72 1-39 1-26 2-279 1 360 0-16 1-330 2 556 1-410 1-152 1 428 1-97 1-265 1 265 1 166 2-156 1-103 1-25 1-254 1 183 0 280 2-425 2 422 0 25 2-228 1 4 1 141 1-47 1-181 2 225 1-71 1-64 1 70 1 37 1-103 1 2 1 139 1-74 1-144 1 150 1 68 1-132 2-153 1 49 1 230 1 27 2-224 0-71 2 325 0 73 2-310 1-33 1 170 1 27 2-106 1-59 1 143 0 74 2-177 1-35 1 154 1 45 2-308 0-114 2 545 0-134 1-256 2 249 1-115 1-30 1 69 1-26 1 148 2-202 1 86 1-408 1 425 1 6 1-76 2 78 1-65 0-45 2-136 0-23 2 490 1-33 1-400 1 33 2 205 0-18 2-120 1 181 1-186 1-77 1 249 1-47 1-117 1 48 1 113 2-245 1 300 1-86 1-205 1 245 1-111 2-66 1 82 0 47 1 76 1-107 2-224 1 167 1 417 2-573 1 246 0 112 2-318 1 255 1-178 1-17 1 163 1-102 2 115 0-65 1-119 2 189 1-103 1-250 1 479 1 74 1-486 2 363 1-272 0-31 2 209 1-73 0-52 2 75 1-56 1-6 2 77 0-26 1-83 1 113 2-136 1 245 1-205 1-40 1 122 1-115 2 221 0-141 2-159 1 381 1-322 1-63 2 236 0 9 2-201 0-52 2 157 1 189 1-147 1-108 2 80 1 59 1-76 0-39 1 63 2-77 1 156 1 62 1-361 1-96 2 147 0 155 1 166 1-127 2-134 1 40 1 167 1-32 2-140 1 75 1-131 0 18 2 264 1-88 1-198 1 106 1 155 2-232 1 142 1-233 1 221 1 191 1-318 1-51 2 250 0-18 2-196 0 90 1 162 2-250 1 195 1-26 1-232 2 437 1-230 1-163 1 118 1 94 1-89 1-69 1 104 2 70 1-231 0-13 2 262 0-80 2-149 1 116 1 92 1-121 1-61 1 115 2 127 0 0 2-342 1-45 1 370 1-31 1-197 1 172 2-298 0-103 2 672 1-147 1-431 1 210 1 113 2-227 1 313 0 6 1-542 2 637 1-415 1 51 1 146 1-153 2 491 0-182 1-238 1-10 2-85 1 66 1 240 1-125 1-344 1 408 2-208 0 2 2 152 1-15 1-292 1 121 1 423 1-328 1-313 2 667 1-513 1-104 1 439 1-110 1-198 1 39 2 252 0 45 2-262 0-18 2 121 2 121 0-126 1-656 2 593 1 679 1-718 0-62 2 183 1-111 1 69 1 62 2-102 1-138 1 60 0 48 2 139 1-32 1-111 1 25 1 120 1-91 1 133 1-121 1-130 2 159 0 74 2-215 1 86 2 188 1-158 1 104 1-85 0-67 2-80 1 193 1 150 1-345 2 101 1 117 1-85 1-112 1 103 1 142 1-184 1-217 2 414 0 29 1-297 2 289 1-230 1-245 1 443 1 20 1-270 1-31 2 224 0 85 1 166 2-393 0-177 2 390 1-122 2-179 1 135 1 103 1-43 0-31 2-134 1 13 1-146 1 115 2 305 0-76 2-199 0 9 2 132 1 78 1-141 1-134 2 175 1 144 1-137 0-99 1-81 2 120 1 133 1-44 1-122 1 2 2 148 0 29 2-191 1-7 1 163 1-33 1-134 2 184 1-159 0-31 2 191 0 22 2-73 1-71 1-92 1 140 0 53 2-90 1-20 2-20 1 155 1 99 1-444 1 81 1 336 2-319 1 269 0-8 2-178 1 49 1 88 1-197 1 196 1 32 2-161 1 133 1-233 1-172 1 218 1 87 1 197 1-105 2-113 0-5 2 62 1 47 1-31 1-57 1-60 1 115 1 66 1-119 1-88 1 140 1 45 2 8 1-432 1 159 1 328 1-82 1-171 2 238 1-247 1 5 1 243 1-17 1-335 1 42 2 501 0-126 2-306 1 11 1 164 1 109 1-245 2-173 1 336 0 64 2-122 0 32 2-182 1-36 1 360 1-19 2-290 0 28 2 165 1-80 1 133 1-23 1-227 1 115 1-410 1 469 1-177 2 272 1-240 1-52 1 314 1-106 1-252 1 197 1 306 2-662 1 325 1 166 1-272 1 42 1 229 1-107 1-183 1 144 1 221 3-540 0 253 1 286 1-236 1 90 2-121 0-23 2 195 0-56 2-229 1 268 1-119 1-61 2 151 0 59 2-361 0 69 1 405 2-409 1 251 1-21 1-161 1 74 1 134 2-272 1 313 1 107 1-583 1 12 1 574 1-55 2-359 0 24 2 276 0 53 2-354 1-203 1 339 1 184 2-160 1-180 1 158 1 239 1-104 1 51 1-286 1-136 2 457 0 146 2-510 0-24 2 217 1 19 1-13 1-33 1-151 1 69 1 393 1-280 1-410 2 616 1-395 1 82 1 142 1-53 2-115 0 40 2 154 0-26 2-196 1-23 1 384 1-37 1-356 2 272 1-244 0-73 2 405 1-61 1-327 1 80 1 288 1-160 1-119 2 16 1 76 1 32 1-63 1-9 1 112 1-26 1-365 1 306 1 385 2-310 1-196 1 100 1 202 1-414 2 511 0-157 1-209 1 96 2 79 1-229 1 166 1 143 2-243 0-75 2 278 0 29 2-135 1-45 1-44 1 97 1 136 1-170 1-119 1 125 1 131 2-123 1-138 1 152 1 134 1-169 1-135 1 33 2 219 0 28 2-195 1-15 1 58 1 18 2 106 0-60 1-212 1 167 2 290 1-526 1 351 2-391 1 249 1 416 1-494 0-206 1 334 2-115 1 166 1 41 2-202 0-45 2 198 1 61 1-186 1-98 1 299 1 73 1-368 1 4 2 271 0-53 2-131 1 153 1-229 1 25 1 291 1-132 1-189 1 141 1 173 1-189 2-119 1 290 1-136 1-146 2 181 0 46 2-175 1 177 1-114 1-78 1 130 1-123 2 144 0 47 2-178 0-59 2 234 1 131 1-284 1-185 1 340 1 111 2-330 0-15 2 263 0-23 2-270 1 24 1 388 1-72 2-397 0 125 2 255 0-67 2-288 1-37 1 534 1-7 2-516 0 140 1 221 2-261 1 165 1 92 1-234 1 14 2 182 1-220 1 134 0 173 2-438 1 154 1 262 1-250 1 181 1 14 2-319 0 159 1 235 2-292 1 144 1 92 1-245 1 22 1 199 2-216 1 215 0 0 2-200 1 88 1 158 1-185 1-120 2 377 1-140 1-299 1 151 2 43 0 122 1 70 1 326 2-607 1 154 1 109 1-468 1-248 1 853 1-95 1-403 2 328 1-174 0-38 2 281 0-30 2-396 1 382 1-169 1-48 2 170 0-5 2-216 0 78 2 160 1-93 1-109 1 26 2 169 0 15 1-117 1-9 1-391 2 473 1-137 1 43 1 97 2-93 1 49 1-108 1 80 1 82 1-139 1-57 1 221 1-36 1-216 2 334 1-330 0-71 2 339 1-33 1-222 1 58 1 226 1-151 1-176 1 230 2-208 1 169 1 87 1-79 2-425 0 123 2 617 0-119 2-612 1 191 1 552 1-242 1-216 1 41 2 165 0 48 2-700 1 243 1 515 1-385 1 211 1 104 2-239 0 27 2 141 0-63 2-104 1 231 1-298 1 69 1 276 1-306 2 209 0-9 2-174 1 208 1-122 1-114 2 241 0 147 2-476 0-48 2 342 1 72 1-155 1-83 2 83 1 53 1-42 0-64 1-72 2 169 0 72 2-116 1-32 2 57 1-22 1-27 1 72 0-2 2-99 1 31 1 69 1-30 1-77 1 55 1 84 1-89 2-95 1 304 1-234 1-183 2 380 1-349 1 262 0 142 2-449 1 14 1 453 1-400 2 151 1 99 1-56 1-102 1 68 1 80 1-106 1-53 1 193 1-6 2-243 0 139 1 154 1-248 2 162 1-147 1 169 1 92 2-397 0 119 1 216 2-183 1 113 1 12 1-152 1 97 1 140 2-263 1 97 0 21 2 118 1-22 1-228 1 247 1-244 1-144 2 375 0 8 1-224 2 214 1-86 1-61 1 61 2 46 1-105 0-54 2 148 2 111 0-68 1-169 1-168 1 499 2-238 0-141 1 169 2-177 1 223 1 49 1-225 1 32 1 141 2-205 1 142 1 88 1-268 1-119 1 398 1-42 1-173 1 67 1 141 1-132 1-72 2 24 1 100 1 18 1-126 1 4 2 155 0-42 1-101 2-74 1 142 1 203 1-273 1-43 2 144 0 12 2-100 0-11 2 58 1 23 1 35 1-60 1-47 1 46 1 56 1-27 2-95 1 30 1 94 1-11 1-171 1 10 2 246 0 13 2-261 1-34 1 185 1-291 1 252 1-47 1 142 1-162 2 138 0-5 2-147 2 199 0-252 1 55 1 190 1-99 1-33 1 32 2 28 1-35 1-65 1 11 2 160 0-15 2-161 0 29 2 98 1-2 1-86 1-61 1 182 1 14 2-201 0 70 1 120 3-250 0 144 1 271 1-359 1-42 2 223 1-157 1 108 0 42 2-86 1 113 1-197 1-2 2 185 0-3 2-202 0-2 2 220 1-9 1-134 1-8 2 133 0 29 2-218 0 145 2-205 1 104 1 178 1-183 1 84 1 87 2-287 0 69 1 233 2-96 1-65 1 35 1 112 1-37 2-219 0 36 2 310 0-87 2-223 1 94 1 110 1-138 2 145 0 1 2-225 0-11 2 192 1 33 1-86 1-71 2 53 1 128 1-73 1-163 1 121 1 105 1-105 1-48 1 73 2 44 1-49 0-26 1-17 2 38 1 26 1-78 1 104 2-149 1 252 0 145 2-367 1-86 1 419 1 219 1-558 1 147 2-178 0 29 2 146 0-65 2-121 1 334 1-384 1-87 2 338 0 33 2-136 1-229 1 159 1 247 1-109 1-79 1-69 1 83 1 100 1-57 2-115 1 31 1 180 1-23 1-328 1 16 2 352 0-20 2-202 0 14 2 133 1-64 1-88 2 170 1-67 1-139 1 100 0 61 2 54 1-73 1-223 1 79 2 289 0-58 2-333 0 98 1 201 3-5 0-30 1-60 1-91 1 116 1 80 1-46 2-174 1 8 1 303 1-56 1-267 1 61 2 292 0-165 1-223 2 50 1 238 1 0 1-223 1 130 0 90 3-241 1 190 0 78 2-248 1-47 1 261 1-194 1 236 1-136 1-123 2 270 1-221 1-29 1 182 1-182 1 204 1-22 1-199 1 126 1 115 2-251 1 144 1 106 1-184 2-163 1 234 1 203 1-170 1-191 1 110 1 139 1-68 1-77 1-69 1 110 1 76 2-51 1 26 1-73 1-108 1 138 1 120 1-123 1-79 1 58 2 111 1-51 1-286 1 454 1-375 1 39 2 282 0-59 2-259 1 98 1 146 1-46 1-180 1 64 2 262 0-111 1-227 1 136 2 108 1-174 1 109 1 125 2-305 1-146 1 325 1 295 1-370 1-100 1 235 1 82 2-328 0-25 2 353 0 19 2-364 1 5 1 261 1-21 1-159 1 49 1 190 1-175 1-127 2 283 1-158 1 97 1-159 1-5 2 215 0-61 1-211 1 185 2 152 1-397 1 284 1 205 2-443 0-60 2 347 0-24 2-163 1 43 1 105 1-85 1-174 2 422 1-218 1-245 1 278 1 101 1-337 1 443 1-566 1-205 2 1148 0-236 2-781 0 47 2 344 1-64 1 167 1-108 1-141 2 214 1-78 1-96 1 137 1 44 1-164 1 3 2 167 1-154 1 215 0-153 1-168 2 312 1-215 1-85 2 266 0-13 2-196 0 46 1 215 2-169 1-250 1 424 1-121 2-248 1 182 1 267 1-272 1-165 1 203 1 87 1-117 2-122 1 161 1 90 1-137 1-8 1-110 1-47 1 562 1-138 1-465 1 213 1 86 1-93 1-51 2 95 1 66 1-100 1-113 1 165 1 150 1-270 1-66 2 133 1 421 1-437 1-90 1 42 2 253 0-83 1-375 1 278 2 230 1-393 1 235 1 83 1-277 2 205 1-101 0-46 2 118 1 29 1-138 1-25 2 92 0 65 1 99 1-201 1-198 2 259 1 167 1-175 1-496 2 653 1-151 1-181 1 157 1 107 1-128 1 265 1-396 1-145 2 449 0 41 2-402 0 94 2 265 1-301 1 182 1 82 2-161 0-50 2 130 0 28 2-118 1-20 1 154 1 6 2-167 0-3 2 92 1 60 1-93 1-117 1 248 1 74 2-332 1 406 1-392 0-122 2 377 1 12 1-253 1-63 1 224 2 135 1-190 1-161 1 271 0 111 2-369 1 23 1 265 1-100 1-152 1 164 1 116 3-365 0 129 1 315 1-182 1-179 2 164 0 60 1-191 1 97 1 146 3-325 0 118 1 230 2-142 1-113 1 70 1 103 1-83 1-144 1 177 1 65 1-153 1-22 2 138 1 42 1-103 1-77 1 68 1 62 1-65 2-74 1 94 1 88 1-50 0-39 2-114 1 44 1 170 1-73 1-113 1 61 1 103 2-139 1 159 1-87 1-147 1 113 1 169 1-127 1-187 1 130 1 125 2-85 1-95 1 75 1 56 1-28 2-110 0 21 2 145 0-22 2-131 1 30 1 113 1-29 2-137 0 2 2 240 0 45 2-349 1 53 1 199 1-152 2 66 1 51 1-108 0-58 2 295 1 36 1-403 1 214 1-153 1 82 1 129 1-97 1-70 2 140 1-84 1-48 1 192 1-19 1-277 1 166 1 143 1-67 2-136 1 7 1 112 1-5 2-128 0 34 1 129 1-74 2-76 1 116 1-73 1 9 1 34 2 3 1-30 1-46 1 120 1 59 1-282 1 31 1 260 2-284 1 280 0 15 1-301 2 262 1-104 1-73 1 166 1 3 1-374 2 552 1-452 0-95 2 393 1-197 1 86 1 74 2-188 0 30 1 161 2-148 1 85 1 18 1-85 1 2 2 109 0-14 2-155 0-21 2 213 1 39 1-224 1-9 1 192 2-100 1 101 0-48 1-156 2 115 1 152 1-196 1 130 2-275 1 370 0 90 2-367 1-203 1 455 1 27 1-334 1 39 2 190 0 8 2-160 0 16 2 147 1-66 1-213 1 351 2-249 0 37 1 89 2-88 1 61 1 68 1-184 1 80 1 116 2-185 1 115 1 84 1-141 1-121 1 133 1 131 1-116 2-94 1 164 0 25 2-140 0 30 2 80 1-156 1 251 1-77 1-216 2 253 1-239 1 249 1-156 1-101 1 245 1 5 2-209 0 34 1 141 2-154 1 148 1-35 1-175 1 131 1 197 1-165 2-154 0 27 2 190 1-1 1-162 1-34 1 155 2 76 1-160 0-58 2 133 0 42 2-124 1-24 1 95 1 46 2-133 0-67 2 206 0 30 2-104 1-508 1 515 1 112 2-162 0-65 1 599 2-407 1-374 1 29 1 633 1-692 1 317 1 143 2-211 0-36 2 211 1-5 1-285 1 344 1-233 2 117 1-294 0-198 2 917 0-215 2-669 1 248 1 360 1-130 2-246 0 145 1 258 2-368 1 202 1 89 1-355 1 13 2 342 0-59 2-186 0 16 2 177 1 30 1-227 1-56 1 278 1 32 2-273 0 21 2 215 2-232 0 159 1 101 1-291 1 109 1 214" stroke="#77ac30" stroke-width="6.5" fill="none" stroke-linejoin="round"/></g>
<path d="M191.98 386.7v-5.2M191.98 228.5v5.2M247.86 386.7v-5.2M247.86 228.5v5.2M303.73 386.7v-5.2M303.73 228.5v5.2M359.61 386.7v-5.2M359.61 228.5v5.2M415.49 386.7v-5.2M415.49 228.5v5.2M471.37 386.7v-5.2M471.37 228.5v5.2M527.24 386.7v-5.2M527.24 228.5v5.2M583.12 386.7v-5.2M583.12 228.5v5.2M136.1 347.15h5.2M639 347.15h-5.2M136.1 307.6h5.2M639 307.6h-5.2M136.1 268.05h5.2M639 268.05h-5.2" stroke="#262626" stroke-width="0.95" fill="none"/>
<rect x="136.1" y="228.5" width="502.9" height="158.2" fill="none" stroke="#262626" stroke-width="0.9"/>
<g fill="#262626"><text transform="translate(136.1 402.2)" font-size="11" text-anchor="middle">0</text><text transform="translate(191.98 402.2)" font-size="11" text-anchor="middle">1000</text><text transform="translate(247.86 402.2)" font-size="11" text-anchor="middle">2000</text><text transform="translate(303.73 402.2)" font-size="11" text-anchor="middle">3000</text><text transform="translate(359.61 402.2)" font-size="11" text-anchor="middle">4000</text><text transform="translate(415.49 402.2)" font-size="11" text-anchor="middle">5000</text><text transform="translate(471.37 402.2)" font-size="11" text-anchor="middle">6000</text><text transform="translate(527.24 402.2)" font-size="11" text-anchor="middle">7000</text><text transform="translate(583.12 402.2)" font-size="11" text-anchor="middle">8000</text><text transform="translate(639 402.2)" font-size="11" text-anchor="middle">9000</text><text transform="translate(131 391.56)" font-size="11" text-anchor="end">-10</text><text transform="translate(131 352.01)" font-size="11" text-anchor="end">-5</text><text transform="translate(131 312.46)" font-size="11" text-anchor="end">0</text><text transform="translate(131 272.91)" font-size="11" text-anchor="end">5</text><text transform="translate(131 233.36)" font-size="11" text-anchor="end">10</text></g>
<text transform="translate(387.55 417.2)" font-size="12.1" text-anchor="middle" fill="#262626">Samples</text>
<text transform="translate(109.2 307.6) rotate(-90)" font-size="12.1" text-anchor="middle" fill="#262626">Amplitude</text>
<rect x="525.4" y="236.8" width="104.4" height="16.1" fill="#fff" stroke="#262626" stroke-width="0.8"/>
<path d="M529.2 244.4H564" stroke="#77ac30" stroke-width="0.8"/>
<text transform="translate(566.6 247.96)" font-size="9.9" fill="#000">Alpha rhythm</text>
<text transform="translate(32.6 320) rotate(-90)" font-size="22.5" text-anchor="middle" fill="#000" font-family='"Liberation Serif", serif'>(b)</text>
<path d="M185.22 428.6V580.2M241.74 428.6V580.2M298.27 428.6V580.2M354.79 428.6V580.2M411.31 428.6V580.2M467.83 428.6V580.2M524.36 428.6V580.2M580.88 428.6V580.2M128.7 554.93H637.4M128.7 529.67H637.4M128.7 504.4H637.4M128.7 479.13H637.4M128.7 453.87H637.4" stroke="#e3e3e3" stroke-width="0.8" fill="none"/>
<clipPath id="clipc"><rect x="128.7" y="428.6" width="508.7" height="151.6"/></clipPath>
<g clip-path="url(#clipc)"><path transform="scale(.1)" d="M1288 5044l1 0 1 0 0 0 2 0 1 0 1 0 1 0 1 0 2 0 1 0 1-1 2 2 0-2 1-2 2 7 0 0 2-9 0 2 1 10 2-13 1 10 1-1 2-4 0-3 2 10 0-5 1-6 2 1 1 7 1-6 2 5 1-3 1 4 1-6 1 4 1 2 1-6 1-1 2 10 0-2 1-15 2 21 1-15 1 1 1 5 2 0 1 2 1-7 1 6 1 6 1-17 1 5 1 14 1-2 1-18 2 19 1-21 1 28 1-39 1 45 2-36 0 10 1 12 1-18 2 24 1-33 1 23 1 18 2-43 1 34 1-26 0 1 2 37 1-53 1 30 1 14 2-34 0 0 1 30 1 21 2-67 1 14 1 63 1-90 2 107 1-128 1 119 1-137 1 189 1-185 1 132 1-9 1-86 2 106 1-144 1-30 1 243 1-280 1 296 1-17 1-316 1 354 2-291 1 235 1-210 1 190 2-174 0 11 1 200 2-378 1 459 1 111 1-463 1-70 2 417 0-57 1-372 1 199 2 372 1-750 1 600 1 64 1-392 2 214 1-142 0-27 2 232 1-54 1-302 1 487 1-567 1 561 2-533 1 534 1-439 1-53 1 406 1-314 1 257 2-295 1 387 1-33 1-485 1 687 1-518 1-141 2 374 0 64 2-372 1 146 0 230 2-337 1 288 2-251 1 225 0-247 1 315 2-436 1 556 1-120 0-234 3-24 1 83 1 109 1-175 1-31 1 239 1-308 2 318 0-2 1-284 1 72 2 269 1-349 1 263 1-68 1-123 2 188 1-214 0-43 2 213 1 31 1-166 1 55 1 73 1-116 2 113 1-116 1 127 2-136 0 116 1 56 1-220 1 276 2-403 1 198 1 298 1-476 2 280 0 78 2-297 0 70 1 317 2-127 1-248 1 301 2-257 1 251 1-268 0 79 2 133 1-171 1 150 1-186 1 262 2-271 1 204 0 22 2-190 1 223 1-231 2 203 1-223 1 274 1-317 1 300 1-222 1-22 1 226 1-232 1 250 1-299 2 347 1-339 1 303 1-341 1 420 1-39 1-409 2 375 1-254 1-47 1 321 1-109 2-178 0 48 1 138 2-130 1 95 1 48 1-113 1-112 2 313 0-113 1-254 1 64 2 285 1-308 1 376 1-478 2 499 1-485 1 472 1-400 1 274 1-22 1-204 1 303 1-415 1 483 2-435 1 343 1-206 1-76 1 258 2-265 1 281 0 4 1-388 2 562 1-678 1 751 1-604 1 54 1 279 2 43 1-418 1 450 1-296 1-114 1 443 2-631 1 785 1-666 1 531 1-184 1-271 1 359 2-238 0-116 2 420 0 53 2-457 1 76 1 194 1-53 2-139 0 81 1 199 2-487 1 236 2 287 0-192 2-253 1 404 0 51 2-395 0 55 2 312 1-493 1 718 2-859 1 694 0 193 2-806 1 328 0 260 2-391 1 350 2-438 1 515 0-163 1-311 2 429 1-374 1-202 2 633 0-199 1-249 1 350 1-360 2 324 1-342 1 110 1 457 2-807 1 543 0 194 2-500 1 156 0 179 3-35 1-126 0-134 2 325 0-52 2-271 1 295 1-321 1 75 1 307 1-397 2 430 1-526 1 542 1-23 1-469 2 443 1-368 0-5 1 480 2-576 0 534 2-455 1 281 2-201 1 228 0-17 1-262 2 378 1-436 1 458 2-385 0-107 2 349 0-3 1-150 2 129 1-259 1 431 2-367 0-11 1 228 2-200 1 157 1 67 1-279 1 102 1 227 1-302 1 199 1-102 2 83 1-21 1-112 2 230 1-262 0 11 1 185 1-88 2-47 1 125 1-84 1-57 2 196 1-272 1 254 1-20 1-155 1 128 1-101 1-27 2 149 0-75 1-96 2 203 1-67 1-163 2 224 0 62 1-361 2 21 1 244 1 72 1-266 1 88 1 172 2-301 1 262 0 68 2-309 1 252 1-252 1 339 2-271 0 209 2-220 1 164 1-118 1 86 1-134 2 193 1-137 0-98 2 197 0 77 2-310 1 21 1 319 2-297 1 217 0-35 1-149 2 216 1-268 1 278 1-188 1-73 2 242 1-272 0 162 2 110 1-190 1-45 1 233 2-293 1 250 1 85 1-169 1-75 1 169 1-28 1-192 2 332 1-338 0-43 2 265 1-122 1 166 1-208 2 165 0-34 1-93 1 83 2-68 1 74 1-107 2 122 1-69 0-17 2 44 0-6 2-22 1 52 1-109 1-16 1 179 1-109 1 40 2-43 1 28 1 27 1-70 1 26 1 34 1-59 2 85 1-29 1-75 1 126 2-139 0-33 1 173 1-61 2-74 1 22 1 131 1-211 2 224 0 23 1-201 1-11 2 116 1-5 1-44 1 14 1 22 2-45 1 35 0 37 2-101 1 129 1-142 2 133 1-91 0-19 1 78 2-87 1 146 1-250 1 345 1-85 1-248 1 279 1-237 2 197 1-252 1 355 1-364 2 469 1-647 1 563 0-516 2 557 1-454 1 348 2-260 1 222 1-227 1 238 1-210 1-35 1 234 1-222 2 143 0 71 2-250 0 23 2 349 1-505 1 550 1-527 2 572 1-601 1 444 0 45 2-280 1-107 1 326 1-87 1-218 2 382 1-157 1-338 1 459 1 118 1-556 1 90 2 281 0-44 1-184 2 274 1-190 1-209 1 171 2 301 1-233 1-209 1 216 1 95 1-228 1-40 2 359 0 164 2-623 0 125 1 289 2-140 1-243 1 205 1 249 1-347 1-22 1 120 2 194 1-313 1 261 2 4 1-142 0-160 2 338 0-75 2-217 1 244 1-236 1 84 1 135 1-175 2 136 0-46 2-48 1 76 1 74 2-322 1 379 0 24 1-371 2 15 1 300 1 32 1-394 2 491 1-272 0 49 1-161 2 261 1-391 1 116 0 216 2 97 2-381 1 422 1-387 1 268 1-176 1 45 1 105 1-174 1 163 1-135 2 190 1-206 1 157 1 10 1-191 1 248 1-346 2 370 1-278 1 53 1 149 2-159 1 97 0 49 2-134 0 29 2 93 1-130 1 166 1-178 1 217 2-339 1 479 1-97 1-408 1 363 1-83 1-36 1-96 2 172 1-122 1-89 1 265 1-265 2 217 1-163 1 109 0 30 1-167 2 220 1-291 1 370 2-393 1 334 1-232 1 205 1-277 1 121 0 167 2-225 2 179 0-33 1-165 2 298 1-412 1 77 1 389 1-483 2 508 0-283 1-237 2 381 1-137 1-111 1 328 1-114 1-341 1 316 1 130 2-360 1 278 1 83 1-451 1-5 2 496 0 29 2-423 1 123 1 203 1-441 2 596 1-333 0 280 2-492 1 457 1-139 0-252 2 304 2-280 0 119 1 151 1-255 2 232 1-19 1-192 1 174 2-76 0-57 2 111 0-34 1-51 2 56 1-48 1 45 1-46 2 59 1-86 1 116 1-138 1 7 1 159 2-53 1-100 1 110 1-66 1-49 1 149 1-65 1-111 2 97 1 68 0 43 2-316 1 85 1 259 1-217 2 101 0 40 2-145 0 13 2 168 1-45 1-175 1 66 2 101 0 31 1-171 2 214 1-215 1-21 0 158 2 2 2-69 0-18 2 87 0-43 2-89 1 43 1 160 1-219 2 178 0-52 1-100 1 157 2-157 1 38 1 95 1-116 2 131 1-107 0 125 2-212 1 313 1-380 1 271 1 84 1-322 2 27 1 263 1-291 1 269 1-55 1-154 2 186 1-156 1-40 1 161 1 16 1-138 1 74 2 56 0-30 1-114 1 184 2-274 1 332 1-361 1 420 2-377 0-3 1 281 1-188 2 125 1-117 1 127 2-180 1 199 0 15 1-199 1 177 2-146 1 139 1-139 1-22 1 148 1-47 1-52 3 93 0-59 1-63 1 134 1 5 2-140 0-21 2 165 1-7 1-166 1 51 1 194 2-274 1 199 0 4 2-139 1-4 1 184 1-251 1 236 2-199 1 185 0-32 2-172 1 180 1 50 1-212 2 139 0 71 2-247 1 47 1 128 1 40 1-180 1 59 1 194 2-332 1 287 0 40 2-267 1 32 1 192 1-134 1-67 2 173 1-113 1-75 1 225 1-240 1 262 1-87 1-153 1 218 2-212 1-28 1 239 1-30 1-240 1 372 1-451 1 434 2-427 1 240 0 187 2-116 1-181 1 208 1-233 1 244 2-230 1 196 1-200 1 240 2-266 1 250 1-196 1 148 1-93 1-19 1-143 2 500 1-575 0 82 1 420 1-439 2 365 1-64 1-152 1-57 1 209 2-174 1 196 1-42 1-280 1 3 1 409 2-398 1 366 0-70 1-242 2 237 1-222 1 68 1 161 1-206 2 179 1-162 1 118 1 66 1-188 1 169 2-127 0-55 1 156 2-121 1 156 2-302 0 361 1 112 1-442 1 267 1-155 2 156 1-273 1 376 1-278 1-8 2 134 0 15 2-139 1 200 1-267 1 346 1-412 2 377 1-234 0-15 1 173 2-197 1 263 1-326 1 305 2-227 1 155 0 31 1-267 2 402 1-355 1 11 2 241 0-59 1-230 1 363 2-389 1 58 1 275 1-305 2 282 0 171 1-576 2 616 1-652 1 655 1-658 1 656 2-544 0 16 1 371 2-276 1 203 1-80 0-90 2 128 2-118 0 39 1 103 1-8 2-149 2 196 0-206 1-189 2 465 0-152 1-114 3 127 0-46 1-60 1 119 1-11 1-97 1-52 2 237 1-118 0-134 2 56 2 98 1-100 1 107 0 89 1-252 2 234 1-207 1 139 2-102 0 4 1 127 2-158 1 115 1 10 1-95 1 105 2-140 1 191 1-176 0-108 2 377 1-152 1-284 1 430 2-306 0 63 1 99 2-103 1 158 1-33 1-281 2 457 1-407 0-75 2 277 1 105 1-304 1 71 1 310 1-467 2 437 0-150 1-207 2 153 1 200 1-345 1 299 1-327 2 362 1-367 1 286 1-20 1-182 1 205 2-288 1 372 1-259 0-135 2 447 1-494 1 390 1 144 1-517 2 402 1-369 1 391 1-270 1-162 1 471 2-442 1 315 0 39 1-251 1 214 2-234 1 323 1-486 1 303 1 330 1-373 1-335 2 672 1-506 1 111 1 258 1-412 1 589 2-729 1 460 1 298 1-633 1 140 1 279 1-259 2-53 0 98 1 312 2-545 1 195 1 328 2-399 0-58 1 498 1-489 2 378 1-343 1 568 1-804 2 749 1-537 1 354 2-318 0 282 1-319 1 347 1-16 1-131 2-73 1 200 0-36 2-314 1 443 1-418 2 347 1-305 1 323 1-254 1-185 1 591 1-531 1 389 2-293 1 230 0-5 2-270 1 34 1 399 1-211 0-239 2 305 2-252 0 73 1 216 2-315 1 224 1 50 2-215 0 7 2 239 0-39 2-309 1 369 1-221 1-77 2 161 0 38 2-135 2 18 0 62 1 52 1-147 2 165 1-158 0-64 1 292 1-356 2 369 1-106 1-157 2 154 1-74 1-50 1 28 1 114 1-123 1-60 1 232 1-43 1-206 1 113 2 73 1-11 1-140 1 66 2 264 0-44 1-430 2 457 1-343 1-127 1 417 1-89 2-202 0-56 1 161 2 173 1-251 1-8 1 197 1-287 2 248 1 241 1-360 0-243 2 508 1-343 1 195 1 54 1-232 2 279 1-285 0-171 2 679 1-800 1 661 1-27 1-401 1 307 1-215 2 230 1-406 1 201 1 475 1-844 2 644 1-517 1 758 1-737 1 375 1 170 2-526 1 571 1-391 0 226 2-274 1 104 1 110 1-158 2 168 0 15 1-277 1 413 2-508 1 627 1-701 1 594 2-434 0 99 1 217 1-229 2 201 1-210 1 288 2-430 1 511 1-512 1 474 0-56 2-404 1 416 1-336 1 36 2 287 0-151 1-201 2 410 1-546 1 634 1-544 1-130 1 781 1-804 1 665 2-603 1 679 1-36 1-583 1 238 1 152 2-275 1 240 1 109 1-444 1-59 2 569 0-190 1-252 1 57 2 243 1-83 1-200 1 316 2-259 0-46 1 272 2-261 1 228 1-1 1-208 2 252 1-342 0 160 1 243 2-418 1 449 1-10 1-434 1 184 1 238 1-191 1-171 2 282 1-241 1 232 1-258 2 304 1-308 0 13 1 293 2-320 1 278 1-283 2 310 1-347 1 230 1 247 1-230 1-249 1 306 1-185 2 188 0-49 1-135 2 183 1-207 1-119 1 485 1-87 1-348 2 383 1-283 0-285 2 658 1-514 1 316 1-315 2 451 1-559 1 596 1-490 1 472 1-98 1-403 1 534 1-566 2 647 1-829 1 839 1-609 1-160 1 686 2-112 1-348 0 53 1 210 2 114 1-551 1 206 1 452 1-574 1 373 1-210 1 179 2-275 1 475 1-563 2 437 0-48 1-212 2 172 1-30 2-287 0 252 1 325 2-540 0-135 2 584 0-44 2-374 1 131 1 245 1-271 1-134 1 189 1 151 2-286 1 251 1 43 1-331 2 428 1-281 0 171 1-322 2 399 1-422 1 45 1 380 1-38 2-327 1 297 1-206 1-143 1 391 1-122 2-151 0-75 2 415 0-120 1-341 2 308 1-188 1-8 1 233 1-326 1 356 2-333 1 287 1 8 1-309 1 367 1-392 1 384 1-299 1 228 2-233 1 218 1-175 2 163 1-140 1 366 1-635 0 162 1 389 2-412 1 336 2-288 1 200 0 4 1-105 2-68 1 252 1-293 1 304 2-272 1 176 0 91 2-342 1 229 0 177 2-135 1-269 1 341 1-242 2 167 0-205 2 317 1-364 1 296 2-189 0 8 1 129 1-105 2-86 1 97 1 142 1-211 2 167 0 5 2-152 0 4 2 135 1-123 1 68 1 50 2-134 0 20 2 130 0-22 2-177 1 103 1 158 1-248 2 198 1-176 1 180 1-180 1 109 1 68 1-183 1 32 1 174 1-108 1-133 2 288 1-290 1-19 1 298 1-289 2 312 0-138 1-269 2 435 1-298 1-101 2 438 0 34 2-516 0 43 2 355 1-248 1 105 1 65 2-161 0-81 2 356 0-27 2-371 1 471 1-436 1-99 2 448 1-336 1 255 0 120 2-463 1 536 1-370 1-204 2 531 0-61 2-407 1-7 1 593 1-243 1-517 2 776 1-523 0-158 2 415 1 52 1-264 1 223 2-279 0 90 1 222 2-287 1 162 1 78 1-236 1 33 1 244 2-3 1-306 0-31 2 356 1-23 1-282 1 68 1 215 2-343 1 437 1-436 1 352 1-100 1-195 2 342 1-373 0-54 1 388 1-244 2 205 1-273 1 309 2-339 1 407 0-164 1-164 2 185 1-279 1 44 1 501 2-51 1-469 0-118 2 573 1-61 1-403 1 155 1 162 1-302 1 308 1-288 1 254 2-246 1 143 1 173 2-197 1-80 1 62 1 110 1-147 1-41 1 203 1-158 2 120 0 0 1-162 2 320 1-303 1-147 1 443 2-413 1 439 1-454 1 379 0 76 2-612 1-110 1 833 1 138 1-745 2 410 1-157 1 145 1-348 1 107 1 635 2-1100 1 835 0 313 1-764 2 323 1-297 1 333 2-486 1 710 0-883 2 972 1-1062 1 389 0 558 2-549 1 334 2-391 1 308 0 348 2-772 1 124 1 479 1-509 1 195 1-151 1 431 2-400 1 267 1 137 1-483 1 78 1 403 1-172 1-360 2 666 1-679 1-27 1 921 2-665 1-327 0 264 1 353 2-325 1 291 1-61 1-292 1 52 2 418 1-755 1 656 1 291 1-756 1 99 1 412 2-488 1 353 0 236 2-532 1 26 1 381 1-413 1 588 1-811 2 803 1-664 1 369 1 232 1-186 1-343 2 461 0-10 1-571 2 769 1-575 1-381 1 1085 2-1082 1 844 0-32 1-484 1 344 2-408 1 171 1 476 1 98 2-827 0 320 2 407 1-53 1-875 1 1066 1-990 1 265 1 530 1-680 2 642 1-296 1-249 1 483 2-236 0-196 2 414 0-59 1-368 2 510 1-607 1 646 2-517 0-131 2 556 0-1 2-475 1 27 1 627 1-834 2 699 0-411 2 280 0-108 2-264 1 643 1-624 2-336 1 238 1 653 1-422 0-265 2 913 1-360 1-752 1 1049 2-836 0 145 2 301 1-254 1 259 1 134 1-703 2 957 1-543 0-256 2 429 1-291 1 357 1-498 2 500 0 202 1-930 2 955 0-783 2 664 1-561 1 542 2-701 0 170 1 575 1 117 2-796 2 659 0-488 1-382 2 1054 1-1033 1 1059 1-1017 1 582 1 262 1-600 1 96 1 369 1-474 1 474 1-454 2 377 1-249 1 165 1 13 1-133 1 91 1-104 2 36 1 171 1-369 1 419 1-20 1-374 1 349 1-219 2 131 1-86 1-20 2 90 0 0 2-92 0 23 1 128 2 21 1-221 1 44 1 153 2-17 1-182 0-12 2 220 1-193 1 76 1 22 1 100 2-253 1 329 0-14 2-395 1 336 1-196 2 140 1-135 1 196 1-258 0 0 2 306 1-306 1 272 1-256 2 314 0-122 1-241 2 318 1-132 1-122 1 214 1-31 1-189 2-37 1 364 1-91 1-244 1 181 2-116 0 26 1 179 2-323 1 267 1-7 1-140 1 140 2-165 0-110 2 433 0-191 2-197 1 241 1-174 1-50 1 293 2-358 1 294 0 25 2-232 1 188 1-147 2 149 1-145 0-93 2 301 0-25 2-136 1-76 1 229 1 7 1-370 2 480 0-523 2 508 1-358 1 211 1-139 1-79 1 189 2 27 1-128 1-62 1 221 1-299 2 336 0-134 1-125 1 7 1 199 2-213 1 211 1-63 1-100 1 124 2-159 1 237 1-286 1 243 1-147 1-42 1 185 2-184 0 284 1-454 2 515 1-521 1 381 1 96 1-337 2 258 1-285 0-8 2 367 1-428 1 401 1-252 1 186 1-217 1 202 2-198 1 74 1-32 1 116 2-167 1 164 0 108 2-292 1 76 1 116 1-44 2-83 1 173 1-145 0-148 2 404 1-164 1-225 1 213 1 69 2-250 1 260 0 56 2-367 1 309 1-240 1 232 2-234 0 96 1 115 1-61 2-184 1 33 1 296 1-22 1-334 1 329 2-252 1 232 1-254 1-19 1 312 2-33 1-371 0 55 1 491 2-606 1 489 1 110 1-284 2-280 1 309 1 230 1-374 1-160 1 468 1-49 2-339 0 88 1 316 2-526 1 592 1-488 1 336 1-248 2 139 0 79 2-208 0 73 2 101 1-158 1 187 1-51 1-186 2-5 1 300 0 15 2-445 1 195 1 298 2-444 1 345 0 82 2-393 0-10 2 319 1 23 1-247 1 57 2 138 0-28 1-191 2 273 1-238 1-52 1 253 1-48 1-157 2 191 1-228 1-32 1 369 1-342 2 190 1-131 1 147 0 14 1-244 2 226 0 208 2-143 1-322 1 197 2 48 0-15 2-120 1 187 1-164 1-51 2 182 0 5 1-172 2 224 1-283 1 284 1-224 1-6 1 191 1-189 1 207 1-255 2 318 1-78 1-272 2 399 1-302 0-166 2 411 1-192 1 159 1-255 1 226 1-11 2-194 0 14 1 220 2-279 1 254 1-237 2 230 0-21 1-167 1 145 1-151 2 231 1-376 1 79 2 391 0-93 1-346 1 188 2 137 1-223 1 213 1 57 1-379 2 439 1-331 0-119 2 303 1-89 1 83 1-138 2 145 0-54 1-103 1 148 2-127 1 49 1 77 2-184 1 178 0 39 2-196 1 195 1-121 1-64 1 66 2 94 1-195 0-45 2 381 1-89 1-347 1 320 2-170 1 119 1-110 0 15 1 127 2-192 1 281 1-45 1-336 2 354 1-282 0 75 1 129 2 4 1-167 1 11 1 201 1-184 1 111 1-63 2 59 1-126 1 135 1-152 1 218 1-200 2 186 1-197 1 171 1-166 1 175 1-28 1-149 1 127 1-84 2 125 1-168 1-4 1 207 2-192 1 124 1-7 0 67 2-262 1 279 1-31 1-180 1 168 1-159 1 164 2-150 1 138 1-207 1 313 2-225 0-60 2 164 0-32 2-64 1 78 1-73 1 82 1-107 2 119 1-118 0-8 2 142 1-68 1-53 2 93 1-101 0-35 2 183 1 33 1-248 1 247 1-249 2 239 1-265 1 286 1-225 1 148 1-101 1 3 2 107 0-35 1-132 2 177 1-170 1 174 1-138 1 1 1 102 1-105 1 132 1-155 2 155 1-156 1 180 1-44 1-190 2 291 1-171 0-68 2 126 1 15 1-104 1-35 2 203 0-28 2-289 0 72 2 300 1-170 0-128 2 194 2-117 0-2 2 105 1-20 1-140 1 56 1 199 1-262 2 160 1-63 0 18 2-36 1 100 1-148 2 128 1-85 1 51 0 14 1-63 2 66 1-66 1 28 1 39 2-85 1 137 0-25 2-175 1 227 1-221 1 249 1-296 1 332 1-271 2 139 1-91 1-3 0 73 2 69 2-165 0 47 1 100 1-190 2 215 1-186 1 171 1-177 2 230 1-304 1 312 1-15 1-283 1 267 1-90 2-193 1 334 0 6 1-216 2-150 1 309 1 101 1-426 1 407 1-494 2 553 1-463 1 94 1 237 1-244 2 120 1 138 1-114 1-140 1 218 1-2 1-222 1 286 2-246 0-121 2 368 1-270 1 139 1 70 1-202 2 185 1-97 0 0 1-56 1 127 2-113 1 16 1 108 1 5 1-225 2 301 1-225 1-33 1 182 1-152 1 73 2 51 1-37 1 19 1-114 1-4 1 187 1-157 1 101 1-88 1 106 2-123 1 122 1-120 1 130 1-47 1-116 1 222 2-261 0 80 2 143 1-172 1 134 1-99 2 96 0 0 1-136 2 150 1-90 1 81 1-125 2 144 1-60 0-16 1-132 2 307 1-356 1 21 1 266 2-162 1 66 0 62 2-173 1 52 1 126 1 14 1-182 1 27 2 148 0-52 1-120 2 170 1-165 1 79 1-53 1 114 2-141 1 171 1-164 1 142 1-124 1 107 2-80 0-31 1 169 1-270 2 307 1-239 1 168 1-199 2 305 1-384 1 302 1-120 1 65 1-102 1 149 2-138 0 123 2-135 1 140 0-34 2-154 1 243 1-276 1 41 1 250 2-340 1 369 1-342 1 333 1-292 1 175 1 70 1-207 1 143 2-91 1 27 1 62 1-147 2 131 0 91 2-255 1 253 1-268 1 295 1-280 1 14 1 254 2-322 1 131 1 164 1-151 1-41 1 160 1-180 2 173 0-12 1-139 1 80 2 110 1-312 1 352 1 3 2-238 0 15 2 127 0-6 2-183 1 321 1-362 1 297 2-213 1 170 1-164 1 201 1-227 1 45 1 128 2-134 1 109 0 40 2-190 1 38 1 174 1-224 1 262 2-302 1 239 0 40 2-138 1-46 1 134 1-23 1-196 2-180 1 667 0-32 2-668 1 572 1-386 1 337 1-291 2 228 1-176 1 101 1-163 1 415 1-492 1 22 1 376 1-328 1 256 2-208 1 195 1-198 1 231 2-306 1 352 0-1 1-365 2 333 1-247 1 192 1-212 1 70 1 209 2-335 1 346 1 19 1-405 1 317 1-236 1 258 2-284 0 101 1 344 2-579 1 472 1-295 1 293 2-384 1 271 1 224 1-550 1 10 1 525 1-517 2 411 0 85 2-415 0 60 2 208 1-97 1 98 2-236 1 273 0-18 2-254 0 5 2 288 1-78 1-258 1 329 2-307 1 195 0-176 2 227 1-68 1-85 1 114 1 72 2-356 1 459 1-312 1-55 1 286 1-312 2 324 1-287 1 184 0 119 2-489 1 147 1 433 1-228 1-183 2 294 1-347 0 45 2 360 1-315 1 165 1-5 1-60 2-66 1 169 0 15 2-261 1 289 1-307 1 109 1 182 1-224 2 164 0-40 2-61 1 97 1-138 1 7 1 244 1-377 2 460 1-138 1-285 1 145 1 138 2-241 1 311 1-325 1 331 1-511 1 571 1 27 1-559 1 436 2-272 0 128 1 163 2-356 1 178 1 89 2-147 0-39 2 280 0-167 2-177 1 303 1-116 1-144 2 256 0 16 1-323 2 11 1 278 1 6 1-254 1 121 1 170 1-151 1-149 1 335 2-383 1 67 1 250 2-216 1 110 0 69 2-125 1-170 1 309 1 199 1-567 2 563 1-504 0 24 1 368 2-341 1 338 1 38 2-458 1 438 1-276 0 10 1 118 2-110 1 191 1-107 1-203 1 384 2-294 1-128 1 289 1 88 1-238 1 11 2 99 0 5 2-97 0 43 2 99 1-196 1 175 1 63 2-253 0 77 1 175 1-271 2 262 1-24 1-159 1-12 1 170 2-194 1 232 1-27 1-260 1 271 0-257 2 268 1-267 1 249 1-205 2 225 1-304 1 131 1 186 1-303 2 351 0-59 1-355 2 383 1-256 1 22 1 151 2-133 1 87 0 43 2-135 1 20 1 97 1-125 2 185 1-239 1 236 0-39 2-171 1 230 1-302 2 385 1-242 0 10 1-105 2 198 1-147 2 156 0-182 2 239 1-227 0-60 1 279 2-280 1 277 1-244 1 204 2-174 1 108 1 87 1-85 1-163 1 259 1 8 1-256 1 232 1-192 1 149 2-102 1-15 1 109 1-15 1-93 2 122 1-107 1-89 1 244 1 60 1-306 1 225 2-187 1 168 1-123 2 152 0-233 1-13 1 360 2-356 1 247 0-9 1-232 1 257 2-264 1 271 1-267 1 10 2 205 0 47 2-272 1 122 0 147 2-262 1 205 1 19 2-153 1 122 1-129 1 45 0 86 2-140 2 171 1-156 1 79 1 29 1-41 1-55 1 115 1-129 2 131 0-17 1-89 2 84 1-52 1-44 1 140 1-46 1-133 1 100 1 97 1-172 2 120 1-85 1 72 2-73 1 59 0 27 2-90 1 77 1-51 1-11 1 50 2-53 1 68 1-78 1 73 1-88 1 117 1-27 1-95 1 131 1-151 1 174 1-235 2 289 1-280 1 214 2-126 0-23 2 156 0-2 1-201 2 179 1-125 1 26 1 112 1 17 1-216 2 276 1-310 1 293 1-251 1 23 1 241 2-50 1-230 1 213 1-114 1-91 1 216 1-179 1 150 1-148 2 299 0-114 2-413 1 164 1 335 1-56 2-235 0 84 1 181 2-463 1 271 1 312 1-513 1 51 1 359 1-315 1 238 2-186 1 169 1-200 2 248 1-267 1 243 1-196 1 141 1 29 1-190 1 227 2-313 0 163 1 232 2-367 1 257 1 70 1-371 1 446 1-520 2 530 1-408 0 97 2 154 1-205 1 329 1-172 1-245 1 358 2-249 0-52 2 295 1-44 1-241 1 238 1-215 1 253 2-360 1 504 1-306 1-267 1 308 1 133 2-259 0-5 2 214 1 17 1-187 1 47 1 74 2-154 1 218 0 30 2-306 1 89 1 225 1-128 1-199 2 348 1-345 0 62 2 262 1-162 1-187 1 103 1 239 1-293 2 279 0-242 2 283 1-392 1 210 2 165 1-192 0-72 2 179 0-33 2-78 1 67 1-55 1-20 1 96 1-93 2 82 1-19 1-63 1 77 1-47 1-18 2 60 0 8 2-102 1 39 1 102 1-166 2 181 0-33 1-146 2 155 1-73 1-60 1 127 1-36 1-112 2 69 1 146 0-73 2-168 1 193 1-141 1-21 2 160 0 71 2-330 0 61 2 227 1-217 1 153 1 153 2-518 1 619 1-454 1 316 1-167 1-139 1 265 1 79 2-413 1 460 1-386 1-46 1 327 1-201 0 154 2-210 1 214 2-169 1 148 1-189 1 273 1-367 2 434 0-93 1-300 1 322 1-280 2 220 1-183 1 190 2-215 1 221 1-171 0-66 2 237 1-205 1 219 1-249 2 158 0 61 2-106 1-76 1 146 1 41 1-207 1-3 1 232 2-200 1 124 1-79 1 87 1-124 1 122 1 48 1-186 1 144 1-116 2 117 1-130 1 39 1 170 2-327 1 286 0 44 2-232 1 182 1-101 1-67 2 119 0 19 2-141 0 27 1 172 2-124 1-78 1 188 2-162 0-69 2 225 0-69 2-152 1 315 1-138 1-245 2 96 1 245 1-157 0-81 2 151 2-10 0-39 2-69 1 132 0 6 1-233 1 212 2 132 1-87 1-270 2 256 1-105 1-69 1 69 1 105 1-149 1-20 1 148 2-183 1 243 0-80 1-136 2 155 1-132 1 129 1-165 1 191 2-199 0 75 1 152 2-243 1 251 1-29 1-233 2 73 1 134 1-101 1 112 1-67 1-92 1 177 2-237 0 89 1 152 2-187 1 122 1 38 1-157 2 147 1-123 0 19 1 82 2 8 1-113 1 3 1 144 2-198 1 225 0-49 1-165 3 53 0 135 1-5 1-250 1 308 2-277 0 215 2-165 1 178 1-182 1-105 1 427 2-409 1 359 1-361 1 225 1 187 1-373 1-41 2 344 1-390 1 446 1-413 1 359 1-39 1-366 1 450 1-348 1 205 1-135 1 136 2-146 1 177 1-251 2 344 1-392 0 51 1 309 2-251 1 90 1 136 1-347 1-50 1 480 2-325 1 127 1 72 1-243 1 291 1-262 1 69 1 149 1-241 2 300 1-281 1 203 1-180 2 216 0-9 1-235 2 265 1-235 1-44 1 221 1-50 1-103 1 171 2-214 1 237 1-248 1 241 1-187 1 121 2-104 1 148 1-193 0-137 2 495 1-441 1 198 1 79 2-167 1 149 1-181 0 80 2 142 1-245 1 193 1 90 2-307 0 53 1 242 2-237 1 178 1-150 1 135 2-138 1 104 0 48 2-195 1 27 1 340 1 59 1-605 2 634 1-595 0-31 1 616 2-617 1 584 1-199 0-283 2 357 1-370 1 486 2-615 1 265 1 272 1-356 2 244 0 84 2-432 0 198 2 226 1-246 1 98 1-135 2 338 1-615 1 713 0-27 2-614 1 519 1-366 2 52 1 162 0 64 1-249 2 256 1-263 1 255 1-210 2 226 1-316 1 370 1-321 1 48 1 192 1-201 2 184 0 27 2-279 0 16 1 397 2-563 1 392 1 239 2-587 1 523 1-492 1 451 1-372 1-5 0 271 2-201 1 205 1-277 1 450 1-655 2 704 1-519 1 351 2-307 1 314 1-336 1 327 0-99 1-168 2 176 1-136 2 159 1-315 1 496 1-439 1-84 1 459 1-331 1 234 2-238 1 238 0 2 1-285 2 302 1-239 1 18 2 137 1-105 1 95 0 43 1-179 3 90 0 89 1-11 1-219 2 344 1-366 0-10 2 334 1-32 1-389 1 580 2-633 1 373 0-277 2 353 1-268 1 304 1-405 1 65 1 430 1-479 2 340 0-119 1-79 2-67 1 313 1 26 2-363 1 329 1-196 1-101 0 189 2-100 1 133 2-172 1 146 0 24 2-153 1 28 1 116 1-11 2-139 0-21 1 252 1-272 2 192 1-125 1 71 2 119 1-91 1-223 1 357 0-86 2-222 1 204 1-124 1 91 2-92 0 53 1 57 2-112 1 136 1-190 1 189 1 4 1-191 2 229 1-184 0-38 2 112 1 22 1-69 1-10 2 104 0-25 1-129 2 202 1-191 1 30 1-57 2 187 1-143 0 7 1 117 2-49 1-51 1 59 2-32 0 1 1 22 1-27 1 35 2-84 1 186 1-233 2 172 1-131 1 211 1-327 1 378 1-333 1 194 1 56 2-182 1 153 1-122 0-95 2 223 1 51 1-155 1-75 2 198 0 0 2-240 0 26 2 226 1-203 1 116 1 58 1-143 2-106 1 223 1 209 1-658 1 297 1 431 1-515 2 310 0-39 1-279 2 305 1-237 1 211 2-351 1 639 1-456 0-340 2 786 1 36 1-748 1 536 2-269 0-73 1 302 1-369 2 500 1-553 1 331 1 267 1-166 1-161 1-277 1 188 2 201 1-227 1 163 1 83 2-264 0-16 2 256 0 24 2-355 1 571 1-701 1 94 1 608 1-729 2 745 1-286 0-368 2 455 1-155 2-170 1 359 0 26 1-589 2 573 1-400 1 360 2-483 1 656 1-658 0 60 1 591 2-659 1 233 1 339 2-319 0-94 2 358 0-184 2-236 1 444 1-432 1-27 1 496 2-463 1 319 0-30 1-132 2-37 1 175 2-182 1 163 0-7 1-155 1 204 2-206 1-19 1 133 1 79 2-237 0 39 1 231 2-231 1 112 1 59 1-176 1 4 1 215 2-249 1 198 1 24 1-183 1 237 1-243 2 54 1 101 1-100 1 89 2-135 0 193 1 112 1-472 1 399 2-235 1 153 1-102 1 42 1-73 1 166 2-181 0-36 2 288 0-102 2-249 1 342 1-347 2 350 1-268 0-19 1 294 1-395 2 379 1-332 1 310 2-209 1 134 0 49 2-191 1-11 1 92 1 52 1-75 1-20 2 108 1-152 1 187 1-207 1 248 1-60 1-257 1 411 2-431 1 357 1-221 1 14 1 166 1-27 2-176 0 50 1 164 2-240 1 194 1 19 1-185 1-40 2 191 0 76 2-299 0 68 2 224 1 4 1-299 1 162 1 239 1-134 1-295 1 217 1 76 2-93 1-170 2 322 1-306 0 25 1 271 2-3 1-260 1-24 1 269 1-214 1 205 2-277 1 298 1 1 1-249 1 92 0 70 2-93 2 60 1-59 1 103 1-14 1-178 1 246 2-161 0-65 2 197 1-211 1 211 1 18 1-255 1 291 2-213 0 50 1-67 2 224 1-272 1 1 1 318 1-412 1 404 2-347 1 278 0-31 2-183 1 186 0-161 2 168 1-169 2 162 1-212 1 273 1-313 1 296 1-206 2 138 1-132 1 154 1-158 1-28 1 227 1-235 1 238 1-253 2 287 0-86 1-288 2 144 1 259 1-314 2 249 0-66 1-168 1 103 2 105 1-232 1 361 1-147 1-259 1 302 2-187 0-34 2 197 1-210 1 228 1-34 1-213 1 267 2-269 1 232 1-127 2 78 0-260 1 135 1 320 1-464 2 349 1-56 1-160 1 16 1 192 1-57 1-284 2 385 1-137 1-157 1 256 1-30 1-251 1 291 1-239 2 181 0-78 2 39 1-91 1 92 2-119 1 151 1-146 1 143 1-147 1 13 1 168 1-230 1 201 2-128 1 34 1 74 1-110 1-28 1 156 1-81 1-75 2 229 1-132 1-182 1 285 1-15 1-154 1-8 2 94 0 41 2-234 1 30 1 300 1-292 1 195 2-135 1 116 1-128 1 120 1 18 1-127 1 63 1 31 2-97 1 84 0 113 2-137 1-122 1 197 1-7 1-137 2 156 1-129 0-56 2 223 1-47 1-203 1 244 1-211 2 197 1-185 0-7 2 176 1-90 1-101 1 206 2-192 1 143 1-73 0-16 2 76 1-24 1-90 2 154 1-87 1-70 1 133 1 105 1-404 1 131 1 267 1-163 1-105 2 245 1-211 1-40 1 198 1-161 2 127 0 113 2-406 0 95 1 347 2-314 1 209 1 14 2-255 0 117 1 232 1-428 2 442 1-422 1 415 1-335 2 194 0 34 1-228 2 337 1-337 1-41 1 283 2-223 1 218 1-215 1 191 0 28 2-258 1 351 1-498 2 580 1-570 0 259 1 183 2-258 1 158 1 40 1-209 2 288 1-256 0-167 1 457 2-353 1 273 1-308 2 359 1-436 1 482 0-48 1-369 2 394 1-285 1 293 2-479 1 567 1-440 0-233 2 722 1-313 0-284 2 75 1 297 2-218 1 137 0 21 2-158 2 250 0-196 1-162 1 280" stroke="#edb120" stroke-width="6.0" fill="none" stroke-linejoin="round"/></g>
<path d="M185.22 580.2v-5.2M185.22 428.6v5.2M241.74 580.2v-5.2M241.74 428.6v5.2M298.27 580.2v-5.2M298.27 428.6v5.2M354.79 580.2v-5.2M354.79 428.6v5.2M411.31 580.2v-5.2M411.31 428.6v5.2M467.83 580.2v-5.2M467.83 428.6v5.2M524.36 580.2v-5.2M524.36 428.6v5.2M580.88 580.2v-5.2M580.88 428.6v5.2M128.7 554.93h5.2M637.4 554.93h-5.2M128.7 529.67h5.2M637.4 529.67h-5.2M128.7 504.4h5.2M637.4 504.4h-5.2M128.7 479.13h5.2M637.4 479.13h-5.2M128.7 453.87h5.2M637.4 453.87h-5.2" stroke="#262626" stroke-width="0.95" fill="none"/>
<rect x="128.7" y="428.6" width="508.7" height="151.6" fill="none" stroke="#262626" stroke-width="0.9"/>
<g fill="#262626"><text transform="translate(128.7 593.2) scale(1.13 1)" font-size="9.8" text-anchor="middle">0</text><text transform="translate(185.22 593.2) scale(1.13 1)" font-size="9.8" text-anchor="middle">1000</text><text transform="translate(241.74 593.2) scale(1.13 1)" font-size="9.8" text-anchor="middle">2000</text><text transform="translate(298.27 593.2) scale(1.13 1)" font-size="9.8" text-anchor="middle">3000</text><text transform="translate(354.79 593.2) scale(1.13 1)" font-size="9.8" text-anchor="middle">4000</text><text transform="translate(411.31 593.2) scale(1.13 1)" font-size="9.8" text-anchor="middle">5000</text><text transform="translate(467.83 593.2) scale(1.13 1)" font-size="9.8" text-anchor="middle">6000</text><text transform="translate(524.36 593.2) scale(1.13 1)" font-size="9.8" text-anchor="middle">7000</text><text transform="translate(580.88 593.2) scale(1.13 1)" font-size="9.8" text-anchor="middle">8000</text><text transform="translate(637.4 593.2) scale(1.13 1)" font-size="9.8" text-anchor="middle">9000</text><text transform="translate(123.9 584.63) scale(1.13 1)" font-size="9.8" text-anchor="end">-3</text><text transform="translate(123.9 559.36) scale(1.13 1)" font-size="9.8" text-anchor="end">-2</text><text transform="translate(123.9 534.09) scale(1.13 1)" font-size="9.8" text-anchor="end">-1</text><text transform="translate(123.9 508.83) scale(1.13 1)" font-size="9.8" text-anchor="end">0</text><text transform="translate(123.9 483.56) scale(1.13 1)" font-size="9.8" text-anchor="end">1</text><text transform="translate(123.9 458.29) scale(1.13 1)" font-size="9.8" text-anchor="end">2</text><text transform="translate(123.9 433.03) scale(1.13 1)" font-size="9.8" text-anchor="end">3</text></g>
<text transform="translate(383.05 604.6) scale(1.16 1)" font-size="10.1" text-anchor="middle" fill="#262626">Samples</text>
<text transform="translate(107.6 504.4) scale(1.16 1) rotate(-90)" font-size="10.1" text-anchor="middle" fill="#262626">Amplitude</text>
<rect x="533.4" y="436.4" width="95.5" height="12.9" fill="#fff" stroke="#262626" stroke-width="0.8"/>
<path d="M537.2 442.5H570" stroke="#edb120" stroke-width="0.8"/>
<text transform="translate(572.9 445.56) scale(1.13 1)" font-size="8.5" fill="#000">Beta rhythm</text>
<text transform="translate(32.6 515.5) rotate(-90)" font-size="22.5" text-anchor="middle" fill="#000" font-family='"Liberation Serif", serif'>(c)</text>
<path d="M186.62 619.5V782.2M243.84 619.5V782.2M301.07 619.5V782.2M358.29 619.5V782.2M415.51 619.5V782.2M472.73 619.5V782.2M529.96 619.5V782.2M587.18 619.5V782.2M129.4 755.08H644.4M129.4 727.97H644.4M129.4 700.85H644.4M129.4 673.73H644.4M129.4 646.62H644.4" stroke="#e3e3e3" stroke-width="0.8" fill="none"/>
<clipPath id="clipd"><rect x="129.4" y="619.5" width="515" height="162.7"/></clipPath>
<g clip-path="url(#clipd)"><path transform="scale(.1)" d="M1295 7008l1 1 1-1 1 1 1 0 0-1 2 0 2 1 1 0 1-1 1 0 1 1 2 0 0-1 2 2 1-3 1 3 1-4 2-1 0 7 2 1 1-11 1 3 1 9 2-8 0 6 1-7 0 7 2-7 1 7 2-6 0 5 2-6 0 6 2-8 1 9 2 1 0-8 1 0 1 8 2-2 1-6 2-1 0 10 3 1 0-18 2 23 0-30 1 34 2-31 0 24 1-18 2 16 0-11 3 8 1-8 1-1 1 11 1-15 1 16 1-15 0 19 2 2 1-21 2-9 1 50 1-54 1 49 2-43 1 33 1 1 1-31 1 36 1-42 1 48 0-54 2-3 1 55 1-41 2 21 1-36 0 54 2 4 2-83 0 129 1-130 3 115 0-110 1 96 1-97 1 83 1-73 2 1 0 72 2-77 0 121 2-178 1 204 2 44 1-265 2-79 0 362 1 108 1-474 1 417 1-429 1 420 1-360 2 33 1 287 1-324 0 268 3-287 0 346 2 66 1-490 1 401 1-329 2 83 1 167 1-181 0 281 2-409 0 392 3-15 1-356 1 401 0-278 1 170 2-158 1-95 0 412 2 18 1-474 2 40 0 366 2-12 0-325 2-46 1 475 1-69 1-524 2 137 0 380 3-57 1-298 1 263 1-173 0-67 1 207 2 41 1-176 2-60 1 238 1-246 0 194 2 57 1-243 1 249 0-299 2 13 1 312 1-229 1 167 2-32 1-127 2 149 0-184 2-8 0 245 3-210 0 198 2-5 1-219 1 219 0-214 1 218 2-238 1-54 1 337 1 33 1-375 2 396 0-436 2 36 1 304 2-156 1 142 0-265 1 279 3-4 0-211 2-31 0 254 2-75 1-214 1 33 1 291 2-289 0 285 2-60 1-248 1 242 0-203 1 213 1-247 2 234 0-242 2 98 1 81 2-105 0 144 3 51 0-232 1 221 0-218 2 36 1 167 1 4 1-206 3-18 0 322 1-419 1 370 3-266 0 233 1-219 0 196 2-14 1-153 2 170 1-175 2 163 0-176 2 18 1 143 1-169 0 160 3-167 0 228 1-239 0 188 2 66 1-240 1 1 1 165 2 12 1-171 2 12 1 255 1-285 1 308 0-331 2 285 1-27 1-213 2-32 1 264 1-17 0-256 3 13 0 267 2 22 1-314 1 284 1-320 1 358 1-314 2 259 0-264 2 287 0-268 2 276 1-343 1 387 1-425 1 452 1-363 2 7 1 270 2 56 0-502 1 666 0-684 2 82 1 404 2-92 1-192 1 263 0-228 2 244 0-301 3-2 1 375 2 159 0-745 2 693 0-744 1 679 1-424 1-94 1 480 2-26 1-355 1 368 1-352 2 278 1-294 2 74 0 185 1-193 0 139 3 52 1-216 1 28 1 233 1-293 1 307 2-36 1-352 1 402 1-310 1 228 1-201 2-44 1 228 1-313 1 543 0 24 2-535 1 1 1 319 1-260 1 254 1-23 1-186 2 9 1 198 1-19 2-275 0 330 2-243 1 165 1-172 2 6 0 204 1-157 2 181 1-349 1 349 1-395 0 522 2-80 1-324 1 62 2 192 2 24 0-278 2 256 0-222 2 226 0-271 2-203 1 703 1-631 1 642 2-38 1-687 1 619 1-622 0 633 2-607 1 707 0-588 3 470 1-585 0 692 1-660 3 247 0 204 1-332 0 359 3-36 0-244 1 192 2-201 1 290 1-417 2-16 0 460 1-28 1-335 2-43 1 344 1-348 1 371 2 14 1-403 1-17 1 525 1-472 0 396 2-38 2-243 0 179 1-152 2-5 1 142 1-208 1 261 1-230 1 161 2-183 0 252 2-3 1-234 1 159 1-177 1 226 1-268 2 262 1-184 2 157 1-151 1 201 1-264 1 253 1-256 1 220 1-186 1 196 1-178 1 185 1-166 3 132 0-162 1 162 1-156 2 19 1 149 1-28 0-103 3-4 1 157 0-185 2 216 0-248 1 197 2 86 0-283 2-23 1 283 1-263 1 241 2 0 1-211 2 220 1-236 1 10 1 246 2-27 0-193 2 156 0-194 1 212 2-140 0 84 1-48 2 77 1-144 1 6 2 132 0-105 1 62 1 18 1-83 2-2 1 108 2 28 0-149 2 161 0-161 2 126 1-133 1 1 1 142 2 4 1-171 0 195 1-216 2 19 1 192 2-60 1-71 1 102 0-119 3 122 0-147 2 32 1 102 1-16 1-83 2 0 0 97 1-145 1 197 2-165 1 150 0-214 1 227 2-42 1-129 2 7 0 91 1-86 1 101 2 5 1-97 1 2 0 65 2 27 2-123 0 153 2-204 1 0 1 219 1-112 1 52 2-40 1 13 2-124 0 233 2-217 1 193 0-173 1 152 1-17 1-143 2 49 1 98 1-98 1 121 1-176 1 190 2-38 0-118 2 112 2-111 1-49 1 208 1-178 1 305 1-435 0 351 2 45 1-434 2 140 0 250 3 62 0-452 1 480 0-424 3 58 0 249 1-52 1-153 2 195 1-194 2 256 0-341 2-158 0 578 3-55 0-424 1 459 0-385 3-27 1 393 2-2 0-369 1 231 1-101 2 250 0-371 1 426 2-440 1 337 1-398 2 109 1 308 0-350 1 245 2 55 0-271 3 259 1-261 0 267 1-270 1 3 2 257 1 10 1-261 2 279 0-290 2 2 1 298 2 32 0-329 1 398 1-573 2 631 1-651 0 580 2-360 1 56 1 71 2-236 0 355 1-338 1 316 3-200 0 177 1-162 0 118 3 36 1-200 0 279 1-338 2 53 1 201 1-109 1 70 2-124 1 178 2-227 0 273 1-287 0 287 2-370 1 443 1-51 2-248 1 14 1 150 2-31 1-133 1 167 0-197 2 59 1 130 1-10 1-117 2 144 1-199 1-2 1 228 1-222 1 226 2-232 1 217 1-45 0-150 3-11 0 206 1-27 1-157 2-43 1 253 1-217 1 211 1-29 1-165 1 147 1-114 2 92 1-113 2-13 0 140 1-94 1 11 2-92 1 201 1-186 1 234 1-23 1-237 1 23 1 159 1 52 1-215 2-39 0 325 3-311 1 271 0-244 2 326 2-63 0-440 1 535 2-522 1 550 1-566 1 419 1-438 1-4 1 515 1 85 1-587 1 56 1 489 2-527 1 382 1-271 0 257 2 3 1-220 2-95 1 422 1 9 1-339 1 349 1-451 2 80 1 289 1-86 0-158 2 40 0 111 2 9 1-125 3-13 0 209 1-302 1 356 2-531 1 712 0-637 1 629 2-641 0 544 2-490 1 434 2 32 0-486 2-27 1 530 2-353 0 250 1-285 1 184 1 87 1-268 2 19 1 208 1-217 1 237 1-181 1 276 1-408 1 384 2-89 1-176 1 139 1-144 1 146 1-144 2 152 0-139 2 3 1 136 1-150 1 167 2 32 1-248 1 267 1-323 1 368 1-312 2 39 1 170 1-14 0-151 3 54 0 66 2-19 0-57 3-12 0 122 1-149 2 124 0-125 2 168 1 10 1-206 1 61 0 63 2 34 1-129 2-83 0 356 2-309 1 172 2 38 1-245 1 15 1 246 1-199 1 169 1-8 1-164 1 219 1-191 2 150 1-176 1 146 1-132 1 168 0-195 2 42 1 78 1 36 2-118 1 157 0-186 3 2 1 204 0-179 1 165 2-196 1 199 2 20 1-194 1 201 0-267 2 215 1-168 1 30 1 88 2 35 1-164 0 181 1-129 3-21 0 144 1-127 1 131 2-4 0-141 3-60 0 228 2-79 0-71 1 118 1-131 2-9 1 148 1-32 1-149 2 191 1-144 0 145 1-133 2 104 0-142 2-11 1 180 2 10 1-212 0 179 2-188 1 5 1 241 1-31 1-137 2-24 0 134 2-39 0-63 2-12 0 106 2-96 1 70 2-3 1-58 1-41 1 126 1-178 1 272 2-244 0 205 2-4 1-262 1-9 1 309 1-10 1-263 3 93 0 107 1-141 1 104 1-113 1 124 1 29 2-172 1 194 1-195 2 56 1 143 0-212 2 214 0-241 1 239 2 3 0-213 3 190 1-209 0 297 1-294 3-9 0 234 1-203 1 175 2-93 1 91 1-3 1-200 1 266 1-282 2-16 1 315 1-8 1-236 1 226 1-277 2-24 1 348 1-322 1 409 0-478 2 362 1-259 0 168 3-174 1 279 2-23 0-299 2 328 0-358 2 402 1-420 1-33 1 536 1-507 1 446 1-420 1 283 2 31 1-279 0 291 2-254 2 161 0-133 2-22 1 308 1-494 1 462 1-467 0 487 3 29 1-418 0 334 1-198 2-93 1 276 1 2 1-208 2 153 1-258 0 380 1-444 2 467 1-302 1-7 0 187 3-205 0 217 1-245 1 329 2 7 1-370 1-25 1 352 1 16 1-246 2-13 1 214 2-12 1-256 1-33 1 422 1-380 1 375 1-385 0 263 3-5 1-178 0 180 1-222 2 33 0 170 2 3 0-192 3 10 1 285 2 58 0-519 1 406 1-242 2 213 0-243 2-16 1 300 1-240 1 254 2 58 1-479 0 488 1-401 1 7 2 270 2-223 0 248 2 51 0-413 1-7 1 445 2-30 1-364 2-91 1 561 1-410 0 409 2-581 0 515 2-39 0-304 3 194 1-161 0 178 1-177 2 194 1-220 2 208 1-243 0 324 1-346 2 57 1 246 1-14 2-257 1 9 1 245 2-58 0-135 1-64 1 276 2-256 1 296 0-313 1 278 2-12 1-217 1 212 0-222 3 53 1 110 1-125 1 89 1-62 1 56 1-62 2 87 1-10 1-91 1 113 1-114 2 7 1 95 1-111 1 133 0-173 2 237 1-259 1 198 2 0 1-128 1 102 0-101 3 0 0 109 1-115 1 110 1-141 1 195 3-242 0 282 1-87 1-188 1 325 1-400 2 50 0 349 3-355 0 292 2-32 1-233 1-110 0 468 1-459 2 344 1-26 1-180 2 188 1-251 0 359 2-360 1 315 1-266 2-28 0 219 1-176 2 209 2 1 0-202 2 116 1-8 1 86 1-235 1 275 1-312 1 326 0-345 2 7 1 317 1-37 1-205 2-3 1 208 2-276 1 403 0-379 1 314 2-436 1 516 1-460 1 429 2 50 0-462 2 318 1-199 1 229 0-297 2 275 1-238 1 242 1-231 3-38 0 291 1 0 1-309 2 237 1-214 1-164 1 617 1-637 1 579 1-86 2-357 0 304 2-266 0 254 2-149 2-77 0 210 2-205 1 231 1 14 1-374 1 487 1-475 1 394 0-222 3-66 1 320 0-408 1 415 2-284 1 175 2-202 1 213 0-243 1 274 3-56 0-199 1 241 2-301 0 407 1-401 1 395 1-545 2 147 1 373 1-489 1 428 3-228 0 269 1-405 0 442 3-555 0 688 2 17 1-695 2 66 0 501 1 16 1-496 1 85 1 260 1 24 2-178 1-73 0 255 3-300 1 330 0-230 2 200 1-206 1 140 2-24 1-94 1 112 1-116 0 117 1-113 2 130 1-177 1 236 2-225 0 214 1-200 2 146 0-152 2-14 2 193 0-248 1 221 1 83 1-305 3 27 0 281 2-264 1 243 0-239 2 226 2-42 0-208 1 208 1-181 2 200 1-233 1 40 1 303 1-473 1 430 2 43 1-577 1 738 1-633 1 496 1-490 1 467 1-351 2 297 1-308 0 276 1-177 2-62 0 236 3 156 1-462 0-138 1 463 3 234 0-739 1 719 2-669 1 532 0-334 1 282 2-256 1 216 0-256 2 275 1-272 2 264 1-332 1 462 0-459 2-63 2 470 1-60 1-476 1 628 1-507 1 424 0-325 2-42 1 278 1 50 1-343 3 16 0 300 1-297 1 240 2 7 1-219 1 207 1-260 1 342 0-293 3-121 1 514 0-505 2 330 1-292 0 376 2-369 1 382 2-86 1-257 2-43 0 494 1-707 2 756 0-620 1 358 1 4 1-196 3 207 0-256 2-46 0 392 2 10 0-308 2 183 1-126 2 331 1-637 1 464 1-314 0 397 1-312 2-78 1 386 2-269 1 216 1-298 1 234 1-270 1 340 2-229 1 212 0-291 1 318 1-302 1 296 2-326 1 340 1-74 1-269 2-128 0 505 2-584 1 694 1-20 1-460 1 383 1-373 3 19 0 316 1-333 0 268 3 84 1-391 1 36 0 333 2-85 0-202 2 16 1 245 1 128 2-545 1 644 0-581 2 116 2 204 1-17 1-164 2 205 0-208 1 36 1 134 2 224 0-576 1 53 1 433 2-97 1-224 1 214 1-242 2-12 1 339 1-384 1 450 1-521 0 562 3-55 1-486 1 4 1 463 1-494 0 483 3-66 1-334 1 363 1-419 0 404 2-509 1 639 0-459 3-71 0 409 2-316 1 319 1-412 1 399 1 0 1-390 1 22 1 444 1-13 1-383 2 253 1-234 2 29 1 205 1-203 1 198 2-6 0-208 1 269 1-301 2 447 1-483 1 475 1-527 1 289 0-112 3 194 1-287 1-46 0 412 2 56 1-536 1 578 0-604 3 459 1-355 2 69 0 273 2-242 0 240 1-309 2 393 0-413 2 484 1-539 0 491 2-449 1 369 2-53 1-207 1-121 1 366 1-309 0 268 3-324 0 376 2-125 1-172 2 56 0 136 2-7 1-171 1-14 0 255 3-287 0 306 2-378 1 519 1-147 1-431 0 600 1-600 2 389 0-184 2-35 1 220 2-186 1 149 1-125 1 90 2-129 1 185 1 28 0-250 3 309 0-360 1 323 1-282 2 35 0 190 2-211 1 210 1-216 1 280 2-80 1-173 0 171 1-128 2-39 1 311 2-83 0-284 2 2 0 295 2 6 1-295 1-15 1 306 2-48 1-217 0 231 1-232 2 224 1-214 1 193 1-168 1 133 1-98 1 99 1-98 2 11 1 92 2-191 1 304 1 53 1-418 2 371 0-371 1 331 0-190 2-42 1 187 2 39 1-236 1 244 1-237 1 14 2 167 1 4 1-263 1-16 0 363 2 53 2-368 0 279 1-281 2 4 1 231 1-208 1 208 1-135 1 115 2-13 1-175 1 246 1-257 1 272 2-262 1 325 1-422 0 399 1-246 2-47 1 209 1-171 1 203 2-276 1 324 2 98 0-611 1 601 1-607 2 7 0 665 2-218 1-235 2-140 0 465 2 115 1-632 0 605 1-456 2-60 1 419 1-399 0 387 3-305 0 309 2-415 1 483 1-438 0 456 3-47 1-481 0 453 1-319 2 490 1-688 1 677 1-719 2 704 0-712 2 524 1-350 1-84 1 506 2-409 0 317 1-266 1 314 2 42 1-560 1 185 1 391 2-106 1-273 0 243 2-234 1 321 1-392 1 407 1-331 2 19 1 156 1-116 0 152 3 44 0-239 1 278 1-285 2-49 0 251 3 4 1-228 1 13 1 231 1-231 1 237 1-243 1 253 1-195 1 173 2-36 1-203 1 313 0-308 2 317 0-356 3 418 0-461 3 430 0-426 1 326 1-274 2 367 1-414 1 59 1 368 2 17 0-457 1 484 0-536 3 187 1 177 2-343 0 570 1-623 1 524 1-514 1 543 1-475 1 452 2-61 1-379 2 275 1-149 1-136 0 449 1-20 1-365 2-34 1 430 2 25 0-460 1 309 2-352 1 544 1-633 1 669 0-647 2 16 2 572 1-449 1 292 1-282 1 330 2-52 1-318 1 426 0-433 3 476 0-507 1 433 2-407 0 350 1-410 2-21 1 796 2-7 0-994 1 994 1-950 2 793 0-728 3 104 0 655 1-755 1 684 1-68 1-504 2-109 1 764 1-123 1-541 2 140 1 271 1-262 1 316 1-391 0 339 2 68 1-375 2 387 1-413 1 371 1-383 2 74 1 437 1 126 1-728 2-22 0 655 1-593 1 481 2-14 1-484 0 538 1-390 2 505 1-724 1 192 0 302 3 9 1-270 2 271 0-305 2-49 0 463 2-167 1-309 1 69 1 470 1-290 1-376 1 670 0-793 3 49 0 846 3-486 0 158 1-230 1 313 2 99 0-560 2 101 1 429 1-491 0 363 2 74 1-407 1 450 1-520 2 29 1 510 1 65 1-519 2 537 0-734 1 127 1 448 2-1 0-423 2-112 1 646 1 211 1-812 1 77 2 308 2 200 0-634 2 570 0-420 2 324 1-309 1 393 0-350 2 311 1-290 1-61 1 407 2-453 0 435 2 11 1-306 2-114 0 409 2-420 1 558 1-681 1 615 1-600 1 652 2-113 1-394 1 333 1-382 1-71 2 766 1-941 0 938 2-567 1 374 1-593 1 666 1-708 1 641 1 83 1-637 2 530 0-436 3 88 1 187 1 5 0-178 3-28 0 225 2-219 0 241 1-245 1 205 2-151 0 103 3 8 0-145 1 191 1-175 2 34 0 95 1-101 1 73 3 89 0-238 1 202 1-89 1-48 1 115 3-93 0 85 1-10 1-109 2 4 0 127 3-102 0 116 1-121 1 131 1-164 1 122 2 30 1-86 1-133 0 229 2 46 2-243 0 209 1-221 3 279 0-298 1 267 1-207 1 181 1-161 2 163 1-272 2-30 0 423 2 11 0-435 1 385 1-323 2 68 1 155 1-123 1 76 2 70 1-264 1-65 1 465 1-43 0-362 3 19 1 278 1-324 0 341 2 61 1-413 2 78 1 226 1-145 0 114 1-123 1 90 2 3 1-158 1 273 2-293 0 287 1-218 2 129 0-92 3-20 1 118 1-122 1 151 0-176 2 170 1-153 0 139 3-215 1 317 0-366 1 331 2-402 1 512 1-384 1 280 2-20 0-191 1 160 1-193 2 155 1-134 1 134 1-177 2-62 0 309 2 2 1-256 1 14 0 178 3-230 0 317 3 50 0-384 1 352 0-352 3 285 1-245 0 266 1-211 2-54 1 260 2-219 1 220 1 32 1-281 0 221 2-181 2 9 0 175 2-174 1 235 0-327 1 298 2-15 0-239 2 12 1 143 2-157 0 224 3-160 0 148 1-179 0 157 3-9 1-149 1 200 1-202 2-8 0 211 1-155 1 90 2 42 0-154 2 134 1-170 1 326 1-455 2 67 0 411 1-370 2 166 1 46 0-159 2 162 1-174 2 213 1-295 1 329 0-331 2 113 2 194 0-352 1 395 3-327 0 296 1-64 1-230 2 243 0-239 2 246 0-182 3 168 0-181 1 197 0-165 2 190 1-278 1 342 1-367 2-49 0 392 2-3 1-366 1 19 1 360 2 16 1-343 1 312 1-258 2 25 0 159 2 11 1-245 2 43 0 319 1-508 1 584 1-65 1-436 2 383 0-309 3-28 1 328 1 22 0-387 1 114 2 242 2 69 0-486 1 474 1-375 2 239 1-270 2 65 0 248 2-51 1-148 1-9 0 209 2-19 1-207 2 15 1 200 1-250 1 257 0-290 1 274 2 22 1-242 2 258 1-236 1 227 0-291 2-64 1 372 2-400 1 473 1-118 1-212 0 241 1-296 2 48 1 209 2-28 1-167 0 214 1-199 2-23 0 183 2 31 2-185 1 12 1 194 0-228 1 159 2-150 1 146 1-147 1 165 2-10 1-104 1-53 1 187 1-154 2 167 1-219 0 252 3-250 0 239 1 81 1-413 2-8 1 378 1 21 1-337 1 109 1 165 1-265 0 214 2 67 1-219 3 159 0-199 2 27 0 195 2-186 0 166 1-148 1 156 2-32 1-135 1 122 0-120 2-25 1 192 2-249 1 318 2-236 0 170 1-176 1 156 1-105 2 84 1-101 0 67 3 50 1-151 1-1 0 160 2 19 1-189 1 148 1-115 1 62 1-21 2-33 1 104 1-147 1 189 2-7 1-165 1 36 1 93 1-98 1 69 1 33 2-152 1 4 1 206 1-178 1 143 2-110 0 84 2 39 1-226 1-4 1 245 1-157 0 68 2-125 2 196 0-201 1 163 1 49 2-143 2-1 0 117 1-119 1 108 2 26 0-176 2 16 0 113 2 17 0-110 2-4 1 101 3 30 0-191 1 242 0-221 3-14 1 218 0-212 1 198 2-180 1 162 1-148 1 146 2 12 0-155 2 6 1 129 1-27 0-61 2-13 1 69 1-51 1 40 2 8 1-77 1 107 0-123 2 122 1-114 3-30 0 180 1-166 1 153 1-142 1 131 1-134 1 98 2 9 1-111 2 138 0-125 1 116 1-128 2 126 1-122 1-8 1 136 2-122 0 91 1-104 1 141 2-15 0-83 3-72 1 192 1-192 1 180 2-22 0-113 1 105 2-127 0 180 1-208 2 229 1-227 2 179 0-144 2 21 1 80 1-75 1 96 1 21 1-154 1-64 1 282 1-282 1 197 1 41 1-170 3-29 0 200 1-185 1 144 2-25 1-98 2-48 0 212 2-35 1-152 0 167 1-136 1 24 1 86 3 21 0-156 2 22 1 132 1-130 0 109 3-14 0-66 1 58 1-85 2-23 1 166 1-158 1 143 1-178 0 188 2-17 1-151 2 21 0 158 2-203 1 175 1-175 0 160 3 96 1-337 1 374 1-396 1 501 1-528 1 396 1-317 2 65 1 263 2 58 0-480 2 394 0-424 1 504 1-491 2 107 0 302 2-1 1-258 2 233 1-216 0 168 1-84 2 207 1-389 2 331 1-296 1 333 0-275 3 292 0-359 1 301 2-258 0 360 1-433 1-47 2 506 1-98 1-335 2 48 0 221 2 22 1-231 2 42 0 200 1-232 1 180 2 28 1-188 0 183 2-140 2-61 0 216 1-202 1 155 2 50 0-194 2 144 0-144 2 32 0 70 2 22 1-63 1-30 1 106 3-4 0-92 2-55 1 201 0-176 2 153 1-156 0 126 2-154 1 195 2-192 0 186 1-172 2 125 2-8 0-86 2 133 1-157 1-20 1 203 1-206 1 154 1-124 2 121 0-101 1 94 3 34 0-130 1 144 1-139 2-53 1 239 0-337 1 288 2 112 0-388 2-18 1 306 2 54 1-295 2 80 0 181 1-252 1 221 1-21 1-133 3-21 0 188 1-210 1 224 2-197 1 200 0-214 1 172 3-124 0 145 1-208 2 218 0-272 1 305 1 20 1-290 2 12 1 180 1-147 1 138 2 18 1-144 1 138 1-131 1 7 2 65 1-59 1 124 0-125 2 147 1-11 1-200 1 9 1 165 1-2 1-119 2 124 0-139 2 150 0-164 3 231 0-274 1 33 1 210 2 50 0-372 2-1 1 331 2 78 0-358 3 297 0-260 1 242 0-194 3-95 1 304 2-232 0 321 2-1 0-397 1 298 1-222 1 10 1 184 2-29 1-136 2 21 1 158 1-236 1 253 0-179 2 129 1-19 1-98 2 14 0 108 1-149 1 165 2 36 0-271 3 267 0-273 2 71 1 172 2-52 0-140 1 226 2-227 0 243 1-269 3 313 0-378 2 400 0-419 1 415 1-393 2 132 1 159 1-242 1 202 1-256 0 444 2-46 1-395 3 317 0-279 2-39 0 301 2-292 1 420 0-371 1 365 2-424 0 465 2-507 2 536 1-58 1-489 1 466 1-309 1 226 0-283 3-3 1 263 1-302 1 441 1-444 1 267 2 29 1-189 1-5 0 181 2 22 1-296 2-63 0 512 1-504 1 375 2 4 0-297 3 308 0-296 1 278 0-269 3 65 1 181 1-234 1 254 2-264 0 333 2-29 1-361 1 52 1 300 1-217 1 196 1-324 0 321 3-316 0 316 1-284 1 239 2-7 1-150 2-13 1 179 1-215 1 206 2 89 0-342 2 0 1 363 0-426 1 447 2-351 1 243 1-34 2-167 1-1 1 164 1-153 1 221 1-271 1 347 1-494 1 399 1-19 2-205 2-10 0 194 1 25 1-208 2-39 1 250 0-180 2 94 2-117 0 141 2 106 1-324 1 31 0 291 2-297 1 297 1 20 2-357 0 299 2-263 1 263 1-330 1 469 0-485 3-72 0 542 1-202 2-163 2 58 0 197 2-223 1 260 0-330 1 300 2-19 1-281 2 370 0-339 2-53 1 352 1-335 1 331 2-367 0 396 1-436 0 447 2-483 1 502 1 39 1-475 2 232 0-155 2 254 1-273 2 299 0-271 2 210 1-174 1 0 1 176 2-202 0 210 1-224 1 339 2-454 0 504 2-17 1-476 2 359 1-249 1-13 0 266 2 27 1-301 2 4 1 234 2-19 0-158 2 0 1 170 1-190 1 219 1-213 1 182 1-164 1 157 2 39 1-236 0 128 1 71 2 27 1-218 1 217 1-204 2 195 0-165 2-56 1 214 1-9 0-183 3 269 1-361 0 394 1-369 2 341 0-362 3 286 1-225 0 247 1-205 1 177 1-184 2-53 1 303 2-266 1 244 1-284 0 292 2-288 0 339 2-271 0 204 2-25 2-206 2 1 0 267 1-388 0 468 2-46 1-307 1-27 1 239 2-6 0-240 2 62 2 191 1-167 0 160 2-232 1 240 2 111 0-377 2 391 0-403 2 241 1-161 2-2 0 193 2 10 1-264 1 19 1 211 1-178 1 203 2-162 0 140 2-198 1 234 1-197 1 212 1-265 0 201 3-219 0 282 2-13 1-305 1 378 0-348 2 255 2-218 0 206 1-126 1-56 1 176 3 31 0-250 2-30 0 339 2-25 1-308 1 302 1-326 1 425 0-460 3 42 0 356 3-334 0 341 2-377 0 376 1-283 1 148 1 88 1-277 2-1 1 249 1-168 0 139 3-170 1 176 0-152 2 126 2 176 0-429 2 400 0-372 1 340 1-257 3-97 0 349 1-327 0 276 2-36 1-152 3-12 0 169 2 6 0-233 1 294 1-278 2 72 1 120 1-140 1 142 1-181 0 229 2 23 2-202 0 129 2-108 2-14 0 141 1-179 1 178 2-146 1 87 1-68 1 77 1-84 1 85 1-77 1 60 2-57 1 71 1-8 1-59 1 54 1-53 1 57 1-64 2 1 1 73 2-6 0-60 1 68 1-74 2 39 0-32 3-37 1 147 1-18 1-125 0 115 1-111 2 22 1 90 2 1 1-121 1-8 1 141 2-141 0 147 1-109 1 117 1-151 1 149 2-143 1 172 1-218 1 230 2-44 0-165 2 156 1-135 2-15 0 161 1-163 0 171 2-3 1-190 2-48 1 342 2-426 0 476 2-414 0 428 1-363 1 295 3-75 0-219 2 51 1 122 1-109 0 102 3-167 0 216 2-42 0-175 1 186 1-155 2 7 1 160 1-169 1 184 1-206 1 223 2-283 1 328 0-348 2 312 1 11 1-331 1 441 2-427 0 438 1-503 3 142 0 272 2 83 1-502 1-18 1 424 0-8 1-262 2 6 1 184 2-154 1 166 0-171 2 211 2 16 0-223 1-11 1 211 1 5 1-225 2 244 0-276 2 211 1-172 2 197 1-213 1-53 1 319 2-248 0 211 2 22 0-288 1 32 1 160 3-100 0 178 1-261 2 311 0-431 1 399 3-273 0 308 1-404 0 426 2 44 1-356 1-80 1 367 2-19 1-317 2-90 1 501 1-469 1 417 2-87 0-263 1 261 1-205 2 40 0 99 2 142 1-362 1-70 1 477 1-39 1-348 2 59 0 172 2-27 1-87 1 73 0-70 3 17 1 48 1-58 1 62 2 30 0-133 1-16 1 164 1-140 1 128 2-11 1-102 1 108 0-113 3 155 1-194 0 136 1-97 2 19 1 70 2 20 1-109 1-8 1 127 0-122 1 89 2 25 0-99 3 94 1-100 2-36 0 201 2 8 0-230 1 44 1 139 1-7 2-165 1 176 0-125 2-16 1 121 1-139 1 193 1-247 1 310 2-4 0-345 2 90 1 206 1-21 1-170 2-43 1 214 2-61 1-135 1 220 1-279 2-40 0 453 1-441 1 380 1-433 1 291 1-156 1 188 3-185 0 186 2 39 1-241 1 277 1-347 2 273 0-273 1 270 1-255 1 291 1-300 1 269 1-153 3-7 0 138 2-161 1 163 1-159 0 170 1-206 1 176 2-146 1 183 2-192 1 246 0-310 1 274 2-266 0 263 2 38 2-239 0 228 2-190 0 118 1-110 2 91 0-81 2-23 1 116 2-136 1 172 2 27 0-215 2 180 1-180 1 152 0-115 1 118 1-104 2 4 1 91 2-4 1-98 0 95 1-105 2-15 1 185 1-233 1 216 2-157 0 136 2-11 0-134 3-43 1 231 0-224 1 227 1-202 1 166 2-7 1-149 2 0 1 148 1-165 0 193 2-3 1-205 1 209 0-190 2-75 1 308 1-301 2 229 1 6 1-163 1 132 2-101 0 131 1-160 3 0 0 162 1-149 1 107 1-105 1 123 1-71 2 41 1-70 0 83 2-87 1 86 1 47 1-177 2 22 1 145 2-4 1-156 1 7 1 149 1-135 1 113 1-107 0 85 2 8 1-62 2 51 0-51 2 111 1-170 1-74 2 310 1-271 1 250 2-12 0-261 2-33 0 346 2-64 1-314 0 368 1-262 2-3 0 165 2 10 0-164 2 21 1 163 3 2 0-197 1 204 1-205 1 216 1-225 2 193 1-141 1 215 1-345 2 338 0-319 2 32 1 321 1-317 0 211 2-204 1 252 2-186 1 163 0-199 2 231 2-29 0-245 2 270 1-219 1 180 0-197 2 28 1 155 1-159 0 150 3 20 1-172 2 16 0 241 1-371 1 380 2-285 0 251 2-49 0-188 2 134 1-73 1-7 1 75 2 23 0-124 2-18 1 153 2-22 0-132 1 147 1-184 1 250 2-286 1 254 1-187 1 165 1-203 2 7 1 287 0-283 2 274 1-314 1 281 1-241 1 174 1 36 1-205 2-30 1 252 1-160 2 167 0-223 1 203 2-44 1-121 1 175 1-250 2 238 0-260 2 50 1 214 1-142 1 111 1-121 1 121 2-12 1-159 0 191 2-206 1-13 1 212 2 4 1-268 0 339 1-224 2 178 1-208 1 13 1 125 2 28 1-149 2-23 0 218 2 24 1-296 1 7 1 331 2-326 0 233 1-60 0-127 2 196 1-203 1 228 1-241 2 218 0-196 2 11 1 143 2 28 0-181 3-111 0 420 2-7 0-360 2 73 0 256 2 85 1-430 1 525 1-567 1-9 1 341 2-327 0 406 3-411 0 423 2-127 0-284 1 333 1-314 2 63 1 231 2-2 0-201 1 89 1 130 2-8 1-319 0 355 2-331 1 347 0-284 2-89 2 357 0-367 1 368 2-307 0 257 2 9 0-236 2 231 1-202 2-36 1 230 1-263 1 323 2-27 1-275 1 368 1-474 1 495 0-451 2-30 1 341 1-322 1 389 3-69 0-294 1 336 0-205 2 145 2-138 0 103 1-87 2 162 1-235 2-51 1 364 0-414 1 418 2-371 1 292 1-259 2 259 1-64 1-220 0-10 1 237 3 130 0-421 1 380 1-244 1-42 1 164 3-86 0 154 1-26 2-231 1 10 1 267 0-247 1 183 2 48 1-225 1 203 1-159 2 17 0 104 3-110 0 117 1-14 2-121 0 169 1-168 1 10 1 90 2 55 0-176 3 66 1 95 0-154 1 146 2-10 0-86 2-61 0 215 3-81 1-99 1 119 1-110 1 1 1 86 2-79 0 101 2-57 1 40 1-115 0 151 3-32 1-136 0 173 1-181 3 214 0-235 2 199 0-183 1 160 1-141 2 25 0 104 2 11 0-93 2 6 0 61 3-68 1 96 2 18 0-140 1-5 1 135 2 11 0-141 1 140 1-177 2 204 1-207 2 11 0 191 2-15 0-193 3 19 0 237 1-206 2 173 1 64 0-373 1 386 1-400 2-29 1 508 2 43 1-603 1 471 0-457 2 476 0-421 3-40 1 446 1-403 0 478 1-9 1-531 2-63 1 549 1-385 1 431 2-28 1-481 1 449 1-557 1 724 0-573 2-160 1 699 1-503 2 296 1-232 0 204 2 18 1-221 2 287 1-311 1 264 1-239 1 295 0-383 2 291 1-164 3-52 0 320 1-361 1 259 2 28 0-208 2 252 0-303 3 406 0-576 2 129 1 527 1-665 1 619 2-120 0-373 1 368 1-321 2 209 1-182 0 239 1-260 2-29 1 357 1-414 1 323 1-169 1 188 1-23 1-190 2 7 1 165 1-177 1 153 2-218 1 342 1-90 0-137 2-47 1 214 2-215 1 233 1-271 1 301 1-334 1 277 2-14 0-180 1 171 1-184 2 209 0-216 2-8 1 223 1-136 2 125 1-279 0 390 2-292 0 214 3-256 1 274 0-308 1 315 3-306 0 286 2-70 1-204 0 297 1-240 3-84 0 328 1-258 0 137 3-109 0 164 2 14 1-217 1-23 1 234 1-232 1 232 2-184 1 149 2-138 0 135 2 48 1-218 1 269 1-297 0-17 1 292 2-37 1-195 1 171 1-197 1 231 1-274 3 29 0 295 1-258 1 303 1-436 1 386 3-16 0-284 2 249 0-205 1 165 1-110 2 121 0-139 2 191 1-274 1 299 0-250 2-22 1 198 2-36 1-111 2-5 0 167 2 18 0-238 2 42 1 179 1-8 1-266 1 369 1-394 2 52 0 262 2-196 0 185 2 4 1-212 2 206 1-190 2 153 0-110 2-22 0 139 2-155 1 200 1-266 1 308 1-292 0 205 3 54 1-308 1 332 0-306 1 277 2-206 1 152 0-135 3 124 1-129 1 191 1-228 1 300 1-341 1 345 2-266 0 183 1-179 3 105 0-121 1 208 0-259 3 337 1-411 0 376 1-220 2-60 0 219 2-172 1 120 1-113 1 120 2 19 1-150 1 279 1-343 2-85 0 449 2-147 0-158 2 124 0-97 3 9 1 126 1-157 0 172 2-170 1 143 2-132 0 137 2-209 1 272 0-221 1 227 2-268 0 225 2-3 1-189 2 195 0-208 2 172 1-183 1 280 1-313 1 288 1-304 3 16 0 289 1-240 1 253 2-30 0-245 2 51 1 137 1-109 1 123 2 19 1-223 0-27 1 206 1 81 1-271 2 236 0-165 2-35 1 143 2 54 0-185 2 173 1-134 2 134 1-175 1 24 1 133 2-140 0 129 1-115 1 107 1-123 2 156 0-153 1 164 2-200 0 154 2-105 1 86 2-61 1 57 2-7 0-78 1 130 0-137 3 114 0-166 1 188 1-170 2 26 0 114 2-117 1 147 2-157 1 195 1-266 1 297 2-282 0 287 2-261 1 223 1-195 0 215 2 40 1-311 1-16 0 333 3-341 0 322 2 19 1-334 1 284 1-334 1 347 1-321 2 247 0-133 2 146 1-137 1 180 1-260 1 267 1-208 1 130 1-102 2-2 1 108 2-158 1 231 0-265 1 257 2 30 1-262 2 164 0-102 2 191 1-300 1 319 1-288 1 281 0-260 3 34 0 128 2 6 1-121 1 113 1-95 2 85 0-70 1 55 1-50 2-19 1 95 1-114 1 177 2-25 1-235 2 75 0 195 2-257 0 257 2-215 0 234 2-24 1-184 1-46 1 222 1 27 1-250 1 258 1-283 1 19 2 235 1-203 1 196 1-237 1 253 1 45 1-283 2 234 0-256 3 69 1 148 1-162 1 162 2 82 0-383 2-33 0 416 1 43 1-470 1 456 1-325 2 26 1 259 1-289 1 299 2-33 1-333 1 388 1-455 1 589 0-534 3-25 1 479 1-49 0-403 2 371 1-338 1 20 2 302 0-271 1 303 3-22 0-453 2-28 0 655 1-626 1 485 1 16 1-407 2 478 1-446 2 443 1-475 1-64 1 558 1-638 1 571 1-480 1 401 1-348 1 295 2 93 1-303 2 326 0-416 1 372 1-230 2 226 0-324 3 253 0-223 1 247 1-252 1 304 1-316 1 362 2-321" stroke="#7e2f8e" stroke-width="6.0" fill="none" stroke-linejoin="round"/></g>
<path d="M186.62 782.2v-5.2M186.62 619.5v5.2M243.84 782.2v-5.2M243.84 619.5v5.2M301.07 782.2v-5.2M301.07 619.5v5.2M358.29 782.2v-5.2M358.29 619.5v5.2M415.51 782.2v-5.2M415.51 619.5v5.2M472.73 782.2v-5.2M472.73 619.5v5.2M529.96 782.2v-5.2M529.96 619.5v5.2M587.18 782.2v-5.2M587.18 619.5v5.2M129.4 755.08h5.2M644.4 755.08h-5.2M129.4 727.97h5.2M644.4 727.97h-5.2M129.4 700.85h5.2M644.4 700.85h-5.2M129.4 673.73h5.2M644.4 673.73h-5.2M129.4 646.62h5.2M644.4 646.62h-5.2" stroke="#262626" stroke-width="0.95" fill="none"/>
<rect x="129.4" y="619.5" width="515" height="162.7" fill="none" stroke="#262626" stroke-width="0.9"/>
<g fill="#262626"><text transform="translate(129.4 796.1) scale(1.1 1)" font-size="10.1" text-anchor="middle">0</text><text transform="translate(186.62 796.1) scale(1.1 1)" font-size="10.1" text-anchor="middle">1000</text><text transform="translate(243.84 796.1) scale(1.1 1)" font-size="10.1" text-anchor="middle">2000</text><text transform="translate(301.07 796.1) scale(1.1 1)" font-size="10.1" text-anchor="middle">3000</text><text transform="translate(358.29 796.1) scale(1.1 1)" font-size="10.1" text-anchor="middle">4000</text><text transform="translate(415.51 796.1) scale(1.1 1)" font-size="10.1" text-anchor="middle">5000</text><text transform="translate(472.73 796.1) scale(1.1 1)" font-size="10.1" text-anchor="middle">6000</text><text transform="translate(529.96 796.1) scale(1.1 1)" font-size="10.1" text-anchor="middle">7000</text><text transform="translate(587.18 796.1) scale(1.1 1)" font-size="10.1" text-anchor="middle">8000</text><text transform="translate(644.4 796.1) scale(1.1 1)" font-size="10.1" text-anchor="middle">9000</text><text transform="translate(124.3 786.74) scale(1.1 1)" font-size="10.1" text-anchor="end">-0.3</text><text transform="translate(124.3 759.62) scale(1.1 1)" font-size="10.1" text-anchor="end">-0.2</text><text transform="translate(124.3 732.5) scale(1.1 1)" font-size="10.1" text-anchor="end">-0.1</text><text transform="translate(124.3 705.39) scale(1.1 1)" font-size="10.1" text-anchor="end">0</text><text transform="translate(124.3 678.27) scale(1.1 1)" font-size="10.1" text-anchor="end">0.1</text><text transform="translate(124.3 651.15) scale(1.1 1)" font-size="10.1" text-anchor="end">0.2</text><text transform="translate(124.3 624.04) scale(1.1 1)" font-size="10.1" text-anchor="end">0.3</text></g>
<text transform="translate(386.9 808.8) scale(1.15 1)" font-size="10.3" text-anchor="middle" fill="#262626">Samples</text>
<text transform="translate(99.3 700.85) scale(1.15 1) rotate(-90)" font-size="10.3" text-anchor="middle" fill="#262626">Amplitude</text>
<rect x="524.5" y="627.2" width="111.1" height="14" fill="#fff" stroke="#262626" stroke-width="0.8"/>
<path d="M527.8 634.3H560.7" stroke="#7e2f8e" stroke-width="0.8"/>
<text transform="translate(563.9 637.4) scale(1.15 1)" font-size="8.6" fill="#000">Gamma rhythm</text>
<text transform="translate(32.6 710.75) rotate(-90)" font-size="22.5" text-anchor="middle" fill="#000" font-family='"Liberation Serif", serif'>(d)</text>
<path d="M181.17 821.8V986.6M239.93 821.8V986.6M298.7 821.8V986.6M357.47 821.8V986.6M416.23 821.8V986.6M475 821.8V986.6M533.77 821.8V986.6M592.53 821.8V986.6M122.4 959.13H651.3M122.4 931.67H651.3M122.4 904.2H651.3M122.4 876.73H651.3M122.4 849.27H651.3" stroke="#e3e3e3" stroke-width="0.8" fill="none"/>
<clipPath id="clipe"><rect x="122.4" y="821.8" width="528.9" height="164.8"/></clipPath>
<g clip-path="url(#clipe)"><path transform="scale(.1)" d="M1224 9042l2 0 3 0 2 0 2 0 3 0 2 0 2 0 3 0 2 0 3 0 2 0 2 0 3 0 2 0 2 0 3 0 2 0 2 0 3 0 2 0 2 0 3 0 2 0 2 0 3 0 2 0 2 0 3 0 2 0 3 0 2 0 2 0 3 0 2 0 2 0 3 0 2 0 2 0 3 0 2 0 2 0 3 0 2 0 2 0 3 0 3 0 1-3 0-8 2-39 1 2 2 32 0 12 2 42 1 14 1 13 1-31 2-92 0-22 1-16 2 29 1 76 1 17 2 16 0 1 2 6 1 0 1-25 1-15 2-45 1-13 1 22 1 26 1 67 1-16 2-87 1-13 1 19 1 18 2 67 1 21 1-29 0-23 2-45 1-6 2-6 0 2 2 24 0 12 2 43 1 13 1 11 1-18 2-47 1-13 1-24 1-5 2 14 0 18 2 55 1 2 1-20 1 33 1 69 1-89 1-78 2 20 1 48 2 12 1-13 0-13 2-39 1-7 1-47 2-56 1 69 0 46 2 44 1-1 2-32 0-16 2-19 0 6 2 40 1 19 2-21 0-17 2-22 1 5 1 34 1 17 2 47 0-3 2-67 1-16 1-15 1 0 2 11 0 10 2 46 1 14 1 12 1-15 2-43 0-14 2-32 1-5 1 9 1 7 2 42 0 15 2 22 1-3 1-31 1-17 2-68 1-25 1 31 1 35 2 116 0 16 2-67 0-58 2-110 1 38 2 165 1 22 1-35 1-29 1-106 1-26 2 35 0 32 2 87 1 15 1-16 1-17 2-69 0-27 2-44 1 8 1 54 1 23 2 96 0 34 2 42 1-15 1-128 1-46 1-43 1 12 2 57 1 35 1 110 1-7 2-122 0-31 2-44 1-1 2 78 0 44 1 50 1-15 2-66 1-31 2-103 1-12 1-34 1-101 1 146 1 104 2 138 0 17 2-111 1-78 1-135 1 25 2 120 0 38 2 113 1 31 1-74 1-69 2-172 0 1 2 191 1 97 1-72 1-60 2-120 0 4 2 128 1 58 2 97 0-28 2-350 0-47 2 91 1 3 2 143 0 30 2 43 1 14 1-25 1-24 1-30 1 14 2-225 1-9 1 585 1 72 2-433 1-117 1 95 1 58 1 83 1-7 2-71 0-30 2-74 1-11 1 63 1 57 2 156 0 2 2-155 1-56 1-82 1 4 2 103 0 45 2 52 1-24 2-144 0-25 2 65 0 31 2 37 1 1 2 6 0 4 2-19 1-13 1-48 1-23 2 12 0 14 2 48 1 17 1 68 1 13 2-108 0-45 2-70 1 9 1 42 1 19 2 59 0 22 2 58 1 3 1-78 1-41 2-89 0 6 2 98 1 21 1 14 1-8 2-55 0-32 2-37 1 50 2 101 1 19 1-16 0-24 2-102 1-23 2 35 0 36 2 126 1 16 1-159 1-76 2 39 0 51 2 171 1 20 1-95 1-48 2-104 1-22 1 30 1 19 1 20 1 1 2 24 0 17 2 121 1 87 1-79 1-38 2-37 0-19 2-47 1-10 1-24 2-12 1 20 0 31 2 82 1 1 2-41 0-23 2-72 0-23 2-23 1 20 2 63 1 7 1 14 1 19 1 104 1 52 2-71 0-66 2-126 1-5 1 29 1 27 2 152 0 29 2-76 1-48 1-111 2-41 1 37 0 45 2 113 1 15 0 4 2-6 2-35 0-29 2-118 1-19 2 42 0 24 2 88 0 33 2 72 1-14 2-165 0-55 1-58 1 32 2 168 1 93 2-51 0-64 2-112 1 8 1 101 1 44 1 52 1-25 2-112 1-29 1-20 1 16 2 31 0 4 2 1 1 6 1 45 1 21 2 47 0-7 2-116 1-35 1-30 1 11 2 63 0 49 2 107 1-13 2-110 0-36 2-71 0-5 2 62 1 33 2 77 0 5 2-60 1-34 1-81 1-15 2 81 0-13 2-119 1 10 1 116 1 42 2 94 0 10 2-62 1-49 1-120 1-5 2 63 0 30 2 72 1 16 1 17 1-24 2-112 1-37 1 19 1 19 1 77 1 23 1 22 1-20 2-118 1-67 2 80 0 70 2 192 0 27 2-195 1-73 1-55 1 23 2 91 1 58 1-66 1-65 1-43 1 43 2 109 1 26 1-25 1-21 2-69 0-20 1-19 2 19 1 49 1 15 2 30 0 2 2-8 1-4 1-34 1-20 2-51 0-3 2 27 1 19 1 91 1 36 1 30 1-48 2-92 2-24 1 15 0 11 2-45 0-30 2-25 1 35 2 84 0 24 2 43 1-3 1-71 1-28 2-34 0 4 2 50 1 28 1 58 1-12 2-156 0-30 2 125 1 60 1 57 1-11 2-118 0-63 2-119 1-6 1 99 1 47 2 91 1 15 1-6 1-8 2-49 0-26 2-69 0 2 2 89 1 46 2 98 0 3 2-152 0-62 1-31 2 53 2 55 0 13 2 236 1 215 1-281 1-284 1-425 1 240 2 283 1 18 1 49 2 12 1-38 1-82 1 78 1 170 1-138 1-32 2 148 0 9 2-162 1-87 1-154 1 14 2 202 0 71 2 84 1-15 2-155 0-63 2-83 0 18 2 99 1 27 2 28 0 7 2 85 1 50 1-37 1-44 2-145 0-34 1-34 2 58 1 229 1 38 2-217 0-113 1-67 2 131 1 213 1-7 2-94 0-28 2-69 1-21 1 29 1 35 2 197 0 29 2-85 1-70 1-141 1 8 2 71 0-16 2-61 1-1 2 59 0 28 2 85 0 1 2-269 1-42 2 234 1 232 1-130 1-53 1 30 1-19 2-136 0 11 2 141 1 18 1-62 1-47 2-100 0 1 2 84 1 41 1 46 1-12 2-51 0-16 2-38 1-6 1 52 1 46 2 136 0-13 2-157 1-6 1 66 1-5 2-65 0-36 2-52 1 13 2 78 0 25 2 43 0-7 2-62 1-23 2-46 0-1 2 72 1 41 1 69 1-10 2-129 1-67 1 100 1 5 1-210 1 34 1 88 1-13 2 59 1 28 1 42 1 2 2-18 0-18 2-102 1-41 1 80 1 51 2 71 0 1 2-57 1-37 1-68 1 44 2 153 0 8 2-87 1-35 2-64 0 1 2 65 1 33 1 59 1-7 2-70 0-27 2-47 1 13 1 150 1 12 2-119 0-38 1-36 2 19 1 110 1 50 1 64 1-28 2-148 1-44 1-66 1 11 2 100 0 27 2 37 1 4 1 10 1 2 2-20 0-24 2-154 1-81 2 66 0 73 2 250 0 34 2-157 1-49 2-65 0 4 2 76 1 34 1 43 1-16 2-118 0-56 1-81 2 41 1 190 1 54 2 115 0-22 2-223 1-49 0-17 2 34 2 75 0 42 2 119 1-14 1-199 1-60 1-42 1 56 2 125 1 22 1-22 1-19 2-68 0-18 2-16 1 34 2 96 0 30 1 29 1-30 2-117 1-41 1-39 1 19 2 98 1 35 1 67 1 5 2-74 0-30 2 247 1 51 1-446 1-157 2 195 1 19 1 14 1 35 1 151 1 19 2-61 0-33 2-62 1-9 1 5 1 10 2 52 0-8 2-116 1-11 1 58 1 35 2 84 0 10 2-28 1-25 2-112 1-48 1 23 0 31 2 113 1 28 1 20 1-28 2-66 1-14 1-15 1 3 2 31 0 14 2 40 1 3 1-66 1-42 1-53 1 49 2 88 1-1 1-21 1-8 2-52 1-36 1 48 1 41 1 43 1-3 2-31 0-17 2-37 1 2 2 40 0 17 2 23 0-9 2-63 1-20 2 20 0 18 2 45 1 10 1 8 1-17 2-101 0-39 1-28 2 48 1 132 1 36 1 36 1-29 2-156 2-66 0 25 1 45 2 116 0 23 1 14 2-39 1-83 2-15 1 11 0 11 2 53 1 35 1-49 2-71 1 46 0 40 2 35 1 1 2 74 0-25 2-211 0-22 2 92 1 38 2 44 0 0 2-23 1-23 1-115 1-27 2 50 0 42 1 86 2-41 1-51 1 34 2 49 0 14 1 18 2-21 1-152 2-86 1 41 0 63 2 144 1 22 1-8 1-19 2-118 1-45 1 39 1 37 1 81 1 7 2-32 0-25 2-73 1 4 2 189 1 87 1-86 0-78 2-208 1-17 2 101 0 64 2 122 1 4 1-52 1-29 2-69 1-11 1 17 1 14 1 59 1 20 1 22 1-12 2-45 1-13 1-15 1-7 2-32 0-5 2 14 1 10 1 35 1 12 2 31 0 5 2-20 1-13 1-33 1-8 2-21 0-3 2 16 1 12 2 40 0 12 1 18 1-21 2-27 1 11 2 40 0-3 2-40 1-17 1-42 1-6 2 22 0 19 2 55 1 16 1-14 1-17 2-54 0-11 1-6 2 12 1 44 1 18 2 30 0-6 2-55 1-22 1-58 1-4 2 65 0 24 2 30 1 4 2-11 0-18 2-95 0-17 2 51 1 33 2 60 0 0 2-43 1-16 1-13 1 12 2 61 0 28 1 33 2-29 1-96 1-24 2-35 0 1 2 38 1 21 1 64 2 16 1-15 0-13 2-35 1-12 1-27 1 1 2 30 0 13 2 40 1 15 1-30 1-32 1-56 1 68 2 65 1-13 2-67 0-18 2-38 0 3 2 62 1 28 2 83 0 16 2-128 1-92 1-96 1 57 2 187 0 61 1 74 2-91 1-312 2-61 1 101 0 91 2 278 1 34 1-108 1-55 2-107 0-23 1-27 2 15 1 79 1 32 2 65 0-1 2-73 1-33 1-64 1-8 2 39 0 39 2 172 1 40 2-167 0-112 1-123 1 36 2 146 1 44 2 87 0-2 2-91 1-38 1-81 1-10 0-3 2 6 2-16 1 4 1 104 1 69 2 117 0-15 2-90 1-43 1-201 1-67 2 130 1 48 1-13 1 81 1 404 1-76 2-327 0 37 2 143 1 1 2-88 0-37 2-92 0-31 2-113 1-16 2 101 0 47 2 111 0 24 2 16 1-43 2-94 1-30 1 149 1 187 1-180 1-100 2-67 0 7 2 87 1 44 1 84 1-9 2-103 0-41 2-97 1-10 1 31 1 19 2 48 0 3 2-13 1 11 1 97 1 40 1 26 1-42 2 127 1-44 2-244 0-14 2 10 1 16 1-50 1-112 1-206 1 232 2 250 1-10 1-69 1-21 2-52 0-14 1-9 2 19 1 80 1 22 2 42 0 15 2 51 1 9 1-45 1-35 2-91 0-24 2-62 1-12 1 56 1 40 2 104 0 27 2 30 1-41 1-184 1-57 1-32 1 69 2 159 1 47 2-17 0-24 2-92 0-27 2-34 1 14 2 126 0 53 2 113 1-6 1-187 1-59 1-49 1 11 2 43 1 18 1 71 2 27 1-12 0-19 2-66 1-24 1-58 1 3 2 109 0 56 1 60 2-57 1-76 1-4 1 3 1-10 2-49 1-12 1 97 1 45 2 84 0-4 2-157 1-79 1-80 1 40 2 122 0 36 2 76 1 7 2-88 0-66 1-100 2 124 1 121 1-51 2-137 1-74 1 132 1 140 1 176 1-123 2-97 0-14 2-102 1-33 1-18 1 44 2 104 0-2 2-111 1-28 1 103 1 106 1 127 1-81 2-128 1-28 2-58 1-17 1 15 0 29 2 123 1 14 2-61 0-49 2-131 0 3 2 134 1 53 2 101 0-11 2-166 1-44 1-29 1 16 2 68 0 35 2 96 1 2 1-159 2-92 1 36 0 49 2 158 1 27 1-51 1-51 2-147 1-31 1 26 1 24 1 66 1 19 2 54 1 20 1-14 1-20 2-92 0-38 2-74 0 24 2 260 1 124 2-169 0-140 1-127 2 58 1 192 1 68 2-27 0-31 2-70 1-13 1-29 1-8 1-9 1 15 2 69 1 34 1 128 1 18 2-134 0-60 2-95 1-18 1 14 1 23 2 145 0 54 2 69 1-21 1-159 1-59 2-157 0-33 2-22 1 28 2 156 0 75 2 194 1 37 1-96 1-85 2-229 0-4 2 126 1 59 1 112 1-31 2-193 0-39 2-171 1 52 1 324 1 11 2-81 0-38 2-112 1 1 1 262 2 131 1-53 0-87 2-226 1 1 1 76 1 38 2 161 0 36 2-157 1-77 1-79 1 126 2 171 0-52 2-258 1-17 2 89 0 36 2 91 1 27 1-26 1-31 2-96 1-25 1 36 1 40 1 104 1-58 2-138 0 11 2 97 1 47 1-69 1-127 1-210 1 186 1 90 2-75 1 44 1 37 2 104 0 21 2 27 1-2 1-52 1-47 2-191 0-30 2 143 1 95 2 157 0 1 2-95 0-63 2-231 1-14 2 341 1 170 1-180 0-73 2-55 1 5 2 45 0 28 2 61 1-7 1-132 1-75 1-97 1 77 2 345 1 68 1-176 1-98 2-91 0 11 2 86 1 42 1 102 1-6 2-182 0-59 2-45 1 49 1 161 1 51 1 31 1-64 2-168 1-67 1-88 1 80 2 293 0 67 2 31 1-63 2-163 0-47 2-85 1-9 1 24 1 21 2 108 0 48 2 117 1 5 1-122 1-54 2-92 0-5 2 33 1 23 1 106 1 43 2 67 0-29 2-213 1-63 1 72 1 17 2-63 0-37 2-51 1 65 1 191 1 31 1 20 1-30 2-177 1-89 2 34 0 56 2 252 0 59 2-215 1-124 1-69 1 98 2 176 1 82 1-42 1-71 2-177 0-8 2 66 1 35 1 90 2 22 1-39 0-59 1-128 2 151 1 130 1-68 2-122 0-33 2-37 1 26 1 128 1 37 1 33 1-15 2-90 1-44 1-111 1-5 2 45 0 19 2 72 1 30 2 99 0 27 1 23 1-59 2-212 1-59 2-73 0 30 2 233 1 73 1 66 1-8 2 10 0 28 2 76 1-38 1-272 1-79 1-38 1 42 2 106 1 48 1 136 1 13 2-154 0-84 2-115 1 35 1 205 2 72 1-62 0-75 2-199 1-19 2 152 0 147 2 490 0-82 2-395 1-3 2-156 0-251 1-399 1 332 2 185 1-7 2 152 0 59 2 95 1 5 1-48 1-33 2-116 0-33 1-33 2 32 1 118 1 5 2-110 0 32 2 157 1 55 1 90 1-26 2-191 0-57 2-64 1 4 1 54 1 28 2 66 0 10 2 79 1 128 1 230 1-300 2-589 0-64 2 408 1 130 1 96 1-18 2 209 1 74 1-559 1-95 2 172 0 70 2 118 1 13 1-67 1-43 2-156 0-47 1-29 2 52 1 157 1 53 2 136 0 5 2-146 1-55 1-128 1-41 2-91 0 2 2 166 1 213 1 321 1-415 1-230 1 321 2 121 1-18 2-229 0-129 1-155 1 45 2 174 1 55 2 162 0 46 1 39 2-106 1-279 1-78 2-149 0-15 1 43 2-22 1 140 1 92 2 203 0 58 2 156 1 11 1-123 1-53 2-116 0-37 2-130 1-40 1 62 1 60 2 176 0 42 2 46 1-36 1-213 1-65 1-32 1 45 2 136 1 55 2 80 0-20 2-148 0-59 2-117 1 15 2 189 0 95 2 217 1-16 1-325 1-115 1-116 1 64 2 267 1 48 1-194 1-69 1-57 1 98 2 254 1 41 1-75 1-58 2-190 1-74 1 42 1 51 1 146 1 24 1 21 1-8 2-49 1-13 2-22 0-26 2-141 1-40 1 61 1 51 2 157 0 50 2 93 0-18 2-218 1-75 2-82 0 21 2 205 1 150 1 218 1-284 2-604 0 68 2 605 1 42 1-227 1-185 1-233 1 88 2 42 1 77 1 332 1 67 1 57 1-48 2-169 1-58 1-195 1-57 1-41 1 73 2 147 1 44 2 108 0 22 1 16 1-9 2-52 1-32 2-125 1-50 1 27 1 69 1 450 1 56 2-223 0-72 2-248 1-72 1 157 1 110 1 121 1-42 2-249 1-85 1-84 1 56 2 191 0 61 2 112 1 30 1-32 1-46 2-142 0-30 2-51 1-11 1-28 1 2 2 74 0 37 2 94 1 23 1 24 1-12 2-101 0-34 2-44 1-2 2 50 0 43 2 114 1 5 1-69 1-35 2-86 0-5 2 62 1 52 1-36 1-24 2-74 0-9 2 90 1 50 1 51 1-14 2-56 0-19 2-47 1-12 1 16 1 2 2-8 0 0 2 18 1 13 1 58 1 19 1 15 1-27 2-60 1-16 2-36 1-10 1 38 0 39 2 100 1 1 2-57 0-23 2-61 1-15 1-18 1 21 2 115 1 45 1-47 1-44 1-98 1-4 2 71 0 44 2 72 1-17 1-90 1-21 2-27 0 0 2 40 1 43 1-23 2-40 1 25 0 25 2 49 1-9 2-49 0-12 2-19 2-7 0 4 1 6 1 8 2-7 1 9 0 10 2 67 1 33 2-35 0-35 2-83 1-15 1 7 1 9 2-22 1-16 1 26 1 26 1 102 2 27 1-16 0-19 2-111 1-52 1-83 1 32 2 200 0 70 2 100 1-40 1-179 1 43 2 377 0-77 2-314 1 86 2-148 0-195 1-269 1 237 2 295 1 65 2 95 0-25 2-136 1-42 1-116 1-52 2 40 0 55 2 204 1 61 1-31 1-46 2-191 0-51 1-32 2 86 1 173 2 44 1-32 0-57 2-263 1-37 1 157 1 100 2 260 0 13 2-226 1-70 1-77 1 5 2 86 0 45 2 57 1-199 1-233 1 135 2 112 0 31 2 96 1 30 2 68 0 2 2-127 1-81 1-105 1 26 2 98 0 27 2 60 1 14 1-8 1-8 2-51 0-27 2-62 1 10 1 127 1 60 1 96 1-123 2-227 1 81 1 157 1 31 1 23 1-63 2-112 1-6 1 16 1 10 2 65 0 28 2 31 1-25 2-161 1-156 1 111 0 183 2 212 1-199 2-202 0 1 2 90 1 49 1 117 1 0 2-95 0-77 2-285 1 48 1 265 1 47 2 121 0 6 2-223 1-140 1 90 1 97 2 205 0 6 2-166 1-85 1-109 1 35 2 194 0 60 2 47 1-95 2-200 0-9 2 135 0 52 2 67 1-9 2-122 0-54 2-81 0 18 2 144 1-104 1-109 1 52 2 169 1 34 1 48 1-2 2-88 0-46 2-65 1 5 1 82 1 43 2 66 0-8 2-53 1-20 1-86 1-32 2-41 0 18 2 137 1 58 1 129 1 5 2-136 0-61 2-98 1-6 2 76 0 52 2 82 0-16 2-95 1-40 2-100 0 19 2 236 1 79 1-64 1-63 2-200 1-51 1 85 1 72 1 151 1 5 2-67 0-30 2-112 1-45 1-52 1 64 2 161 0 19 2 9 1 1 1-12 1-15 2-70 0-24 2-50 1-5 1 60 1 34 2 84 2 30 0-17 1-41 2-163 0-3 2 103 0 50 2 131 1-18 2-280 0-58 2 98 1 52 1 100 1 9 2-27 0-23 2-83 1-22 1 50 1 47 2 100 0-10 2-92 1-22 1-26 1-1 2 40 0 32 2 43 1-10 1-38 1-13 2-65 0-28 2-37 1 5 1 53 1 35 2 119 0 28 2 26 1-36 2-210 0-67 1-44 1 91 2 195 1 36 2-296 0 10 2 159 1 47 1 45 1-7 2-55 0-22 2-78 1-30 1 57 1 57 2 101 0-5 2-55 1-20 1-30 2 86 1-45 0-34 2-81 1-7 1 50 1 32 2 80 1 16 1-37 1-32 2-78 0-6 2 36 0 18 2 41 1 7 2-38 0-2 2 87 1 37 1-25 1-34 2-138 0-42 1-41 2 50 1 138 1 31 2 44 0-6 2-67 1-32 1-71 2-10 1 11 0 14 2 78 1 36 1 108 1 7 2-91 0-48 2-110 1-26 1 21 1 24 2 89 0 41 2 146 1-33 2-234 0-83 1-87 1 61 2 242 1 49 2-36 0-31 2-91 1-21 1-17 1 11 2 59 0 31 2 53 1-4 1-54 1-31 2-115 0-22 2 58 1 39 1 91 1 22 2 40 0-11 2-198 2-115 0 47 1 60 2 180 0 60 2 73 1-151 1-229 1 49 2 172 0 16 2-95 1-43 1-29 1 42 2 107 0 26 2 22 1-26 2-106 0-38 1-44 2 20 1 80 1 36 2 149 1 56 1-48 1-49 1-197 2-83 1 26 0 29 2 90 1 22 1 43 1 3 2-39 0-23 2-43 1 2 1 31 1 15 2 45 0 4 2-29 1-22 1-73 2-20 1 34 0 28 2 72 1 16 1 12 1-12 2-56 0-28 2-76 1-9 2 51 0 31 1 29 2-79 1 41 1 29 2 63 1 13 1-10 1-18 1-134 2-80 1 29 0 53 2 192 1 61 1-51 1-54 2-146 0-11 2 140 1 77 1-45 1-44 2-130 1-34 1 71 1 60 2 132 0 7 2-98 0-59 2-75 1 88 2 146 0-3 2-234 1-115 1 82 1 59 2 127 0 33 2 61 1-20 1-250 1-99 2 77 0 89 2 180 1 9 1-179 1-77 1-75 1 85 2 242 1 42 1-69 1-75 2-241 0 31 2 77 1-14 1 83 1 44 2 113 0 11 2-77 1-48 2-110 0-4 2 79 0 40 2 67 1-1 2-61 0-29 2-55 1 4 1 74 1 34 2 80 0-16 2-176 1-37 1 56 1 35 2 77 0 7 2-55 1-37 1-66 1 14 2 98 0 9 2-32 1-13 1 26 1 24 1 34 1-31 2-142 1-6 1 118 1 31 1 21 1-19 2-98 1-28 2 40 0 31 2 73 1 13 1-52 1-51 1-60 1 167 1 150 2-94 1-98 1-23 2-64 0-9 2 36 1 32 1 79 1 2 2-63 0-36 2-87 1 2 1 106 2 63 1-82 0-36 2-25 1 32 1 90 1 19 1 11 1-29 2-112 1-42 1-36 2 51 1-109 0-44 2 278 1 41 2-62 0-26 2-94 2-62 0 41 1 80 2 234 0 40 2-142 1-51 1-109 1-32 2 21 0 33 2 127 1 26 1-193 2-184 1 140 0 65 1 21 2-12 1 28 1 19 2 77 0 22 2 14 1-38 1-111 1-36 1-35 1 25 2 140 1 67 2 107 0-29 2-248 0-82 2 219 1 95 2-140 0-70 2-145 1 5 1 153 1 46 2 94 1 19 1-84 1-85 1-189 1 9 2 148 0 74 2 167 1-2 1-115 1-40 2-81 1-20 1 11 1 20 1 115 1 33 1 19 1-48 2-123 1-42 1-41 1 101 2 150 0-24 2-111 1-29 2-46 0 22 2 230 1 72 1-83 1-71 2-169 1-22 1 44 1 34 1 77 1 11 2-10 0-9 2-40 1-20 1-61 1-14 2-30 0 1 2 82 1 52 1 126 1 23 1 22 1-50 2-244 1-109 1 52 1 54 2 170 0 59 2 102 1-23 1-198 1-64 2-88 0 26 2 179 1 38 2-44 0-29 2-44 0 6 2 54 1 19 2 27 0-12 2-127 1-78 1 45 1 61 2 206 0 32 2-130 1-74 1-116 1 0 2 93 0 74 2 202 1 2 1-164 1-66 2-126 1-19 1 28 1 26 1 118 1 51 2 103 0 0 2-81 1-46 2-130 0-29 1-32 1 12 2 73 1 23 2-34 0 6 2 98 0 43 2 70 1-23 2-143 0-43 2-84 1-12 1 144 1 101 1 109 1-94 2-194 1-30 1 71 1 66 2 151 0-13 2-179 1-53 1-67 1 9 2 133 0 67 2 129 1-18 1-205 1-77 1-78 1 51 2 127 1 32 2 66 0-1 2-174 0-109 2-131 1 111 2 217 0 49 2 195 1 38 1-262 1-83 2-76 0 24 2 178 1 54 1-72 1-63 2-146 0-6 2 140 1 63 1 135 1 6 2-216 0-70 2 290 1 70 1-188 1-11 2-84 0-32 2-25 1 41 1 98 2 18 1-28 0-30 2-122 1-18 2 58 0 32 2 72 0 18 2 24 1-26 2-170 1-44 1 38 1 21 1 36 1 11 2 37 0 13 2 39 1 14 1-24 1-29 2-82 0-9 2 36 1 28 1 86 2 27 1-15 0-27 2-137 1-79 1-111 1 96 1 43 1-11 2 103 1 44 1 114 1 15 2-77 0-56 2-124 1 3 2 121 0 44 1 42 1-18 2-83 1-27 2-54 0 5 2 147 1 65 1 43 1-56 2-71 1-11 0 4 2-15 1-86 1-22 1-15 1 26 2 103 1 26 1 21 1-4 2-43 0-28 2-70 1-2 1 32 1 21 2 55 0-30 2-169 1 29 2 261 1 81 1-51 2-99 0 53 1 144 2-207 1-174 1 96 0 66 2 99 1 18 2-21 0-45 2-216 1-55 0-34 2 52 1 31 1 3 2 66 1 39 1 89 1 14 1 13 1-17 2-123 1-47 1-29 1 72 2 192 0 37 2-92 1-66 1-151 1 2 2 110 0 42 2 73 1-2 2-51 0-23 2-54 1-16 1 17 1 28 2 107 1 41 1-46 1-74 1-182 1 78 2 235 0 11 2-84 1-42 1-76 1-9 1-6 1 16 2 76 1 40 1 91 1 4 2-18 0-3 2-43 1-84 1-352 1 54 2 216 2-9 0 10 1 26 1 173 2 67 1-48 0-47 2-132 1-44 2-102 0 4 2 127 0 61 2 142 1 13 2-62 0-28 2-62 1-21 1-97 1-48 2 18 0 38 2 228 1 93 1-95 1-67 2-124 1-21 1 26 1 31 1 127 2 29 1-66 0-69 2-144 1-3 1 94 1 66 2 187 0 14 2-152 1-67 1-124 1-5 2 70 0 37 2 98 1 19 2-20 0-18 2-64 0-23 2-47 1-1 2 70 0 43 2 83 1-3 1-91 1-44 2-112 0 2 2 145 1-14 1-330 1 69 1 204 1-105 1-78 2 65 1 121 1 35 2 101 0 29 2 19 1-36 1-106 1-44 2-115 0 4 2 137 1 43 2 64 1 9 1-19 0-26 2-132 1-41 1-45 1 44 2 137 0-20 2-266 1 57 2 292 0 17 2-13 1-12 1-59 1-23 2-75 0-24 2-44 1 3 1 62 1 34 2 124 0 64 2 224 1-46 1-268 1-33 2-43 0-8 2-172 1-40 1 252 1 63 1 25 1-23 2 177 1 50 2-324 0-49 2 135 0 60 2 105 1-17 2-220 0-71 1-53 2 30 1 108 1 42 2-22 1-15 1 18 1 18 1 83 1 58 2-44 0-58 2-150 1-21 1-15 1 23 2 141 0 48 1 45 2-26 1-91 1-29 2-82 1-23 1 45 1 49 1 167 2 52 1-25 2-101 0 71 1 21 2-50 0-29 2-120 0-53 2-128 1 2 2 173 0 74 2 177 1 17 1-78 1-45 2-118 0-32 2-69 1 3 1 68 1 30 2 65 0 12 1 7 2-20 1-149 2-94 1 126 0 124 2 116 1-89 1-165 2-26 1 35 0 39 2 135 1 21 1-48 1-39 2-163 1-61 1 186 1 217 2-123 0-81 2-108 0-4 2 86 1 68 2 145 0-15 2-153 1-63 1-158 1-5 2 163 0 81 2 168 1 1 1-195 1-60 2-49 0 13 2 113 1 40 1 32 1-61 2-111 1-21 1 31 1 33 1 140 1 30 2-89 0-47 2-62 1 0 2 59 1 48 1-153 1-199 1 142 1 47 2-21 0 17 2 142 0 59 2 50 1-55 2-94 0-26 2-59 1 4 1 103 1 36 2 46 0-8 2-92 1-43 1-79 1 10 2 114 0 38 2 59 1 0 1-92 1-41 1-35 1 41 2 96 1 11 1-54 1-34 2-68 0-6 2 47 1 35 2 85 1 11 1-30 0-27 2-72 1-8 2 12 0 7 2 51 1 34 1 77 1-15 2-105 1-35 1 89 1 111 1-116 1-80 2-85 0 12 2 99 1 30 1 49 1 4 2-73 0-51 2-83 1 14 1 82 1 33 2 83 0 8 2-65 1-37 1-72 1-4 2 30 0 23 2 77 1 19 2-19 0-18 2-72 0-25 2-149 1-31 2 218 0 64 1 31 2-38 1-104 1 1 2 118 0 49 1 57 2-45 1-180 1-48 1-50 1 23 2 153 1 61 1 87 1-12 2-91 0-37 2-78 1-30 1-121 1 22 2 126 0 29 2 74 1 17 1 62 2 53 1-34 0-41 2-149 1-39 1-17 1 14 2 37 0 21 2 88 1 29 1 24 1-23 2-58 1-28 1-126 1-46 0-15 2 32 2 65 1 17 1 79 1 42 2 107 0 5 2-75 1-34 1-76 1-2 2 83 1 36 1-95 1-37 1-30 1 10 2 42 0 22 2 65 1 8 2-75 0-86 1-128 2 99 1-29 1 6 2 51 0 11 2 41 0 21 2 70 1 19 1 21 1-10 2-100 1-34 1-43 1 2 2 48 0 23 2 68 1 18 1-7 1-10 2-41 0-17 2-63 1-20 1 29 1 28 2 83 0 19 2 18 1-25 1-80 1-32 2-68 0 1 2 71 1 43 2 126 0 28 1 21 1-43 2-112 1-40 2-53 0 5 2 28 1 16 1 93 1 34 1 22 1-44 2-78 1-20 1-44 1-7 2 27 0 30 2 86 1 10 1-27 1-21 2-66 1-24 1 13 1 25 1 95 1-34 2-150 1-49 1 68 1 70 1 157 1 3 2-79 0-33 2-80 1-15 1-12 1 16 2 63 0 17 2 27 1 9 2 43 1 17 1-52 1-54 1-125 1-9 2 54 0 42 2 157 1 43 1-66 1-64 2-181 0-7 2 111 1 49 1 98 1-7 2-131 1-42 1 20 1 25 1 112 1 28 2-194 1-70 1 120 1 61 1 54 1-14 2-88 0-33 2-40 1 15 2 122 0 55 1 85 1-81 2-245 1-46 2 141 0 54 2 50 1-9 1-54 1-20 2-52 0-5 2 68 1 44 1 79 1-7 2-58 0-21 2-66 1-26 1-55 1 11 2 99 0 40 2 139 1 19 1-157 1-40 2 117 1 32 1-51 1-39 2-83 0-13 2-13 0 7 2 84 1 42 2 56 0-13 2-96 0-30 2-45 1-6 2-10 0-1 2 27 1 27 1 138 1 42 1 31 1-43 2-165 1-60 1-92 1-1 2 74 0 25 2 44 1 14 1 86 1 52 2 105 0-21 2-210 1-84 1-174 1 67 2 472 0 60 2-243 2-25 1-10 0-20 2-100 0-34 2-27 1 25 2 76 0 34 2 126 1 33 1-64 1-49 2-109 0-19 1-10 2 18 1 59 1 25 2 41 0-6 2-45 1-16 1-60 2-26 1 26 0 29 2 73 1 12 1-11 1-13 2-49 0-21 2-68 1-2 1 104 1 34 1 26 1-11 2-27 1-15 2-78 1-27 1 44 0 38 2 96 1 34 2-30 0-46 2-148 1-15 1 67 1 43 2 115 0 9 2-64 1-37 1-78 1 0 2 63 0 42 2 113 1-20 1-220 1-28 2 86 0 47 2 78 1-13 1-76 1-21 2-29 0 4 2 62 1 32 1 48 1-12 2-99 0-37 2-54 1 11 2 107 0 44 2 59 0-5 2-49 1-26 2-109 1-30 1 42 1 27 1 72 1 25 2 57 0-26 2-180 1-27 1 37 1 29 2 113 1 44 1-33 1-28 1-97 1-40 1-69 1 40 2 270 1 122 1-52 1-84 2-326 1-81 1 244 1 100 2-105 0-79 1-50 1 75 2 174 1 24 2-48 0-36 2-100 1-38 1 34 1 58 2 210 0 6 2-159 1-53 1-80 1-5 2 132 0 93 1 85 2-127 1-142 1-3 2 28 0 21 2 127 1 48 1-67 1-87 2-327 0 59 2 233 1-46 1 82 1 141 1 224 1-191 2-101 1 45 2-67 0-43 2-108 0-22 2-14 1 46 2 149 0 40 1 33 2-13 1-44 1-20 2-74 0-28 2-87 1-13 1 79 1 59 2 109 0-10 2-184 1-18 1 393 1 62 2-196 0-44 2-101 1-86 1-332 1 42 2 229 0 74 2 195 1 4 1-49 1-19 2-64 0-24 2-36 1 1 2 22 0 10 2 44 0 20 2 44 1-3 2-93 0-48 2-78 1 16 1 148 1 35 2-100 1-86 1 38 1 50 1 177 2 41 1-88 0-96 2-263 1-6 1 238 1 111 1 118 1-53 2-145 1-43 1-144 1-39 2 199 0 96 2 187 1 4 1-165 1-89 2-171 0-7 2 90 1 40 1 50 1-34 2-54 0 8 2 100 1 43 2 72 0 6 2-80 1-81 1-198 1-28 2 124 0 59 2 108 1 26 1-9 1-16 2-68 0-25 2-42 1 8 1 116 1 26 2-143 1-54 1 45 1 35 1 91 1 28 1 36 1-26 2-104 1-27 2-39 0 2 2 95 0 52 2 116 1 2 2-185 0-90 1-117 2 70 1 261 1 11 2-118 0-46 2-64 1 14 1 98 1 36 2 80 0-5 2-132 1-50 1-40 1 17 2 85 0 43 2 124 1 9 1-177 1-81 2-98 0 23 2 121 1 37 1 74 2 17 1-25 0-33 2-96 1-5 2 27 0 12 2 66 0 39 2 65 1-27 2-99 0 23 1 56 2-29 1-93 1-30 1-34 1 13 2 82 1 28 1 27 1-12 2-44 0-16 2-51 1-12 1 43 1 34 1 60 1-63 1-79 2 71 1 185 1 31 2-89 0-64 2-188 1-78 1 41 1 53 2 97 0-30 1-38 2 58 2 79 1 25 1-10 0-17 2-73 1-22 1-22 1 9 2 73 1 48 1 97 1-9 2-102 1-42 1 21 1 10 1-60 1-33 2-74 0 5 2 97 1 42 1 69 1-2 2-39 0-22 2-73 1-19 1-13 1 16 2 29 0 9 2 60 1 30 1 49 1-3 2-54 0-38 2-152 1-25 2 84 0 53 2 105 1 18 1-52 1-50 2-86 0 32 2 171 1 55 1-105 1-91 2-152 0 19 2 145 1 47 1 77 1 2 2-81 0-65 2-133 1 6 1 132 1 77 2 174 0-7 2-187 1-69 1 83 1 31 2-43 0-21 2-51 1-12 2 20 0 26 2 95 0 16 2-45 1-30 2-56 1-12 1 6 1 12 1 78 1 29 1 24 1-34 2-137 1-15 1 223 1-13 2-137 0-51 2-60 1 12 1 95 1 41 2 62 0-11 2-61 1-18 1-70 2-46 1 33 0 49 2 167 1 75 1-41 1-60 2-192 0-21 2 32 1 20 2 70 0 22 2 40 0 0 2-61 1-43 2-124 0-11 2 87 1 46 1 103 1 21 2-7 0-10 2-49 1-20 1-61 1-24 2-59 0-4 2 46 1 31 1 86 1 18 2 27 0 2 2-7 1-8 1-79 1-37 2-53 0 8 2 52 1 21 1 86 1 32 1 35 1-19 2-93 1-38 2-72 0-5 2 22 0 19 2 110 1 55 2 95 0-21 2-121 1 11 1 244 1-60 2-327 0-76 1-136 2 177 1 208 1-15 2-105 0 0 2 217 1 0 1-158 1-42 2-61 1-11 1 30 1 35 1 132 2 50 1-31 0-50 2-178 1-32 1 12 1 11 2 47 0 22 2 58 1 19 2 30 0 5 1 9 1-7 2-61 1-40 2-108 0-12 2 49 1 32 1 111 1 45 2 87 0-24 2-185 1-50" stroke="#4dbeee" stroke-width="6.0" fill="none" stroke-linejoin="round"/></g>
<path d="M181.17 986.6v-5.2M181.17 821.8v5.2M239.93 986.6v-5.2M239.93 821.8v5.2M298.7 986.6v-5.2M298.7 821.8v5.2M357.47 986.6v-5.2M357.47 821.8v5.2M416.23 986.6v-5.2M416.23 821.8v5.2M475 986.6v-5.2M475 821.8v5.2M533.77 986.6v-5.2M533.77 821.8v5.2M592.53 986.6v-5.2M592.53 821.8v5.2M122.4 959.13h5.2M651.3 959.13h-5.2M122.4 931.67h5.2M651.3 931.67h-5.2M122.4 904.2h5.2M651.3 904.2h-5.2M122.4 876.73h5.2M651.3 876.73h-5.2M122.4 849.27h5.2M651.3 849.27h-5.2" stroke="#262626" stroke-width="0.95" fill="none"/>
<rect x="122.4" y="821.8" width="528.9" height="164.8" fill="none" stroke="#262626" stroke-width="0.9"/>
<g fill="#262626"><text transform="translate(122.4 1000.6) scale(1.16 1)" font-size="9.9" text-anchor="middle">0</text><text transform="translate(181.17 1000.6) scale(1.16 1)" font-size="9.9" text-anchor="middle">1000</text><text transform="translate(239.93 1000.6) scale(1.16 1)" font-size="9.9" text-anchor="middle">2000</text><text transform="translate(298.7 1000.6) scale(1.16 1)" font-size="9.9" text-anchor="middle">3000</text><text transform="translate(357.47 1000.6) scale(1.16 1)" font-size="9.9" text-anchor="middle">4000</text><text transform="translate(416.23 1000.6) scale(1.16 1)" font-size="9.9" text-anchor="middle">5000</text><text transform="translate(475 1000.6) scale(1.16 1)" font-size="9.9" text-anchor="middle">6000</text><text transform="translate(533.77 1000.6) scale(1.16 1)" font-size="9.9" text-anchor="middle">7000</text><text transform="translate(592.53 1000.6) scale(1.16 1)" font-size="9.9" text-anchor="middle">8000</text><text transform="translate(651.3 1000.6) scale(1.16 1)" font-size="9.9" text-anchor="middle">9000</text><text transform="translate(117 991.06) scale(1.16 1)" font-size="9.9" text-anchor="end">-15</text><text transform="translate(117 963.6) scale(1.16 1)" font-size="9.9" text-anchor="end">-10</text><text transform="translate(117 936.13) scale(1.16 1)" font-size="9.9" text-anchor="end">-5</text><text transform="translate(117 908.66) scale(1.16 1)" font-size="9.9" text-anchor="end">0</text><text transform="translate(117 881.2) scale(1.16 1)" font-size="9.9" text-anchor="end">5</text><text transform="translate(117 853.73) scale(1.16 1)" font-size="9.9" text-anchor="end">10</text><text transform="translate(117 826.26) scale(1.16 1)" font-size="9.9" text-anchor="end">15</text></g>
<text transform="translate(386.85 1012.8) scale(1.19 1)" font-size="10.2" text-anchor="middle" fill="#262626">Samples</text>
<text transform="translate(94 904.2) scale(1.19 1) rotate(-90)" font-size="10.2" text-anchor="middle" fill="#262626">Amplitude</text>
<rect x="538.3" y="829.4" width="103.9" height="14.2" fill="#fff" stroke="#262626" stroke-width="0.8"/>
<path d="M542 836.3H575.6" stroke="#4dbeee" stroke-width="0.8"/>
<text transform="translate(578.7 839.29) scale(1.21 1)" font-size="8.3" fill="#000">Theta rhythm</text>
<text transform="translate(32.6 914.5) rotate(-90)" font-size="22.5" text-anchor="middle" fill="#000" font-family='"Liberation Serif", serif'>(e)</text>
<path d="M176.04 1022.3V1176.5M235.39 1022.3V1176.5M294.73 1022.3V1176.5M354.08 1022.3V1176.5M413.42 1022.3V1176.5M472.77 1022.3V1176.5M532.11 1022.3V1176.5M591.46 1022.3V1176.5M116.7 1150.8H650.8M116.7 1125.1H650.8M116.7 1099.4H650.8M116.7 1073.7H650.8M116.7 1048H650.8" stroke="#e3e3e3" stroke-width="0.8" fill="none"/>
<clipPath id="clipf"><rect x="116.7" y="1022.3" width="534.1" height="154.2"/></clipPath>
<g clip-path="url(#clipf)"><path transform="scale(.1)" d="M1167 10994l2 0 0 0 2-1 1 0 2 0 0 0 2 1 0 0 2 2 1 1 2 2 0 1 1 0 2-1 1-2 1-1 2-4 0-2 2-4 1-1 2-1 0 0 2 1 0 1 2 4 1 1 2 3 0 0 2 3 1 1 1 2 1 1 2 1 0 0 2-2 1-1 2-4 0-2 2-5 0-1 2-1 1 0 2 2 0 1 2 4 1 2 1 4 1 1 2 2 0 0 2-2 1-1 1-6 1-2 2-4 0-1 2-1 1 0 2 4 0 2 2 6 1 3 1 5 2 1 1-1 0-2 2-6 1-3 1-8 1-2 2-3 0 0 2 5 1 3 2 9 0 3 2 6 1 1 1-3 1-3 2-9 0-3 2-35 1-19 1-41 1 0 2 57 0 37 2 113 1 29 2 52 0 2 2-39 1-29 1-120 1-44 2-110 0-24 2-22 1 12 1 65 1 29 2 93 0 29 2 72 1 17 2 23 0-2 2-39 1-21 1-74 1-23 2-52 0-10 2-11 1 2 1 19 1 10 2 41 0 17 2 57 1 20 2 48 1 14 1-8 1-13 1-64 1-27 2-82 0-25 2-60 1-13 1-17 1 4 2 52 0 31 2 125 1 45 2 109 0 24 1 15 2-24 1-78 1-33 2-103 0-32 2-82 1-22 1-36 1 3 2 47 0 28 2 96 1 26 2 56 0 14 2 18 1-3 1-41 1-20 2-57 0-17 2-31 1-7 1 3 1 5 2 25 0 11 2 35 1 10 2 23 1 5 1-5 1-6 1-33 1-15 2-40 0-9 1-6 2 13 1 46 1 17 2 38 1 6 1-8 1-9 2-39 0-15 2-44 1-11 1-13 1 4 2 30 0 14 2 40 1 11 1 24 1 5 2 6 0-2 2-16 1-9 2-37 0-14 2-42 0-11 2-12 1 4 2 31 0 14 2 43 1 12 1 28 1 5 1 3 2 3 1-6 1-8 2-36 0-16 2-48 0-15 2-35 1-8 2 11 0 12 2 65 1 27 1 81 1 22 2 36 0 2 2-23 1-15 2-57 0-21 2-61 0-18 2-38 1-8 2 5 0 6 2 32 1 14 1 49 1 21 2 75 0 29 2 88 1 34 2-27 0-22 2-98 0-39 2-122 1-30 2-43 0-1 2 17 1 16 1 46 1 13 2 30 0 8 2 16 1 6 1 16 1 4 1 4 1-2 2-15 1-9 2-33 0-12 2-36 1-9 1-16 1 1 2 21 0 12 2 45 1 26 1 89 1 26 2 45 0 5 2-16 1-21 2-77 0-33 2-122 1-47 1-141 1-38 2-49 0 12 2 123 1 60 1 177 1 48 2 93 0 14 1 6 2-14 2-44 0-18 2-60 1-21 1-61 1-19 2-43 0-8 1-7 2 7 1 36 1 19 2 69 0 27 2 87 1 28 2 35 0-7 2-55 1-26 1-65 1-16 2-50 0-15 2-30 1-4 1 6 1 5 2 22 0 9 2 29 1 11 2 34 0 11 2 32 1 9 1 14 1-1 2-20 0-12 2-42 1-14 1-38 1-10 2-24 0-6 2-9 1 1 2 15 0 9 2 32 1 11 1 28 1 6 2 10 0 0 2-2 1-1 1-8 1-4 2-15 0-7 2-27 1-10 2-26 0-5 1-4 2 6 1 27 1 12 2 41 0 13 2 33 1 8 1 12 1 0 2-10 0-8 2-29 1-12 2-31 0-9 2-17 1-3 1-4 1 0 2 2 1 2 1-10 1-4 1-6 1 1 2 13 0 12 2 47 1 19 2 61 0 19 2 48 1 11 1 9 1-8 2-54 0-31 2-122 1-47 1-130 1-34 2-57 0-1 2 47 1 29 2 103 0 34 2 88 0 24 2 54 1 14 2 34 0 9 2 16 1 1 1-17 1-12 2-51 0-20 2-59 1-19 2-53 0-15 2-36 0-8 2-9 1 3 2 38 0 24 2 106 1 43 1 119 1 30 2 44 0-1 2-37 1-22 2-84 0-33 2-109 0-36 2-97 1-26 2-49 1-7 1 13 1 12 1 56 1 23 2 71 0 23 2 63 1 20 1 56 1 18 2 45 0 12 2 19 1-1 2-22 0-15 2-57 1-23 1-69 1-19 2-37 0-6 2-3 1 4 1 16 1 8 2 13 0 4 2 17 1 8 2 21 0 6 2 12 1 2 1-3 1-4 2-15 0-6 2-19 1-6 1-16 1-4 2-7 0 0 2 4 1 4 2 15 0 7 2 21 1 6 1 16 2 4 1-3 0-3 2-16 1-6 1-18 1-5 2-11 0-3 2-3 1 1 2 7 0 3 2 12 1 4 1 10 1 2 2 3 0 4 2 7 1 0 1-9 1-8 2-40 0-20 2-77 1-27 2-55 0-1 2 65 1 38 1 123 1 37 2 82 0 17 2 24 1 0 1-20 1-13 2-59 0-25 2-83 1-28 2-76 0-21 2-52 1-15 1-41 1-13 2-39 1-15 1 10 1 30 1 154 1 63 2 202 0 66 2 169 1 40 2 52 0-10 2-111 1-64 1-252 1-85 2-209 0-46 1-39 2 47 1 223 1 104 2 309 0 80 2 105 1-11 2-132 0-65 2-228 1-83 1-249 1-74 2-137 0-8 2 93 1 59 1 186 1 46 2 48 0-13 2-90 1-36 2-70 0 16 2 113 1 54 1 186 1 63 2 168 0 43 2 74 1 4 1-55 1-40 2-198 0-72 2-159 1-36 2-75 0-18 2-36 0-4 2 19 1 20 2 107 0 51 2 172 1 56 1 126 2 27 1-23 0-29 2-133 1-53 2-158 0-47 2-102 0-19 2-11 1 18 2 71 0 31 2 106 1 37 1 102 1 27 2 38 0-7 2-91 1-54 2-199 0-64 2-110 0 2 2 121 1 68 2 226 0 69 2 156 1 40 1-18 1-32 2-189 0-79 2-232 1-66 2-133 1-21 1 37 0 38 2 177 1 73 2 212 0 56 2 72 1 0 1-50 1-29 2-102 0-34 2-77 1-14 1-11 2 8 1 4 0 4 2 17 1 6 2 23 0 8 2 21 1 5 1 6 1-3 2-20 0-10 2-31 1-10 1-19 2-3 1 4 0 6 2 27 1 12 2 35 0 10 2 12 1-2 1-20 1-10 2-33 0-10 2-26 1-5 1-7 1 1 2 20 0 8 2 53 1 26 2 81 0 22 2 31 1-4 1-61 1-35 2-140 0-51 2-140 1-34 1-45 1 8 2 94 0 55 2 192 1 63 2 150 0 32 2 32 1-9 1-73 1-73 2-110 0 12 2 212 1 76 1 139 1 22 2-115 0-87 2-315 1-105 2-234 1-35 1 82 1 82 1 334 1 114 2 247 1 47 1-39 1-43 1-181 1-75 2-266 0-95 2-248 1-55 1-46 1 42 2 179 1 71 1 178 1 42 2 90 0 27 2 110 1 44 1 108 2 16 1-45 0-45 2-203 1-83 2-256 0-74 2-94 1 38 1 343 1 136 2 311 1 73 1-41 1-56 1-259 1-101 2-279 0-73 2-121 1-3 2 99 0 63 2 247 1 89 1 199 1 34 1 21 1-26 2-86 1-36 1-131 1-49 2-140 0-36 2-49 1 9 2 125 0 73 2 247 1 74 1-64 1-65 2-205 0-53 2-90 1-8 1 37 1 29 2 114 0 40 2 103 1 27 2 48 0 4 2-22 0-21 2-96 1-42 2-139 0-46 2-108 1-26 1 23 1 32 2 154 0 63 2 182 1 50 2 94 0 11 2-32 0-28 2-118 1-49 2-157 0-51 2-126 1-26 1-22 1 27 2 125 0 55 2 166 1 46 2 91 0 14 1 7 1-19 2-68 1-33 2-119 0-44 2-119 1-30 1-38 1 6 2 72 0 36 2 121 1 38 1 91 1 21 2 32 0 2 2-16 1-15 2-66 0-29 2-97 1-33 1-91 1-24 2-35 0 4 2 77 1 37 1 127 1 40 2 83 0 12 2 8 1-12 2-42 0-20 2-52 1-15 1-34 1-7 2-13 0-6 2-8 1 2 1 23 1 11 2 35 0 10 2 18 1 3 1 2 1-2 2-8 1-4 1-16 1-8 2-27 0-11 2-27 1-5 1-5 1 4 2 21 0 9 2 25 1 8 2 17 0 5 2 9 1 2 1 2 1 0 2-5 0-3 2-13 1-5 1-17 1-6 2-13 0-3 2-4 1 2 2 12 0 6 2 20 1 6 1 13 1 2 1 2 1-2 2-4 1-3 1-19 1-10 2-36 0-13 2-17 1 1 2 34 0 20 2 74 1 24 1 52 2 7 1-16 0-16 2-75 1-30 1-87 1-23 2-39 0-2 2 27 1 19 2 77 0 29 2 82 1 21 1 32 1 2 2-22 0-14 2-53 1-21 1-60 1-18 2-40 0-7 2-7 1 8 2 36 0 17 2 55 1 17 1 41 1 10 2 12 0-1 2-19 1-11 1-44 1-17 2-46 0-12 2-20 1-1 2 13 0 9 2 39 1 15 1 45 1 13 2 28 1 7 1-6 1-8 1-43 1-19 2-67 0-22 2-50 1-11 2 15 0 17 2 81 0 29 2 68 1 12 1 8 1-9 2-30 1-12 1-36 1-12 2-30 0-8 2-14 1-1 2 12 0 10 2 43 0 18 2 53 1 15 2 24 0 0 2-29 1-18 1-66 1-22 2-59 0-13 2-18 1 1 2 22 0 10 2 46 0 9 2 6 1-6 2-12 0-1 2 17 1 12 1 44 1 13 2 30 1 6 1-5 1-8 1-39 1-16 2-48 0-14 2-28 1-3 2 13 0 11 2 53 1 22 1 67 1 17 1 14 1-24 2-96 1-38 1-90 1-17 1-11 1 26 2 76 1 28 2 70 0 17 2 27 1 1 1-14 1-11 2-40 0-15 2-42 1-12 1-26 2-7 1 2 0 6 2 34 1 15 2 52 0 16 2 38 1 7 1 5 1-9 2-35 0-16 2-57 1-22 1-67 1-20 2-35 0-2 2 32 1 21 2 82 0 28 2 76 1 18 1 37 1 7 2 15 0 4 2 15 1 6 1 10 1-3 2-39 0-23 2-95 1-37 2-101 0-28 2-58 2-14 0 5 1 11 2 68 0 34 2 145 1 57 1 141 1 34 2 42 0-6 2-80 1-44 2-169 0-50 2-107 1-20 1-23 1 3 2 33 0 16 2 61 1 24 1 81 1 28 2 79 0 22 2 45 1 8 2-13 0-15 2-70 1-32 1-101 1-33 2-88 0-23 2-47 1-9 1 11 1 13 2 64 0 27 2 90 1 30 2 87 0 25 2 60 2 19 0-7 1-18 2-132 0-74 2-220 1-61 1-113 1-9 2 70 0 53 2 222 1 86 2 245 0 67 2 112 1 2 1-109 1-71 2-280 0-102 2-199 1-22 1 65 1 61 2 268 0 90 2 134 1-13 2-175 0-91 2-299 0-67 2-74 1 17 2 155 0 77 2 254 1 65 1 87 1 2 2-37 0-20 2-77 1-28 2-86 0-30 2-87 0-26 2-47 1 2 2 69 0 44 2 165 1 54 1 124 1 22 1 13 1-30 2-105 1-44 2-129 0-36 2-77 0-14 2-19 1 8 2 66 0 32 2 111 1 36 1 80 2 21 1-11 0-16 2-83 1-35 2-105 0-30 1-35 1 17 2 134 1 55 2 114 0 12 2-37 1-33 1-136 1-49 2-117 0-21 2-10 1 27 1 85 1 33 2 94 0 26 2 55 1 10 1 7 1-10 2-43 1-19 1-65 1-22 2-58 0-15 2-22 1 0 1 32 1 20 2 90 0 36 2 106 1 29 2 39 0-4 2-69 1-38 1-134 1-45 2-105 1-26 1 57 1 49 1 137 1 30 1 30 1-12 2-74 1-28 2-67 0-15 2-26 1-2 1 20 1 16 2 76 0 33 2 104 1 31 1 57 1 5 2-30 0-22 2-86 1-30 2-86 0-25 2-61 1-16 1-36 1-7 2-10 0 2 2 22 1 13 1 53 1 22 2 56 0 15 2 33 1 7 2 9 0-1 2 7 1-1 1-13 1-10 2-39 0-15 2-38 1-9 1-10 1 4 2 29 0 13 2 38 1 10 2 21 0 3 1 2 2-2 1-10 1-4 2-14 0-5 2-15 1-5 1-11 1-2 1-2 1 4 2 15 1 7 2 24 0 8 2 23 1 6 1 9 1-1 2-11 0-6 2-26 1-10 1-33 1-11 2-27 0-7 2-13 1-1 2 7 0 7 2 29 1 11 1 36 1 12 2 28 0 8 2 13 1 1 1-7 1-7 2-31 0-13 2-39 1-12 2-24 1-4 1 6 1 7 1 28 1 10 2 27 0 8 2 16 1 3 1 3 1-1 2-10 0-5 2-18 1-7 2-20 0-6 1-6 1 4 2 9 1 2 2-30 0-25 2-85 1-33 1-89 1-16 2 68 0 41 2 153 1 56 2 158 0 43 2 82 0 8 2-56 1-39 2-135 0-46 2-117 1-29 1-56 1-5 2 22 0 16 2 66 1 24 2 74 0 23 2 61 0 14 2 16 1-10 2-48 0-22 2-72 1-21 1-44 2-9 1 6 0 7 2 27 1 10 1 29 1 9 2 27 0 9 2 18 1 1 2-8 0-8 2-34 1-14 1-39 1-10 2-22 0-2 2 9 1 9 1 44 1 20 2 61 0 17 2 24 1-4 2-39 0-18 2-50 1-13 1-26 1-4 1-2 1 5 2 21 1 9 1 32 1 11 2 25 1 5 1-5 1-7 2-32 0-14 2-41 1-15 1-42 1-11 1-9 1 11 2 59 1 28 1 85 1 24 2 45 0 4 2-19 1-10 2-38 0-11 2-31 1-10 1-32 1-14 2-53 0-22 2-71 1-21 1-38 1 1 2 58 0 37 2 139 1 48 2 113 0 22 1 13 2-19 1-69 1-28 2-84 0-26 2-55 1-12 1 9 1 12 2 59 0 23 2 63 1 13 1 8 1-23 2-93 1-44 1-141 1-37 1-20 1 37 2 154 1 69 1 206 1 56 2 82 0-9 2-137 1-75 2-265 0-84 2-167 1 0 1 168 1 74 2 205 0 44 1 37 2-24 1-105 1-35 1-39 1 35 2 204 1 92 2 238 1 55 1-52 1-57 1-232 1-82 2-240 0-79 2-209 1-47 1-36 1 51 2 191 0 72 2 159 1 27 2-35 0-33 2-104 1-21 1 48 1 48 2 196 0 68 2 152 1 32 1-23 1-28 2-117 0-42 2-118 1-35 2-93 0-25 2-55 0-11 2-11 1 1 2 22 0 13 2 51 1 20 1 72 1 26 2 76 0 23 2 58 1 13 1 11 1-16 2-86 0-47 2-182 1-66 2-164 1-48 1 48 1 51 1 228 1 90 2 252 0 64 2 70 1-33 2-164 0-68 2-191 0-50 2-92 1-11 2 24 0 24 2 107 1 43 1 127 1 36 2 66 0 4 2-39 1-28 2-108 0-41 2-117 0-35 2-73 1-12 2 25 0 28 2 134 1 54 1 148 1 37 2 53 0-1 2-56 1-32 1-113 1-40 2-111 0-31 2-59 1-6 2 36 0 31 2 145 1 55 1 135 2 24 1-38 0-38 2-145 1-44 1-77 1-6 2 29 0 21 2 81 1 33 2 118 0 44 2 119 1 22 1-124 1-60 2-201 0-66 2-162 1-35 1-36 1 15 2 108 0 56 2 182 1 46 2 101 0 22 2 33 1-1 1-47 1-30 2-113 0-41 2-102 1-24 1-30 1 2 2 35 0 20 2 75 1 29 2 88 0 27 2 54 1 6 1-19 1-18 2-79 0-31 2-78 1-19 1-27 1 1 2 28 0 17 2 67 1 25 2 68 0 16 1 18 2-10 1-69 1-34 2-104 0-30 2-59 1-9 1 16 1 18 2 90 0 40 2 133 1 44 2 106 0 24 1 22 2-19 1-125 1-65 2-225 0-73 2-167 1-43 1 29 1 42 2 228 0 102 2 329 1 98 2 183 0 13 2-102 1-70 1-269 1-103 2-333 0-109 2-258 1-61 1 50 1 64 2 281 0 102 2 248 1 55 2 88 0 14 2 44 1 23 1 92 1 32 2 58 0-4 2-120 1-87 1-282 1-92 2-246 0-65 2-132 1-30 2 15 0 24 2 124 1 61 1 210 1 71 2 194 0 52 2 103 1 21 1-13 1-17 2-78 0-30 2-80 1-22 2-50 0-13 2-29 0-7 2-19 1-6 2 4 0 7 2 38 1 20 1 52 1 11 1 10 1-8 2-21 1-2 2-11 0-5 2-14 0-5 2-13 1-4 2-8 0 0 2 6 1 5 1 24 1 10 2 29 0 8 2 7 1-9 2-42 0-17 2-32 0 0 2 20 1 9 2 26 0 6 2 11 1 2 1-3 1-3 2-14 0-5 2-17 1-5 1-12 2-2 1 1 0 3 2 14 1 4 2 24 0 11 2 32 1 9 1 17 1 0 2-31 0-16 2-56 1-20 1-59 1-16 2-19 0 6 2 45 1 21 2 63 0 19 2 42 1 9 1 14 1-1 2-16 0-11 2-45 1-19 1-64 1-21 2-51 0-10 2-6 1 17 2 70 0 35 2 122 1 61 1-34 1-33 2-105 1-32 1 28 1 39 1 126 1 38 2 52 0 0 2-41 1-25 2-89 0-34 2-104 1-33 1-81 1-18 1-17 1 15 2 87 1 43 1 155 1 50 2 101 0 9 2-42 1-29 2-106 0-37 2-102 1-30 1-69 2-13 1 32 0 37 2 197 1 80 1 138 1 2 2-115 0-66 2-216 1-63 2-89 0-3 2 54 1 34 1 126 1 46 2 130 0 36 2 60 1 0 1-64 1-39 2-134 0-43 2-100 1-20 1-15 1 16 2 80 1 39 1 132 1 39 2 57 0-8 2-101 1-48 1-129 1-29 2-32 0 8 2 60 1 30 2 98 0 32 2 78 1 16 1 14 1-14 2-65 0-30 2-98 1-30 1-73 1-16 2-17 0 5 2 47 1 25 2 93 0 34 2 93 1 24 1 34 1-1 2-42 0-23 2-76 1-24 1-50 1-10 2-15 1-2 1 2 1 2 2 11 0 5 2 21 0 9 2 35 1 16 2 53 0 19 2 55 1 14 1 14 1-5 2-42 0-21 2-75 1-29 2-97 0-34 2-87 0-22 2-42 1-4 2 19 0 16 2 76 1 33 1 111 1 38 2 95 0 23 2 39 1 3 2-20 0-14 2-59 0-22 2-64 1-19 2-47 0-13 2-25 1-5 1-5 1 4 2 22 0 13 2 58 1 27 1 95 1 32 2 73 1 15 1-18 1-21 2-92 0-36 2-102 1-28 1-66 1-16 2-31 1-7 1 6 1 6 1 36 1 16 2 54 0 18 2 55 1 18 2 48 0 15 2 36 1 8 1 9 1-2 2-21 0-11 2-48 1-20 1-67 1-23 2-69 0-19 2-33 1 0 2 36 0 22 2 81 1 30 1 88 1 26 2 55 1 12 1-11 1-15 1-84 1-37 2-121 0-43 2-108 1-22 1-13 1 36 2 162 1 87 1 323 1 23 2-280 0-163 2-322 1-71 1 27 1 49 2 220 0 82 2 224 1 56 2 104 0 11 2-32 1-27 1-116 1-44 2-131 0-41 2-98 1-22 1-25 1 6 2 66 0 37 2 148 1 54 2 142 0 35 2 44 1-5 1-74 1-40 2-145 0-52 2-140 1-36 1-58 1-1 2 45 0 28 2 116 1 45 2 146 0 47 2 117 1-43 1-278 1-95 1-125 1 115 2 254 1 80 1 187 1 38 1 30 1-33 2-194 1-73 2-174 0-40 2-67 1-10 1-5 1 6 2 30 0 17 2 81 1 39 1 156 1 61 2 154 0 6 2-78 1-50 2-201 0-74 2-193 1-41 1-52 1 4 2 65 0 35 2 141 1 58 1 195 1 61 1 77 1-62 2-348 1-120 2-172 0 7 2 141 0 70 2 219 1 66 2 117 0 7 2-48 1-30 1-106 1-35 2-89 0-22 2-49 1-11 2-17 0 0 2 23 0 17 2 89 1 41 2 134 0 41 2 77 1 8 1-29 1-25 2-99 0-35 2-89 1-23 2 12 0 11 1 17 1-14 2-75 1-29 2-79 0-22 2-41 1-3 1 19 1 17 2 82 0 38 2 132 1 43 2 102 0 23 2 27 0-6 2-59 1-31 2-114 0-43 2-124 1-37 1-81 2-19 1 10 0 15 2 77 1 34 1 113 1 37 2 95 0 25 2 47 1 5 2-17 0-14 2-66 1-28 1-98 1-33 2-82 0-18 2-24 1 2 1 32 1 18 2 68 0 26 2 90 1 31 2 89 0 24 2 35 1-3 1-61 1-37 2-138 0-47 2-127 1-35 1-74 1-7 2 51 0 34 2 141 1 54 2 159 0 46 2 85 1 9 1-35 1-31 2-135 0-53 2-157 1-44 1-85 1-7 2 43 0 35 2 146 1 55 2 145 1 34 1-15 1-21 1-95 1-35 2-98 0-26 2-47 1-2 1 36 1 23 2 87 0 28 2 58 1 10 2-12 0-13 2-32 1-11 1-37 1-10 2-13 0 1 2 8 1 4 1 9 1-1 2-12 0-9 2-33 1-12 1-7 1 4 2 27 1 14 1 56 1 20 2 55 0 12 1 10 2-12 1-46 1-19 2-54 0-13 2-28 1-5 1-5 1 4 2 20 1 10 1 46 1 19 2 59 0 16 1 16 2-23 1-121 1-51 2-108 0-4 2 73 1 40 2 125 0 34 2 57 1 4 1-28 1-20 2-77 0-30 2-92 1-28 1-65 2-15 1 16 0 21 2 115 1 50 2 144 0 36 2 46 1-6 1-65 1-29 2-91 0-28 2-68 1-15 1-24 1-1 2 16 0 10 2 47 1 19 2 69 0 23 2 54 1 10 1-22 1-23 2-112 0-43 2-97 1-8 1 69 1 43 2 116 0 24 2 21 1-9 2-46 0-21 2-60 0-17 2-39 1-8 1-8 1 5 2 31 1 15 1 60 1 23 2 76 0 24 2 50 1 6 2-30 0-26 2-119 0-47 2-136 1-37 2-72 1-9 1 23 1 22 1 92 1 36 2 111 0 37 2 107 1 32 1 72 1 13 1 10 1-12 2-60 1-31 2-125 0-52 2-171 1-57 1-145 2-43 1 22 0 40 2 225 1 96 1 248 2 63 1-52 0-67 2-304 1-112 2-257 1-56 1 42 1 51 1 224 1 89 2 288 0 100 2 269 1 61 1 53 1-51 2-207 0-76 2-179 1-39 2-94 0-35 2-123 1-38 1-68 1 0 2 70 0 41 2 145 1 48 1 123 1 31 2 43 0-4 2-63 1-35 2-125 0-43 2-102 1-28 1 12 1 21 2 105 0 42 2 111 1 27 1 37 1-2 2-44 0-24 2-90 1-31 2-86 0-21 1-23 2 15 1 116 1 60 2 191 0 51 1 50 2-34 1-180 1-76 2-198 0-44 2-48 1 10 2 92 0 46 2 165 1 57 1 141 1 27 1 15 1-41 2-133 1-52 1-144 1-35 2-60 0-3 2 31 1 21 2 89 0 36 2 118 1 36 1 70 1 4 2-63 0-44 2-167 1-56 1-115 1-11 2 62 0 46 2 162 1 47 2 81 0 5 2-40 1-26 1-86 1-28 2-73 0-18 2-37 1-6 1 16 1 17 2 101 0 51 2 161 1 39 2 67 0 4 2-44 1-30 1-121 1-46 2-127 0-31 2-57 1-10 1-13 1 0 2 12 0 8 2 41 1 19 2 74 0 28 2 83 0 24 2 47 1 5 2-21 0-17 2-68 1-27 1-83 1-25 2-59 0-12 2-9 1 12 2 55 0 24 2 81 0 25 2 52 1 11 2-6 0-8 2-36 1-15 1-57 1-23 2-80 0-27 2-64 1-11 2 26 0 29 2 135 0 53 2 137 1 33 2 52 0 4 2-21 1-17 1-76 1-36 2-131 0-49 2-137 1-38 2-76 1-13 1 21 0 25 2 136 1 53 2 153 0 43 2 95 1 18 1 15 1-13 2-62 0-30 2-110 1-41 1-125 1-34 2-56 0 1 2 63 1 37 2 146 0 53 2 150 1 40 1 71 1 3 2-74 0-55 2-245 1-92 1-224 2-61 1 59 0 57 2 208 1 65 2 146 0 31 2 42 1-1 1-42 1-25 2-104 0-41 2-115 1-28 1-27 1 18 2 109 0 51 2 157 1 41 2 58 0-8 2-106 1-56 1-161 2-43 1 19 0 26 2 96 1 27 1 69 1 18 1 12 1-14 2-55 1-23 2-70 0-20 2-39 1-5 1 18 1 16 2 55 0 19 2 48 1 12 1 21 1 1 2-13 0-9 2-36 1-13 2-31 0-8 2-14 1-2 1 3 1 3 2 18 0 10 2 38 1 15 1 42 1 11 2 14 0-2 2-30 1-16 2-55 0-19 2-51 1-14 1-26 1-5 2 6 0 8 2 36 1 13 1 40 1 13 2 34 0 9 2 20 1 4 1 4 1-2 2-15 1-8 1-31 1-12 2-48 0-22 2-76 1-25 1-50 1-1 2 59 0 40 2 157 1 54 2 116 0 21 1 13 2-18 1-73 1-33 2-113 0-39 2-102 1-26 1-41 1 1 2 47 0 29 2 113 1 42 2 110 0 24 1 15 2-42 1-216 1-90 2-130 0 21 2 241 1 97 1 274 1 77 2 143 0 10 2-97 1-73 2-295 0-111 2-314 0-84 2-138 1 2 2 147 0 87 2 301 1 94 1 188 2 28 1-41 0-40 2-166 1-61 2-164 0-40 2-53 0 11 2 133 1 74 2 264 0 83 2 149 1 5 1-135 1-84 2-301 0-99 2-230 1-44 1-31 1 50 2 208 0 95 2 318 1 99 2 198 1 31 1-55 1-58 1-260 1-104 2-302 0-85 2-159 1-14 1 78 1 63 2 262 0 100 2 265 1 61 2 79 0-8 2-107 1-56 1-195 1-65 2-164 0-38 2-44 1 11 1 95 1 46 2 136 0 38 2 74 1 16 2-8 0-11 2-53 1-23 1-83 1-32 2-93 0-25 2-28 1 14 1 110 1 56 2 187 0 58 2 122 1 22 2-75 0-60 2-156 1-43 1 21 1 30 2 114 1 35 1-31 1-42 1-201 1-63 2-149 0-32 2-32 1 11 2 109 0 60 2 212 1 70 1 152 2 36 1-19 0-26 2-122 1-47 1-136 1-41 2-96 0-20 2-20 1 11 2 67 0 33 2 117 1 41 1 114 1 31 2 57 0 4 2-48 1-38 1-166 1-71 2-213 0-53 2-86 1-3 2 67 0 44 2 184 1 64 1 163 1 42 2 83 0 14 1 11 2-11 1-54 1-27 2-99 0-38 2-113 1-35 2-81 0-17 1-14 2 16 1 68 1 30 2 97 0 30 2 75 1 18 1 31 1 2 2-15 0-11 2-55 1-26 2-96 0-36 2-101 1-23 1-21 1 15 2 84 0 33 2 77 1 17 1 30 1 4 2 13 0 8 2 40 1 21 2 65 0 12 1 10 2-12 1-55 1-25 2-80 0-20 2-35 1-2 1 5 1-2 2 9 0 4 2 19 1 6 2 21 0 7 2 15 0 4 2 2 1-5 2-19 0-8 2-25 1-7 1-11 1-1 2 4 0 3 2 10 1 5 2 16 0 7 2 23 0 9 2 20 1 2 2-15 0-8 2-60 1-30 1-101 1-32 2-61 0-3 2 84 1 43 2 148 0 50 2 122 1 24 1-23 1-25 2-104 0-36 2-92 1-22 1-32 1 3 2 52 0 23 2 68 1 19 1 32 1-2 2-47 0-26 2-82 1-24 2-50 0-7 2 24 1 25 1 125 1 53 2 123 0 25 2 19 1-23 1-102 1-46 2-149 0-45 2-94 1-6 2 26 0 21 2 90 1 36 1 112 1 35 2 85 0 18 2 15 1-19 1-96 1-44 2-139 0-42 2-95 1-26 2 9 0 18 2 100 1 41 1 126 1 37 2 89 0 18 2 10 1-25 1-82 1-32 2-90 0-25 2-52 1-9 1-6 1 9 2 40 1 19 1 67 1 23 2 57 0 10 2-66 1-34 1-101 2-29 1 31 0 23 2 84 1 29 2 70 0 14 1 9 2-16 1-55 1-22 2-57 0-15 2-30 1-6 1-6 1 2 2 15 0 9 2 34 1 13 2 43 0 14 2 33 1 9 1-5 1-8 2-44 0-21 2-77 1-27 1-71 1-18 2-22 0 5 2 44 1 22 2 76 0 26 2 67 1 17 1 36 1 8 2 22 0 5 1 4 2-8 1-40 1-20 2-73 0-29 2-86 1-25 2-55 1-9 1 16 1 16 1 75 1 29 2 89 0 27 2 66 1 14 1 19 1-3 2-37 0-21 2-80 1-30 2-94 0-29 2-61 1-7 1 35 1 32 2 149 0 60 2 161 1 43 1-47 1-59 2-236 0-67 2-86 1 8 2 92 0 44 2 144 1 47 1 107 1 19 1 10 1-29 2-108 1-49 1-158 1-51 2-114 1-25 1 26 1 30 2 133 0 50 2 130 0 31 2 52 1 2 2-96 0-40 2-107 1-31 1 25 1 41 2 121 0 34 2 68 1 8 2-19 0-19 2-87 0-39 2-135 1-48 2-131 0-31 1-31 2 29 1 151 1 72 2 225 0 70 2 158 1 29 1 21 1-33 2-132 0-62 2-211 1-71 2-183 0-43 2-51 1 9 1 95 1 48 2 154 0 49 2 121 1 32 1 72 1 16 2 20 0-1 2-25 1-14 2-54 0-23 2-84 1-33 1-102 1-30 2-68 0-12 2-8 1 12 1 49 1 24 2 90 0 35 2 105 1 32 2 75 0 15 1 10 2-21 1-89 1-41 2-132 0-41 2-102 1-24 1-29 1 8 2 75 0 42 2 151 1 50 2 117 0 25 1 24 2-8 1-60 1-30 2-102 0-35 2-95 1-28 1-66 1-14 2-17 0 4 2 37 1 18 2 72 0 29 2 103 1 38 1 112 1 31 2 47 0-3 2-65 1-40 1-163 1-63 2-168 0-40 2-52 1 7 2 85 0 43 2 158 1 56 1 150 1 37 2 50 0-5 2-68 1-36 1-124 1-41 2-101 0-23 2-32 1 1 2 34 0 20 2 76 1 29 1 94 1 31 2 78 1 23 1-25 1-72 1-203 1-26 2 88 0 77 2 174 1 35 1 33 1-16 2-104 1-56 1-165 1-46 2-102 0-20 1-16 2 14 1 68 1 32 2 118 0 41 2 110 1 27 2 34 0-6 2-58 1-31 1-113 1-41 2-118 0-31 2-57 1-3 1 47 1 31 2 115 0 39 2 94 1 19 1 18 1-5 2-33 1-14 1-45 1-16 2-49 0-18 2-52 1-14 1-25 1-1 2 34 0 23 2 96 1 38 2 107 0 30 2 56 0 6 2-24 1-20 2-88 0-37 2-116 1-38 1-94 1-22 2-27 0 5 2 62 1 35 2 127 0 42 2 94 0 18 2 14 1-11 2-52 0-25 2-91 1-35 1-105 1-33 2-65 0-7 2 43 1 36 2 152 0 54 2 144 0 37 2 42 1-4 2-59 0-32 2-124 1-44 1-120 1-31 2-51 0-2 2 30 1 22 1 88 1 33 2 102 0 33 2 81 1 19 2 26 0-5 2-59 1-35 1-119 1-39 2-104 0-27 2-57 1-12 1-20 1-3 1-3 1 3 2 34 1 19 2 79 0 32 2 96 1 30 1 79 1 20 2 34 0 2 2-26 1-17 1-76 1-30 2-94 0-28 2-60 1-16 2 6 0 4 2 54 1 32 1 133 1 53 2 156 0 37 2 36 1-85 1-162 1-34 1-18 1 46 2 140 1 24 1 12 1-15 2-79 1-41 1-153 1-53 2-124 0-23 1-11 2 30 1 92 1 35 2 90 0 24 2 50 1 10 2 14 0-3 2-33 1-20 1-77 1-28 2-70 1-21 1 11 1 18 1 97 1 41 2 114 0 25 2 18 1-32 2-123 0-50 2-137 1-31 1-29 1 18 2 106 0 51 2 177 1 59 1 134 1 18 2-65 0-50 2-199 1-74 2-194 0-46 1-48 2 38 1 156 1 59 2 163 0 44 2 92 1 14 1-34 1-37 2-174 0-70 2-191 1-61 2 22 0 36 2 190 1 72 1 169 1 34 2 31 0-8 2-64 1-33 1-127 1-48 2-137 0-34 2-37 1 15 2 119 0 55 2 156 1 37 1 52 1 0 2-37 0-20 2-73 1-28 1-92 1-31 2-69 0-8 2 42 1 36 2 151 0 54 2 129 0 25 2 13 1-32 2-121 0-54 2-167 1-50 1-95 1-8 2 50 0 36 2 137 1 47 2 121 0 31 2 57 0 5 2-28 1-24 2-111 0-42 2-105 1-25 1-33 1 3 2 38 0 20 2 54 1 21 2 58 0 17 2 39 0 8 2 10 1-3 2-26 0-15 2-62 1-25 1-76 1-20 2-42 0-7 2-4 1 8 2 44 0 17 2 50 0 15 2 48 1 16 2 43 0 13 2 32 1 8 1 10 1-2 2-22 0-13 2-64 1-26 1-78 1-23 2-55 0-11 2-11 1 8 2 49 0 27 2 70 1 18 1 43 1 11 2 22 0 5 2 4 1-5 1-29 1-16 2-56 0-18 2-45 1-9 1-6 1 10 2 46 1 23 1 88 1 32 2 68 0-4 2-62 1-32 1-109 1-34 2-77 0-14 2-7 1 20 2 70 0 31 2 97 1 30 1 40 1 0 2-23 0-12 2-40 1-15 1-44 1-15 2-38 0-9 2-11 1 3 2 30 0 14 2 47 1 15 1 37 1 9 2 14 0 0 2-16 1-11 1-53 1-24 2-75 0-22 2-40 1 0 2 42 0 26 2 90 1 30 1 73 1 16 2 19 0-4 2-41 1-22 1-78 1-26 2-63 0-13 2-10 1 9 2 45 0 20 2 64 1 23 1 68 1 19 2 37 0 1 2-40 1-26 1-103 1-34 2-85 0-19 2-28 1 2 2 31 0 17 2 63 1 23 1 67 1 21 2 54 0 14 2 21 1 0 1-20 1-12 2-51 0-21 2-71 1-23 2-61 0-14 2-22 1 0 1 21 1 13 2 64 0 28 2 102 1 37 1 99 1 23 1 19 1-14 2-75 1-35 2-127 0-43 2-103 1-24 1-41 1-2 2 29 0 21 2 92 1 37 1 89 1 19 2 25 0-1 2-22 1-12 2-34 0-10 2-30 0-10 2-25 1-6 2-8 0 2 2 18 1 10 1 29 1 9 2 17 1 3 1-3 1-4 2-13 0-5 2-13 0-3 2-7 1-2 1-1 1 2 2 7 1 3 1 14 1 5 2 16 0 4 2 9 1 0 2-7 0-5 2-23 0-9 2-29 1-9 2-19 1-5 1 3 1 5 1 24 1 11 2 32 0 10 2 25 1 5 1 6 1-1 2-12 0-6 2-26 1-10 2-30 0-9 2-20 1-2 1 7 1 5 2 23 0 9 2 24 1 8 1 19 1 4 2 7 0 0 2-10 1-6 2-24 0-9 2-25 1-7 1-13 1-1 2 6 0 5 2 18 1 8 1 22 1 7 2 15 0 3 2 2 1-2 2-9 0-5 2-13 1-5 1-13 1-3 2-9 0-2 2-3 1-1 1 1 1 2 2 8 0 5 2 16 1 6 2 16 0 5 2 8 1 0 1-6 1-4 2-16 0-7 2-21 1-7 1-16 1-3 1-2 1 5 2 21 1 9 2 31 0 9 2 20 1 3 1-8 1-7 2-31 0-11 2-30 1-7 1-11 1 0 2 12 0 8 2 30 1 12 2 35 0 9 2 15 1-1 1-21 2-24 0 283" stroke="#a2142f" stroke-width="7.0" fill="none" stroke-linejoin="round"/></g>
<path d="M176.04 1176.5v-5.2M176.04 1022.3v5.2M235.39 1176.5v-5.2M235.39 1022.3v5.2M294.73 1176.5v-5.2M294.73 1022.3v5.2M354.08 1176.5v-5.2M354.08 1022.3v5.2M413.42 1176.5v-5.2M413.42 1022.3v5.2M472.77 1176.5v-5.2M472.77 1022.3v5.2M532.11 1176.5v-5.2M532.11 1022.3v5.2M591.46 1176.5v-5.2M591.46 1022.3v5.2M116.7 1150.8h5.2M650.8 1150.8h-5.2M116.7 1125.1h5.2M650.8 1125.1h-5.2M116.7 1099.4h5.2M650.8 1099.4h-5.2M116.7 1073.7h5.2M650.8 1073.7h-5.2M116.7 1048h5.2M650.8 1048h-5.2" stroke="#262626" stroke-width="0.95" fill="none"/>
<rect x="116.7" y="1022.3" width="534.1" height="154.2" fill="none" stroke="#262626" stroke-width="0.9"/>
<g fill="#262626"><text transform="translate(116.7 1189.5) scale(1.2 1)" font-size="9.5" text-anchor="middle">0</text><text transform="translate(176.04 1189.5) scale(1.2 1)" font-size="9.5" text-anchor="middle">1000</text><text transform="translate(235.39 1189.5) scale(1.2 1)" font-size="9.5" text-anchor="middle">2000</text><text transform="translate(294.73 1189.5) scale(1.2 1)" font-size="9.5" text-anchor="middle">3000</text><text transform="translate(354.08 1189.5) scale(1.2 1)" font-size="9.5" text-anchor="middle">4000</text><text transform="translate(413.42 1189.5) scale(1.2 1)" font-size="9.5" text-anchor="middle">5000</text><text transform="translate(472.77 1189.5) scale(1.2 1)" font-size="9.5" text-anchor="middle">6000</text><text transform="translate(532.11 1189.5) scale(1.2 1)" font-size="9.5" text-anchor="middle">7000</text><text transform="translate(591.46 1189.5) scale(1.2 1)" font-size="9.5" text-anchor="middle">8000</text><text transform="translate(650.8 1189.5) scale(1.2 1)" font-size="9.5" text-anchor="middle">9000</text><text transform="translate(111.3 1180.82) scale(1.2 1)" font-size="9.5" text-anchor="end">-3</text><text transform="translate(111.3 1155.12) scale(1.2 1)" font-size="9.5" text-anchor="end">-2</text><text transform="translate(111.3 1129.42) scale(1.2 1)" font-size="9.5" text-anchor="end">-1</text><text transform="translate(111.3 1103.72) scale(1.2 1)" font-size="9.5" text-anchor="end">0</text><text transform="translate(111.3 1078.02) scale(1.2 1)" font-size="9.5" text-anchor="end">1</text><text transform="translate(111.3 1052.32) scale(1.2 1)" font-size="9.5" text-anchor="end">2</text><text transform="translate(111.3 1026.62) scale(1.2 1)" font-size="9.5" text-anchor="end">3</text></g>
<text transform="translate(383.75 1201.4) scale(1.24 1)" font-size="10" text-anchor="middle" fill="#262626">Samples</text>
<text transform="translate(93.9 1099.4) scale(1.24 1) rotate(-90)" font-size="10" text-anchor="middle" fill="#262626">Amplitude</text>
<rect x="538.3" y="1029.4" width="102.9" height="13.8" fill="#fff" stroke="#262626" stroke-width="0.8"/>
<path d="M542 1036.1H575.8" stroke="#a2142f" stroke-width="0.8"/>
<text transform="translate(579.1 1039.02) scale(1.25 1)" font-size="8.1" fill="#000">Delta rhythm</text>
<text transform="translate(32.6 1110.75) rotate(-90)" font-size="22.5" text-anchor="middle" fill="#000" font-family='"Liberation Serif", serif'>(f)</text>
<rect x="0" y="0" width="685" height="1" fill="#222"/><rect x="0" y="0" width="1" height="1205.5" fill="#000"/><rect x="684" y="0" width="1" height="1205.5" fill="#555"/><rect x="0" y="1204.5" width="685" height="1.5" fill="#333"/><rect x="63" y="0" width="2" height="1205.5" fill="#555"/><rect x="0" y="217" width="685" height="2" fill="#333"/><rect x="0" y="421.6" width="685" height="1.5" fill="#000"/><rect x="0" y="608.7" width="685" height="1.5" fill="#111"/><rect x="0" y="812" width="685" height="2" fill="#444"/><rect x="0" y="1016" width="685" height="2" fill="#333"/>
</svg>
</body></html>
